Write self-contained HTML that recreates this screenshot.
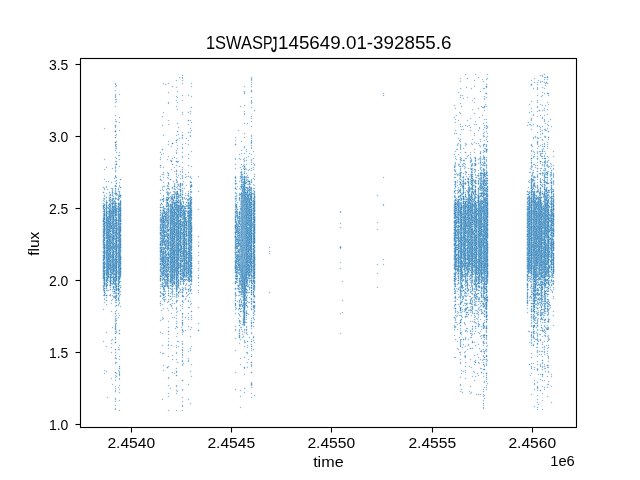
<!DOCTYPE html>
<html><head><meta charset="utf-8"><title>1SWASPJ145649.01-392855.6</title>
<style>html,body{margin:0;padding:0;background:#fff;overflow:hidden}svg{display:block;will-change:transform}text{font-family:"Liberation Sans",sans-serif;fill:#000}</style>
</head><body>
<svg width="640" height="480" viewBox="0 0 640 480">
<rect width="640" height="480" fill="#fff"/>
<g transform="translate(.5 0)" fill="none" stroke="#1f77b4" stroke-width="1"><path d="M102 187v1m0 10v1m0 1v1m0 2v1m0 5v1m0 3v5m0 4v1m0 2v1m0 7v1m0 4v1m0 4v1m0 2v1m0 1v2m0 3v1m0 26v1m0 1v1m0 2v1m0 1v4m0 4v1m0 13v1m0 31v1M103 128v1m0 30v1m0 9v1m0 9v1m0 6v1m0 2v1m0 5v3m0 4v1m0 93v1m0 1v2m0 2v1m0 5v1m0 1v1m0 29v1m0 1v1m0 27v1m0 2v1M104 127v1m0 1v1m0 28v1m0 1v1m0 7v1m0 1v1m0 7v1m0 1v1m0 9v1m0 3v1m0 7v1m0 94v1m0 2v2m0 1v1m0 5v1m0 31v1m0 27v1m0 1v2m0 1v1M105 128v1m0 30v1m0 7v1m0 1v1m0 9v1m0 1v1m0 4v4m0 3v1m0 1v2m0 1v3m0 86v1m0 3v1m0 5v3m0 2v1m0 1v1m0 27v1m0 13v1m0 23v2m0 1v1M106 166v1m0 1v1m0 11v1m0 1v1m0 2v1m0 2v2m0 2v1m0 1v1m0 4v1m0 91v1m0 1v1m0 4v1m0 4v1m0 1v1m0 25v1m0 1v1m0 11v1m0 1v1m0 22v1m0 1v1m0 24v1M107 167v1m0 18v3m0 1v1m0 2v1m0 6v1m0 86v1m0 1v1m0 1v1m0 5v1m0 6v1m0 27v1m0 13v1m0 24v1m0 24v1m0 1v1M108 180v1m0 1v1m0 6v1m0 5v1m0 1v3m0 2v2m0 80v1m0 4v1m0 1v1m0 3v1m0 101v1M109 181v1m0 104v2m0 2v1m0 5v1M110 182v1m0 5v1m0 104v1m0 2v1m0 3v1m0 2v1m0 7v1m0 28v1m0 2v1m0 3v1m0 4v1m0 25v1M111 168v1m0 12v1m0 1v1m0 3v1m0 2v2m0 1v1m0 93v1m0 3v1m0 2v1m0 6v2m0 1v1m0 5v1m0 1v1m0 14v1m0 13v2m0 1v1m0 1v1m0 1v1m0 2v1m0 1v1m0 23v1m0 1v1m0 4v1M112 167v1m0 1v1m0 12v1m0 4v1m0 97v1m0 6v3m0 2v2m0 4v1m0 7v1m0 14v1m0 1v1m0 9v1m0 4v1m0 3v1m0 4v1m0 25v1m0 4v1m0 1v1M113 168v1m0 9v1m0 9v4m0 2v1m0 95v1m0 3v1m0 3v2m0 27v1m0 11v1m0 44v1M114 83v2m0 1v1m0 3v1m0 3v4m0 1v1m0 2v1m0 3v1m0 8v1m0 3v1m0 1v1m0 4v2m0 2v1m0 4v1m0 8v3m0 1v1m0 1v1m0 6v1m0 3v1m0 2v1m0 1v3m0 1v2m0 3v1m0 3v1m0 1v1m0 4v1m0 2v3m0 4v2m0 96v1m0 5v1m0 1v1m0 3v1m0 4v1m0 4v1m0 1v4m0 1v3m0 1v1m0 3v1m0 7v1m0 12v1m0 2v1m0 1v2m0 3v2m0 11v1m0 1v1m0 2v1m0 5v1m0 1v1m0 1v2m0 6v2m0 1v1m0 3v1m0 2v2M115 82v1m0 4v1m0 1v1m0 1v1m0 1v1m0 6v1m0 2v1m0 1v1m0 1v1m0 6v1m0 1v1m0 1v1m0 3v1m0 5v2m0 21v2m0 3v1m0 3v1m0 1v1m0 9v1m0 1v1m0 7v1m0 13v1m0 106v1m0 3v1m0 32v1m0 10v1m0 1v2m0 4v1m0 1v1m0 2v1m0 9v1m0 3v2m0 1v1m0 3v1m0 6v1m0 4v1m0 4v1m0 1v1m0 1v2m0 2v1M116 83v1m0 6v1m0 3v5m0 7v1m0 8v1m0 3v2m0 1v1m0 3v2m0 2v1m0 2v1m0 6v1m0 2v1m0 5v3m0 1v1m0 5v2m0 5v3m0 1v2m0 3v1m0 2v2m0 7v1m0 1v3m0 4v1m0 4v1m0 101v1m0 5v1m0 4v1m0 2v1m0 4v1m0 2v1m0 1v1m0 2v1m0 8v1m0 12v1m0 2v1m0 3v1m0 1v1m0 12v1m0 5v1m0 5v1m0 1v1m0 1v2m0 6v2m0 1v1m0 3v1m0 2v2M117 85v1m0 13v1m0 1v1m0 19v1m0 12v1m0 6v1m0 2v1m0 1v1m0 1v1m0 3v1m0 2v1m0 2v1m0 2v1m0 1v1m0 13v1m0 2v1m0 5v1m0 1v2m0 1v1m0 4v2m0 7v1m0 76v1m0 4v1m0 4v1m0 1v1m0 1v1m0 5v1m0 1v1m0 5v1m0 2v1m0 1v1m0 1v2m0 1v1m0 2v1m0 7v2m0 14v1m0 1v1m0 8v1m0 3v1m0 7v1m0 2v1m0 2v1m0 10v1M118 94v1m0 22v1m0 4v1m0 7v1m0 21v1m0 1v1m0 1v1m0 2v1m0 6v1m0 15v1m0 2v3m0 5v1m0 7v1m0 99v2m0 3v1m0 5v1m0 1v3m0 1v1m0 26v2m0 3v1m0 5v1m0 2v1m0 9v1m0 2v2m0 1v1m0 2v2m0 5v2m0 1v2m0 2v1m0 7v1m0 9v1M119 93v1m0 1v1m0 20v1m0 1v1m0 2v1m0 1v1m0 5v1m0 1v1m0 19v1m0 1v2m0 1v1m0 1v1m0 1v1m0 4v1m0 1v1m0 13v1m0 1v2m0 3v3m0 114v2m0 6v2m0 1v2m0 26v1m0 1v3m0 1v1m0 4v1m0 1v2m0 1v1m0 15v2m0 2v1m0 3v1m0 1v3m0 1v2m0 1v1m0 5v1m0 1v1m0 7v1m0 1v1M120 94v1m0 22v1m0 4v1m0 7v1m0 21v1m0 2v1m0 3v1m0 6v1m0 15v1m0 2v1m0 5v3m0 5v1m0 80v1m0 3v1m0 4v2m0 2v1m0 2v1m0 3v1m0 1v2m0 1v1m0 1v1m0 7v1m0 29v1m0 3v1m0 6v1m0 2v1m0 11v3m0 1v1m0 2v2m0 5v1m0 3v1m0 2v1m0 7v1m0 9v1M121 196v2m0 2v1m0 5v1m0 18v1m0 6v1m0 4v1m0 10v1m0 3v4m0 4v1m0 5v1m0 9v2m0 3v1m0 3v1m0 5v1m0 2v1m0 11v1M159 152v1m0 4v1m0 1v1m0 7v1m0 8v1m0 13v1m0 2v1m0 5v2m0 3v2m0 8v1m0 2v2m0 2v2m0 12v1m0 2v2m0 2v1m0 10v1m0 12v1m0 6v1m0 7v1m0 2v1m0 1v1m0 1v1m0 2v1m0 3v1m0 5v1m0 3v1m0 14v1m0 11v1m0 19v1M160 151v1m0 1v2m0 1v1m0 3v1m0 7v1m0 6v1m0 1v1m0 11v1m0 1v2m0 1v1m0 3v1m0 2v1m0 80v2m0 5v2m0 3v1m0 5v1m0 5v1m0 3v1m0 8v1m0 1v1m0 9v1m0 1v1m0 17v1m0 1v1M161 116v1m0 8v1m0 26v2m0 1v1m0 1v1m0 1v1m0 7v1m0 6v1m0 1v1m0 4v1m0 5v1m0 1v2m0 2v1m0 6v1m0 4v2m0 1v1m0 72v2m0 4v2m0 2v1m0 3v1m0 2v1m0 2v1m0 2v2m0 3v1m0 1v1m0 5v1m0 1v2m0 11v2m0 11v1m0 6v2m0 45v1M162 83v1m0 28v1m0 2v1m0 1v1m0 6v1m0 1v1m0 8v1m0 17v2m0 12v1m0 4v2m0 1v1m0 1v1m0 2v1m0 1v1m0 12v2m0 8v1m0 82v1m0 2v2m0 10v1m0 1v1m0 2v1m0 1v1m0 5v1m0 3v1m0 11v1m0 1v1m0 9v1m0 1v1m0 5v1m0 1v1m0 10v1m0 4v1m0 27v1m0 1v1M163 82v1m0 1v1m0 26v1m0 1v1m0 2v1m0 8v1m0 8v1m0 1v1m0 15v1m0 1v1m0 11v1m0 1v1m0 2v1m0 3v2m0 1v1m0 2v1m0 1v1m0 1v1m0 5v1m0 2v1m0 9v1m0 76v1m0 19v1m0 2v1m0 2v1m0 1v1m0 23v1m0 11v1m0 6v1m0 1v1m0 9v1m0 1v1m0 2v1m0 1v1m0 27v1M164 83v2m0 27v1m0 22v1m0 17v1m0 13v1m0 4v1m0 1v1m0 2v1m0 4v1m0 2v1m0 1v1m0 2v1m0 4v2m0 2v2m0 91v1m0 9v1m0 5v1m0 9v1m0 34v1m0 11v1m0 4v1M165 83v1m0 1v1m0 100v1m0 2v1m0 2v1m0 4v2m0 3v4m0 1v1m0 70v1m0 8v3m0 5v1m0 2v1m0 2v1M166 84v1m0 74v1m0 12v1m0 4v1m0 7v2m0 3v1m0 5v1m0 94v1m0 1v1m0 2v1m0 2v1m0 2v1m0 5v1M167 83v1m0 8v1m0 9v2m0 16v1m0 3v1m0 16v1m0 2v1m0 11v1m0 1v1m0 1v1m0 10v1m0 4v1m0 5v1m0 7v1m0 99v2m0 7v1m0 3v1m0 3v1m0 1v2m0 10v1m0 5v1m0 6v1m0 3v1m0 2v1m0 2v2m0 2v1m0 7v1m0 20v2m0 6v1m0 7v1m0 2v1m0 13v1M168 82v1m0 1v1m0 6v1m0 1v1m0 7v1m0 2v1m0 14v1m0 1v1m0 1v1m0 1v1m0 14v1m0 1v2m0 1v1m0 9v1m0 1v1m0 1v1m0 19v1m0 1v1m0 19v1m0 96v1m0 9v2m0 1v1m0 8v1m0 1v1m0 3v1m0 1v1m0 4v1m0 1v1m0 1v1m0 1v2m0 1v2m0 2v2m0 1v1m0 5v1m0 1v1m0 7v1m0 10v1m0 2v1m0 4v1m0 1v1m0 5v1m0 1v2m0 1v1m0 11v1m0 1v1M169 83v1m0 8v1m0 9v2m0 16v1m0 3v1m0 16v1m0 2v1m0 11v1m0 3v1m0 17v1m0 3v1m0 1v1m0 1v1m0 3v1m0 4v1m0 3v1m0 2v2m0 82v1m0 3v2m0 18v1m0 10v1m0 5v1m0 6v1m0 3v1m0 2v1m0 2v2m0 2v1m0 7v1m0 9v1m0 10v2m0 6v1m0 2v1m0 4v1m0 2v1m0 13v1M170 146v1m0 12v1m0 9v1m0 19v1m0 1v1m0 10v1m0 91v1m0 5v1m0 5v1m0 6v1m0 31v1m0 41v1m0 1v1M171 86v1m0 58v1m0 1v1m0 10v2m0 8v1m0 1v1m0 17v1m0 3v1m0 94v1m0 6v1m0 2v1m0 2v1m0 2v1m0 3v2m0 3v1m0 1v1m0 2v1m0 26v1m0 1v1m0 8v1m0 3v1m0 12v1m0 15v1M172 85v1m0 1v1m0 58v1m0 10v1m0 1v2m0 8v1m0 11v1m0 7v1m0 1v1m0 1v1m0 103v3m0 1v2m0 1v4m0 1v1m0 3v1m0 2v1m0 1v1m0 26v1m0 8v1m0 1v1m0 1v1m0 1v1m0 10v1m0 1v1M173 86v1m0 70v2m0 8v1m0 3v1m0 8v1m0 1v4m0 3v2m0 2v1m0 95v2m0 1v2m0 6v1m0 7v1m0 46v1m0 3v1m0 12v2M174 156v1m0 1v1m0 7v1m0 1v1m0 1v1m0 1v1m0 8v2m0 104v1m0 1v1m0 3v1m0 3v1m0 4v1m0 1v1m0 11v1m0 1v1m0 9v1m0 43v1m0 1v1M175 80v1m0 6v1m0 8v1m0 3v1m0 5v1m0 28v1m0 6v1m0 7v1m0 1v2m0 3v2m0 6v1m0 1v1m0 5v2m0 1v1m0 2v1m0 2v4m0 1v1m0 2v1m0 102v1m0 1v1m0 1v1m0 2v1m0 1v2m0 3v3m0 2v1m0 2v1m0 1v2m0 2v1m0 1v1m0 3v1m0 1v1m0 6v1m0 8v1m0 1v1m0 4v2m0 5v1m0 8v1m0 3v2m0 11v2m0 3v1m0 2v1m0 16v1M176 79v1m0 1v1m0 4v1m0 1v1m0 2v1m0 3v1m0 3v1m0 1v2m0 2v1m0 1v1m0 1v1m0 13v1m0 10v1m0 1v1m0 6v1m0 1v1m0 2v2m0 4v1m0 2v1m0 1v1m0 4v1m0 1v1m0 11v1m0 4v2m0 4v2m0 107v2m0 3v1m0 2v1m0 3v1m0 2v2m0 1v2m0 1v2m0 3v1m0 3v1m0 4v1m0 1v1m0 1v1m0 3v1m0 2v1m0 3v1m0 2v1m0 2v1m0 3v1m0 1v1m0 1v1m0 4v1m0 1v1m0 3v1m0 10v1m0 2v1m0 1v1m0 2v1m0 1v1m0 14v1m0 1v1M177 80v1m0 6v1m0 2v1m0 1v1m0 5v1m0 1v2m0 1v1m0 2v1m0 1v1m0 1v1m0 11v1m0 1v1m0 2v1m0 6v2m0 2v1m0 3v1m0 1v1m0 1v2m0 1v2m0 1v2m0 4v1m0 1v1m0 2v1m0 1v1m0 5v1m0 1v3m0 2v2m0 117v1m0 1v1m0 2v1m0 4v4m0 4v1m0 2v1m0 2v1m0 1v1m0 4v1m0 3v1m0 1v1m0 1v1m0 3v1m0 1v1m0 2v3m0 4v2m0 5v1m0 1v1m0 1v1m0 4v1m0 3v1m0 12v2m0 5v2m0 16v1M178 77v1m0 13v1m0 5v1m0 4v1m0 6v1m0 13v1m0 2v1m0 1v1m0 4v1m0 1v1m0 2v2m0 5v1m0 2v1m0 11v1m0 5v1m0 7v1m0 1v2m0 3v3m0 6v1m0 98v1m0 7v1m0 2v1m0 10v1m0 15v1m0 5v1m0 6v1m0 1v1m0 2v1m0 1v1m0 14v1m0 28v1M179 76v1m0 1v1m0 48v1m0 6v1m0 2v1m0 1v1m0 21v1m0 3v1m0 1v1m0 3v1m0 2v2m0 2v1m0 9v1m0 9v1m0 76v1m0 10v1m0 6v1m0 1v2m0 8v1m0 4v1m0 30v1m0 4v1M180 77v1m0 60v1m0 27v1m0 3v1m0 1v2m0 1v1m0 1v1m0 1v1m0 105v1m0 7v1m0 10v1m0 1v1m0 2v1m0 1v1m0 15v1M181 75v1m0 1v2m0 1v1m0 2v1m0 11v1m0 4v1m0 11v1m0 1v1m0 17v1m0 4v2m0 5v1m0 2v2m0 3v1m0 3v2m0 4v1m0 4v1m0 1v1m0 2v1m0 1v4m0 8v3m0 3v1m0 89v3m0 2v1m0 2v2m0 8v1m0 3v3m0 1v1m0 1v1m0 3v1m0 1v2m0 6v3m0 1v2m0 2v1m0 1v1m0 6v1m0 1v2m0 2v1m0 1v1m0 2v1m0 1v2m0 1v1m0 2v1m0 3v2m0 23v2m0 6v1m0 3v1m0 3v2m0 3v1M182 74v1m0 6v2m0 1v1m0 9v1m0 1v1m0 2v1m0 1v1m0 9v1m0 3v1m0 15v1m0 1v1m0 5v1m0 3v1m0 1v2m0 2v1m0 1v1m0 1v1m0 1v1m0 2v1m0 2v1m0 1v1m0 2v1m0 6v2m0 4v1m0 1v2m0 3v2m0 32v1m0 63v1m0 1v1m0 12v1m0 3v1m0 5v1m0 8v1m0 7v3m0 6v1m0 4v1m0 4v2m0 11v2m0 6v1m0 21v1m0 2v1m0 4v1m0 1v1m0 1v1m0 1v1m0 1v1m0 2v1m0 1v1m0 1v1M183 75v1m0 1v2m0 1v1m0 2v1m0 11v1m0 4v1m0 11v1m0 1v1m0 17v1m0 4v2m0 5v1m0 2v2m0 3v1m0 3v2m0 4v1m0 4v1m0 1v1m0 1v2m0 2v4m0 1v1m0 1v2m0 1v1m0 4v3m0 7v1m0 84v1m0 14v1m0 2v2m0 1v1m0 1v1m0 5v1m0 1v2m0 6v2m0 3v1m0 4v1m0 6v1m0 1v2m0 2v1m0 1v1m0 2v1m0 1v2m0 1v1m0 2v1m0 1v1m0 2v1m0 23v2m0 6v1m0 3v1m0 3v2m0 3v1M184 143v1m0 30v1m0 2v1m0 3v1m0 5v1m0 1v1m0 3v1m0 1v2m0 4v4m0 79v2m0 1v1m0 1v2m0 7v2m0 2v1m0 14v1m0 12v2m0 31v1M185 138v1m0 3v1m0 1v1m0 28v1m0 1v1m0 2v1m0 6v1m0 2v1m0 3v1m0 3v2m0 2v1m0 2v1m0 79v1m0 6v1m0 1v2m0 2v2m0 2v1m0 15v1m0 1v1m0 10v1m0 1v1M186 137v1m0 1v1m0 3v1m0 30v2m0 8v1m0 1v1m0 6v1m0 3v1m0 2v1m0 6v1m0 1v1m0 4v1m0 67v1m0 4v1m0 2v2m0 2v1m0 2v3m0 17v1m0 12v1M187 95v1m0 16v1m0 11v1m0 7v1m0 5v1m0 1v1m0 3v1m0 9v1m0 3v1m0 6v1m0 6v1m0 12v1m0 5v1m0 2v1m0 6v1m0 7v1m0 73v3m0 4v4m0 6v2m0 5v1m0 5v1m0 3v1m0 1v1m0 6v1m0 24v1m0 6v1m0 1v2m0 22v1m0 14v1M188 94v1m0 1v1m0 14v1m0 1v1m0 9v1m0 1v1m0 5v1m0 1v1m0 5v1m0 1v1m0 1v1m0 1v1m0 7v1m0 1v1m0 1v1m0 1v1m0 4v1m0 1v1m0 4v1m0 1v1m0 1v1m0 1v1m0 12v1m0 6v1m0 84v1m0 1v1m0 1v1m0 5v1m0 4v1m0 1v1m0 2v1m0 3v1m0 1v1m0 3v1m0 1v1m0 1v1m0 3v1m0 4v1m0 1v1m0 22v1m0 1v1m0 4v1m0 4v1m0 20v1m0 1v1m0 12v1m0 1v1M189 95v1m0 15v3m0 10v1m0 3v1m0 6v2m0 3v1m0 3v1m0 9v1m0 3v1m0 6v1m0 6v1m0 4v1m0 3v1m0 3v1m0 1v1m0 1v1m0 2v1m0 1v1m0 97v1m0 3v1m0 1v1m0 1v1m0 3v1m0 1v1m0 1v1m0 4v1m0 3v1m0 1v1m0 6v1m0 2v1m0 6v1m0 11v1m0 1v2m0 6v1m0 1v2m0 9v1m0 12v1m0 14v1m0 3v1M190 83v1m0 2v1m0 9v1m0 10v1m0 2v1m0 3v1m0 4v1m0 1v2m0 4v1m0 1v3m0 1v2m0 2v1m0 13v1m0 14v1m0 8v1m0 4v1m0 111v1m0 4v1m0 2v1m0 1v1m0 2v1m0 1v1m0 7v1m0 1v1m0 1v1m0 7v2m0 1v1m0 4v1m0 1v1m0 8v2m0 3v1m0 12v1m0 5v1m0 1v1m0 3v1m0 25v1m0 1v1M191 82v1m0 1v2m0 1v1m0 7v1m0 1v1m0 8v1m0 1v1m0 2v1m0 1v1m0 6v2m0 1v1m0 4v2m0 1v2m0 2v2m0 13v1m0 1v1m0 12v1m0 1v1m0 8v1m0 2v1m0 9v2m0 2v2m0 90v4m0 2v2m0 1v1m0 6v2m0 11v1m0 5v1m0 5v1m0 1v2m0 6v1m0 8v1m0 1v2m0 1v1m0 12v1m0 1v1m0 5v1m0 3v1m0 1v1m0 25v1M192 83v1m0 2v1m0 9v1m0 10v1m0 14v1m0 7v1m0 20v1m0 14v1m0 11v1m0 3v1m0 1v1m0 6v2m0 7v1m0 2v2m0 1v4m0 3v1m0 5v2m0 2v3m0 6v1m0 5v1m0 2v1m0 1v1m0 1v1m0 2v1m0 3v1m0 6v1m0 7v1m0 2v1m0 4v1m0 2v1m0 4v2m0 4v1m0 3v1m0 9v1m0 11v1m0 1v1m0 1v1m0 7v1m0 18v1m0 17v1m0 11v1M197 176v1m0 14v1m0 17v1m0 26v1m0 5v1m0 2v2m0 5v1m0 2v1m0 5v1m0 1v1m0 4v1m0 1v1m0 4v1m0 1v2m0 3v1m0 2v1m0 4v1m0 1v1m0 14v1m0 15v1M198 175v1m0 1v1m0 12v1m0 1v1m0 15v1m0 1v1m0 24v1m0 1v1m0 3v1m0 1v2m0 2v1m0 3v1m0 1v2m0 1v1m0 3v1m0 3v1m0 2v1m0 3v1m0 2v1m0 4v1m0 1v1m0 1v2m0 1v1m0 2v1m0 3v1m0 12v1m0 1v1m0 13v1m0 1v1M199 176v1m0 14v1m0 17v1m0 26v1m0 5v1m0 2v2m0 5v1m0 2v1m0 5v1m0 1v1m0 4v1m0 1v1m0 4v1m0 1v2m0 3v1m0 2v1m0 4v1m0 1v1m0 14v1m0 15v1M234 137v1m0 2v1m0 17v2m0 4v1m0 3v1m0 7v1m0 1v1m0 2v1m0 2v1m0 2v1m0 4v2m0 2v1m0 2v1m0 1v1m0 1v2m0 1v2m0 6v2m0 2v1m0 5v1m0 4v3m0 2v2m0 2v1m0 2v1m0 7v2m0 2v1m0 1v2m0 1v1m0 4v1m0 7v1m0 3v1m0 13v1m0 2v1m0 1v3m0 1v1m0 8v1m0 1v1m0 3v1m0 12v1m0 2v2m0 7v1m0 11v1m0 21v1m0 16v1M235 136v1m0 1v2m0 1v1m0 15v1m0 2v1m0 2v1m0 1v1m0 1v1m0 1v1m0 5v1m0 9v2m0 4v1m0 2v1m0 95v2m0 18v1m0 1v1m0 1v1m0 10v1m0 1v2m0 2v1m0 5v1m0 1v1m0 9v1m0 1v1m0 19v1m0 1v1m0 14v1m0 1v1M236 137v1m0 2v1m0 17v2m0 4v1m0 3v1m0 7v1m0 1v1m0 2v2m0 3v2m0 2v1m0 11v1m0 82v1m0 3v1m0 2v1m0 5v1m0 2v1m0 11v1m0 12v1m0 2v2m0 7v1m0 11v1m0 21v1m0 16v1M237 130v1m0 52v1m0 1v1m0 1v1m0 1v1m0 3v1m0 1v2m0 1v1m0 1v2m0 1v1m0 79v2m0 2v1m0 3v1m0 8v1m0 1v1m0 5v2m0 3v1m0 4v1M238 129v1m0 1v1m0 22v1m0 3v1m0 22v1m0 4v1m0 1v1m0 4v3m0 1v1m0 1v2m0 1v1m0 3v1m0 68v1m0 3v1m0 3v1m0 10v1m0 1v1m0 5v1m0 3v1m0 3v1m0 1v1m0 2v1m0 1v1m0 1v1m0 1v2m0 6v3m0 11v1M239 106v1m0 23v1m0 22v1m0 1v1m0 1v1m0 9v1m0 4v1m0 5v1m0 1v1m0 1v1m0 3v2m0 4v1m0 8v1m0 2v2m0 1v1m0 2v1m0 85v1m0 1v1m0 19v1m0 8v2m0 10v1m0 2v1m0 1v1m0 13v1m0 5v1m0 25v1m0 5v1m0 10v1M240 105v1m0 1v1m0 33v1m0 8v1m0 2v2m0 5v1m0 3v1m0 1v1m0 1v2m0 12v1m0 7v1m0 1v1m0 93v1m0 3v1m0 5v2m0 5v1m0 3v1m0 6v1m0 2v1m0 6v1m0 1v1m0 1v1m0 1v2m0 6v1m0 1v1m0 2v1m0 13v1m0 1v1m0 3v1m0 1v1m0 23v1m0 1v1m0 3v1m0 1v1m0 8v1m0 1v1M241 106v1m0 33v1m0 1v1m0 6v1m0 1v2m0 1v1m0 4v1m0 3v1m0 1v4m0 128v2m0 8v1m0 2v1m0 1v1m0 3v1m0 4v1m0 1v2m0 1v1m0 3v2m0 2v1m0 2v1m0 1v1m0 18v1m0 5v1m0 25v1m0 5v1m0 10v1M242 141v1m0 8v1m0 2v1m0 5v1m0 4v1m0 2v3m0 1v1m0 129v1m0 7v1m0 2v2m0 1v3m0 9v1m0 1v2m0 1v2m0 1v1m0 2v1M243 86v1m0 4v3m0 11v1m0 5v1m0 1v2m0 8v1m0 9v1m0 3v1m0 8v2m0 5v1m0 7v1m0 9v2m0 1v1m0 151v1m0 2v4m0 1v2m0 4v3m0 3v1m0 10v1m0 10v1m0 5v1m0 13v1m0 3v1M244 85v1m0 1v1m0 2v1m0 3v1m0 9v1m0 1v1m0 3v1m0 4v1m0 6v1m0 1v1m0 7v1m0 1v1m0 1v1m0 1v1m0 6v1m0 2v1m0 3v1m0 1v1m0 2v1m0 4v2m0 162v1m0 1v1m0 4v1m0 2v1m0 2v1m0 3v1m0 1v1m0 1v1m0 8v1m0 1v1m0 10v1m0 3v1m0 1v1m0 11v1m0 1v1m0 1v1m0 1v1M245 86v1m0 4v3m0 11v1m0 5v1m0 1v2m0 8v1m0 9v1m0 3v1m0 8v2m0 1v1m0 1v1m0 1v1m0 3v2m0 2v1m0 9v2m0 147v1m0 4v3m0 5v1m0 6v1m0 2v1m0 2v1m0 5v1m0 4v1m0 10v1m0 5v1m0 13v1m0 3v1M246 123v1m0 24v1m0 3v1m0 3v1m0 1v2m0 1v1m0 1v1m0 1v1m0 4v1m0 1v1m0 1v1m0 9v1m0 122v1m0 1v1m0 10v2m0 1v1m0 1v1m0 16v1m0 2v1m0 1v1m0 3v1m0 10v1m0 4v1M247 122v1m0 1v1m0 24v1m0 1v1m0 4v2m0 2v1m0 3v1m0 4v2m0 2v2m0 8v1m0 1v2m0 107v1m0 3v2m0 3v1m0 4v1m0 1v2m0 5v1m0 1v1m0 2v1m0 3v2m0 2v1m0 1v1m0 2v1m0 8v1m0 3v1m0 2v1m0 2v1m0 4v1m0 1v1m0 1v1m0 2v1m0 1v1M248 123v1m0 29v1m0 1v1m0 1v1m0 13v1m0 3v2m0 1v1m0 6v1m0 97v1m0 4v4m0 1v1m0 1v1m0 1v1m0 5v1m0 2v2m0 7v1m0 18v1m0 2v1m0 7v1m0 1v1m0 4v2m0 4v1m0 1v1m0 1v1m0 4v1M249 152v1m0 1v1m0 1v1m0 11v1m0 8v1m0 112v2m0 1v1m0 2v1m0 1v1m0 2v1m0 1v1m0 10v1m0 21v1m0 1v1m0 20v1M250 77v4m0 1v1m0 1v1m0 1v1m0 3v1m0 6v1m0 2v4m0 3v1m0 8v1m0 1v1m0 2v1m0 4v1m0 8v2m0 1v1m0 1v2m0 1v1m0 1v1m0 1v2m0 4v2m0 4v2m0 1v1m0 1v1m0 3v3m0 8v2m0 4v1m0 97v2m0 4v1m0 1v1m0 1v1m0 3v1m0 4v1m0 1v1m0 1v1m0 1v1m0 9v1m0 1v1m0 2v1m0 2v1m0 1v1m0 3v2m0 3v1m0 1v1m0 4v1m0 3v1m0 1v1m0 3v1m0 9v3m0 15v1m0 2v1m0 1v1m0 5v1m0 3v1M251 76v1m0 10v1m0 1v1m0 6v1m0 1v2m0 4v1m0 1v1m0 1v1m0 6v1m0 3v2m0 1v1m0 2v1m0 1v1m0 6v1m0 14v1m0 3v1m0 1v1m0 2v1m0 6v1m0 1v1m0 3v1m0 6v1m0 5v1m0 1v1m0 130v1m0 11v1m0 1v1m0 2v1m0 3v1m0 4v1m0 7v1m0 1v1m0 13v1m0 13v1m0 6v1m0 3v1m0 1v1m0 1v1m0 1v1M252 77v4m0 1v1m0 1v1m0 1v1m0 3v1m0 6v1m0 2v4m0 3v1m0 8v1m0 1v1m0 2v1m0 4v1m0 8v2m0 1v1m0 1v2m0 1v1m0 1v1m0 1v2m0 2v1m0 2v1m0 3v3m0 1v3m0 2v4m0 7v4m0 2v1m0 2v1m0 1v1m0 1v1m0 103v2m0 5v1m0 1v2m0 2v1m0 3v2m0 1v1m0 1v1m0 2v1m0 2v1m0 4v1m0 3v2m0 2v1m0 2v2m0 3v1m0 3v3m0 3v1m0 9v3m0 15v1m0 2v1m0 1v1m0 5v1m0 3v1M253 110v1m0 39v1m0 1v1m0 4v1m0 1v1m0 2v1m0 2v2m0 3v1m0 3v1m0 1v2m0 5v1m0 3v1m0 110v1m0 4v2m0 20v1m0 1v1m0 7v1m0 3v1m0 1v2m0 5v1m0 1v1m0 44v1M254 109v1m0 1v1m0 39v1m0 6v1m0 7v2m0 1v1m0 3v1m0 3v1m0 2v1m0 5v2m0 1v1m0 103v1m0 4v3m0 16v1m0 2v1m0 5v1m0 9v1m0 3v2m0 1v1m0 5v1m0 44v1m0 1v1M255 110v1m0 53v2m0 8v1m0 1v1m0 2v1m0 5v1m0 2v1m0 3v2m0 1v1m0 2v1m0 1v1m0 22v1m0 19v1m0 4v2m0 20v1m0 5v1m0 3v1m0 7v3m0 4v1m0 1v1m0 3v1m0 5v2m0 1v1m0 3v1m0 4v1m0 22v1m0 52v1M268 247v1m0 3v1m0 1v1m0 38v1M269 246v1m0 1v1m0 1v1m0 3v1m0 36v1m0 1v1M270 247v1m0 3v1m0 1v1m0 38v1M339 211v2m0 10v1m0 3v1m0 18v1m0 1v1m0 13v1m0 5v1m0 44v1m0 19v1M340 210v1m0 2v1m0 8v1m0 1v1m0 1v1m0 1v1m0 16v1m0 3v1m0 11v1m0 1v1m0 3v1m0 1v1m0 42v1m0 1v1m0 17v1m0 1v1M341 211v2m0 10v1m0 3v1m0 18v1m0 1v1m0 13v1m0 5v1m0 12v1m0 18v1m0 11v2m0 19v1M342 280v1m0 1v1m0 16v1m0 1v1m0 9v1m0 1v1M343 281v1m0 18v1m0 11v1M376 195v1m0 26v1m0 6v1m0 34v1m0 8v1m0 13v1M377 194v1m0 1v1m0 24v1m0 1v1m0 4v1m0 1v1m0 32v1m0 1v1m0 6v1m0 1v1m0 11v1m0 1v1M378 195v1m0 26v1m0 6v1m0 34v1m0 8v1m0 13v1M382 93v1m0 1v1m0 81v1m0 26v2m0 53v1m0 4v1M383 92v1m0 3v1m0 79v1m0 1v1m0 24v1m0 2v1m0 51v1m0 1v1m0 2v1m0 1v1M384 93v1m0 1v1m0 81v1m0 26v2m0 53v1m0 4v1M453 105v1m0 11v1m0 15v1m0 20v1m0 10v2m0 2v2m0 3v1m0 6v1m0 2v1m0 3v1m0 3v1m0 2v3m0 2v2m0 1v1m0 12v1m0 3v1m0 3v1m0 6v1m0 9v1m0 4v1m0 2v1m0 2v3m0 6v3m0 2v1m0 2v1m0 9v1m0 4v1m0 1v1m0 1v1m0 2v1m0 5v1m0 3v1m0 3v2m0 1v1m0 16v3m0 1v1m0 5v1m0 21v1M454 104v1m0 1v1m0 1v1m0 7v1m0 1v2m0 2v1m0 7v1m0 1v1m0 1v1m0 16v1m0 1v1m0 1v2m0 1v1m0 3v2m0 9v1m0 1v1m0 4v1m0 8v1m0 4v1m0 3v1m0 72v1m0 30v1m0 6v4m0 2v1m0 3v2m0 1v1m0 1v1m0 5v1m0 3v1m0 1v1m0 2v1m0 16v1m0 1v1M455 105v1m0 1v1m0 1v1m0 5v1m0 1v2m0 1v2m0 1v1m0 5v1m0 1v1m0 17v2m0 1v1m0 1v2m0 5v1m0 13v2m0 1v1m0 15v1m0 99v2m0 6v1m0 3v1m0 6v2m0 8v1m0 4v2m0 5v1m0 2v1m0 1v1m0 15v1m0 1v1M456 108v1m0 5v1m0 1v1m0 2v1m0 2v1m0 7v1m0 1v1m0 1v1m0 9v2m0 2v1m0 1v2m0 4v1m0 3v1m0 1v3m0 1v1m0 3v1m0 1v1m0 2v1m0 1v1m0 2v1m0 2v2m0 2v1m0 8v1m0 79v1m0 3v2m0 1v1m0 1v1m0 1v1m0 1v2m0 1v2m0 2v1m0 1v4m0 8v1m0 1v2m0 3v5m0 1v2m0 1v2m0 1v1m0 9v1m0 1v1m0 6v1m0 8v1M457 92v1m0 22v1m0 4v1m0 12v1m0 4v1m0 7v1m0 1v1m0 1v1m0 3v1m0 4v1m0 4v2m0 10v1m0 2v1m0 3v2m0 1v2m0 6v1m0 2v1m0 26v1m0 52v1m0 1v1m0 1v2m0 2v1m0 4v1m0 1v1m0 1v1m0 2v2m0 1v1m0 3v1m0 5v1m0 11v2m0 1v1m0 2v1m0 1v1m0 9v1m0 1v1m0 4v1M458 91v1m0 1v1m0 18v1m0 6v1m0 1v1m0 15v1m0 1v2m0 1v1m0 2v1m0 3v1m0 3v1m0 1v1m0 7v1m0 14v1m0 1v3m0 1v3m0 104v1m0 1v1m0 1v1m0 2v2m0 3v1m0 1v2m0 16v2m0 4v1m0 7v1m0 3v1m0 8v1m0 1v1M459 78v1m0 2v1m0 6v1m0 3v1m0 2v1m0 1v1m0 5v1m0 7v1m0 8v1m0 3v1m0 1v1m0 7v1m0 3v1m0 4v7m0 2v1m0 1v1m0 2v1m0 2v1m0 1v2m0 3v4m0 9v1m0 4v4m0 95v1m0 6v1m0 1v1m0 4v1m0 1v1m0 4v1m0 8v1m0 1v1m0 4v1m0 2v1m0 3v1m0 1v1m0 1v1m0 3v1m0 1v8m0 3v1m0 1v1m0 1v2m0 4v1m0 2v2m0 13v1m0 6v2m0 5v1M460 77v1m0 1v2m0 1v1m0 4v1m0 1v1m0 4v1m0 3v1m0 3v1m0 1v1m0 1v1m0 7v1m0 8v1m0 3v1m0 1v1m0 3v1m0 1v1m0 2v1m0 3v2m0 6v2m0 1v1m0 2v1m0 6v2m0 148v2m0 12v1m0 9v2m0 12v1m0 3v1m0 2v1m0 1v2m0 2v1m0 5v1m0 2v1m0 2v1m0 1v1m0 4v1m0 2v1m0 2v2m0 1v1M461 78v1m0 2v1m0 6v1m0 8v1m0 5v1m0 1v1m0 1v1m0 5v1m0 10v1m0 3v1m0 1v1m0 3v1m0 4v1m0 1v1m0 2v6m0 2v1m0 8v2m0 1v1m0 3v4m0 15v3m0 1v1m0 106v1m0 7v1m0 6v2m0 6v1m0 6v1m0 1v2m0 3v1m0 2v1m0 2v5m0 1v1m0 4v1m0 1v1m0 4v1m0 2v2m0 5v1m0 1v2m0 1v1m0 2v1m0 6v2m0 2v1m0 1v3M462 94v1m0 1v1m0 1v1m0 7v1m0 18v1m0 1v1m0 20v1m0 9v1m0 8v1m0 4v2m0 4v2m0 9v1m0 1v1m0 8v1m0 3v1m0 84v1m0 2v3m0 10v1m0 1v2m0 6v1m0 2v1m0 13v1m0 1v1m0 9v1m0 1v1m0 1v1m0 21v2m0 1v1m0 15v1m0 1v1m0 1v1M463 95v1m0 1v1m0 1v1m0 26v1m0 1v1m0 1v1m0 16v1m0 1v1m0 12v1m0 5v1m0 3v1m0 1v2m0 97v1m0 10v1m0 8v1m0 7v1m0 1v2m0 1v1m0 10v1m0 4v2m0 19v1m0 1v1m0 1v1m0 4v1m0 3v1m0 13v1m0 1v1m0 19v1M464 74v1m0 23v1m0 26v1m0 3v1m0 13v1m0 1v1m0 2v1m0 9v2m0 1v2m0 6v1m0 1v4m0 1v1m0 3v1m0 8v1m0 1v1m0 3v1m0 86v1m0 3v3m0 8v4m0 1v1m0 1v1m0 7v1m0 4v1m0 3v1m0 8v2m0 5v2m0 5v1m0 1v1m0 6v1m0 8v1m0 3v1m0 3v3m0 5v1M465 73v1m0 1v1m0 11v1m0 36v1m0 1v1m0 15v1m0 3v1m0 10v1m0 1v2m0 4v1m0 4v1m0 4v2m0 4v1m0 3v1m0 1v1m0 1v3m0 105v2m0 2v2m0 3v1m0 11v1m0 3v1m0 2v1m0 2v2m0 2v1m0 3v1m0 3v1m0 4v1m0 1v1m0 2v1m0 3v1m0 3v1m0 2v1m0 1v1m0 1v1m0 1v1m0 1v1m0 3v1m0 3v1m0 1v1M466 74v1m0 3v1m0 7v1m0 1v1m0 8v1m0 22v1m0 4v2m0 29v2m0 1v1m0 4v1m0 2v1m0 6v2m0 1v2m0 3v1m0 1v1m0 3v2m0 2v1m0 2v1m0 91v1m0 2v2m0 2v1m0 2v1m0 3v2m0 21v1m0 2v1m0 9v3m0 6v1m0 2v1m0 1v1m0 3v3m0 4v1m0 3v1m0 3v1m0 1v1m0 5v1M467 77v1m0 1v1m0 7v1m0 8v1m0 1v1m0 20v1m0 1v1m0 3v1m0 1v1m0 16v1m0 12v2m0 9v1m0 5v1m0 1v2m0 6v1m0 2v1m0 8v1m0 95v1m0 1v1m0 5v1m0 1v1m0 6v2m0 4v1m0 1v1m0 9v1m0 1v1m0 2v1m0 6v1m0 4v2m0 2v1m0 1v1M468 78v1m0 18v1m0 22v1m0 4v2m0 27v1m0 12v1m0 1v1m0 3v1m0 1v2m0 101v1m0 7v2m0 4v1m0 1v3m0 12v1m0 1v1m0 4v1m0 11v1m0 2v1m0 6v1m0 1v1m0 2v1m0 2v1m0 2v1m0 16v1m0 24v1M469 118v1m0 5v1m0 1v2m0 2v1m0 21v1m0 1v2m0 1v2m0 1v3m0 12v1m0 1v1m0 6v1m0 88v1m0 8v1m0 1v1m0 1v2m0 3v3m0 1v1m0 1v1m0 1v1m0 1v1m0 2v1m0 2v1m0 3v2m0 8v1m0 8v2m0 1v1m0 3v1m0 1v1m0 4v2m0 13v1m0 5v1m0 1v1m0 18v1m0 3v1m0 1v2M470 88v1m0 28v1m0 1v1m0 5v2m0 1v2m0 1v1m0 11v1m0 7v1m0 3v2m0 6v2m0 1v2m0 3v1m0 1v1m0 12v1m0 5v1m0 91v1m0 10v1m0 1v1m0 15v1m0 1v1m0 4v1m0 1v1m0 6v1m0 4v3m0 1v1m0 19v1m0 1v1m0 5v2m0 17v1m0 1v1m0 3v1m0 2v1M471 87v1m0 1v1m0 10v1m0 8v1m0 8v1m0 8v1m0 2v1m0 8v1m0 2v1m0 9v1m0 1v1m0 2v1m0 138v1m0 16v2m0 1v1m0 11v3m0 1v1m0 5v1m0 20v1m0 6v1m0 1v1m0 7v1m0 9v1m0 4v1M472 88v1m0 10v1m0 1v1m0 6v1m0 1v1m0 27v1m0 1v1m0 4v1m0 13v4m0 4v1m0 124v1m0 2v2m0 17v2m0 4v1m0 1v1m0 9v1m0 4v1m0 9v1m0 1v1m0 17v1m0 3v1m0 3v1m0 1v1m0 14v1M473 80v1m0 5v1m0 11v1m0 1v1m0 1v1m0 6v1m0 3v1m0 10v1m0 8v1m0 1v1m0 3v1m0 2v1m0 1v1m0 4v1m0 2v1m0 4v1m0 6v1m0 3v1m0 1v1m0 25v1m0 78v1m0 9v3m0 3v1m0 1v1m0 2v1m0 2v1m0 1v1m0 3v2m0 2v1m0 1v2m0 2v1m0 1v1m0 1v1m0 2v1m0 5v2m0 1v1m0 1v2m0 13v1m0 6v1m0 5v1m0 2v1m0 5v1m0 5v1m0 3v1M474 74v1m0 4v1m0 1v1m0 3v1m0 1v1m0 9v1m0 1v1m0 1v1m0 1v1m0 8v1m0 1v1m0 6v1m0 1v1m0 1v1m0 6v1m0 3v1m0 4v1m0 1v1m0 4v1m0 1v2m0 1v1m0 2v1m0 2v1m0 1v2m0 3v1m0 6v3m0 1v1m0 1v1m0 4v1m0 101v1m0 19v1m0 3v1m0 12v1m0 4v1m0 2v2m0 1v1m0 6v1m0 1v1m0 1v1m0 8v1m0 1v1m0 6v1m0 1v1m0 7v1m0 2v1m0 2v1m0 1v1M475 73v1m0 1v1m0 4v1m0 5v1m0 11v1m0 3v1m0 10v1m0 6v1m0 1v1m0 10v1m0 1v1m0 6v2m0 5v1m0 2v1m0 3v1m0 11v1m0 4v1m0 4v1m0 127v1m0 2v1m0 1v1m0 6v2m0 9v2m0 1v2m0 8v1m0 1v1m0 1v1m0 8v1m0 3v1m0 4v1m0 7v1m0 2v1m0 1v1m0 2v1m0 13v1M476 74v1m0 46v1m0 1v1m0 1v1m0 16v1m0 1v1m0 12v1m0 1v1m0 1v1m0 7v3m0 2v1m0 1v1m0 1v1m0 5v1m0 15v1m0 91v1m0 9v2m0 2v1m0 2v1m0 2v1m0 1v1m0 1v2m0 6v1m0 3v1m0 2v1m0 13v1m0 8v1m0 5v1m0 12v1m0 2v1m0 16v1m0 1v1M477 77v1m0 30v1m0 15v1m0 5v1m0 28v1m0 3v1m0 6v1m0 2v2m0 2v2m0 1v1m0 1v1m0 1v1m0 4v5m0 98v1m0 2v1m0 8v2m0 2v2m0 5v1m0 1v1m0 2v2m0 2v2m0 6v1m0 11v1m0 8v1m0 1v1m0 1v1m0 4v1m0 9v1m0 1v2M478 76v1m0 1v1m0 28v1m0 1v1m0 7v1m0 9v3m0 1v1m0 10v1m0 1v2m0 14v1m0 1v1m0 1v1m0 4v1m0 1v2m0 12v2m0 101v1m0 7v1m0 5v2m0 1v1m0 12v3m0 10v1m0 11v1m0 1v1m0 2v1m0 5v1m0 1v1m0 1v1m0 2v1m0 11v2m0 1v1m0 16v1m0 1v1M479 77v1m0 13v1m0 16v1m0 7v1m0 1v1m0 7v1m0 2v2m0 8v1m0 1v1m0 1v2m0 6v2m0 3v1m0 3v2m0 3v1m0 1v4m0 1v1m0 1v1m0 1v1m0 14v1m0 97v1m0 1v2m0 3v1m0 5v3m0 6v2m0 1v2m0 1v1m0 1v1m0 1v1m0 9v1m0 2v1m0 1v1m0 7v1m0 2v1m0 1v1m0 1v1m0 5v1m0 1v1m0 4v1m0 3v1m0 6v1M480 90v1m0 1v1m0 13v1m0 10v1m0 9v2m0 9v1m0 3v1m0 4v1m0 2v1m0 4v1m0 15v1m0 19v1m0 92v1m0 4v1m0 4v1m0 3v2m0 2v1m0 1v1m0 3v1m0 2v1m0 6v1m0 1v1m0 3v1m0 1v1m0 2v2m0 1v2m0 3v2m0 9v1m0 3v1m0 5v1m0 1v1m0 2v1m0 3v1m0 1v1m0 23v1m0 1v1M481 79v1m0 11v1m0 13v1m0 9v1m0 23v1m0 1v1m0 4v1m0 4v2m0 3v3m0 1v2m0 4v1m0 131v1m0 9v1m0 10v1m0 5v1m0 1v2m0 1v2m0 2v1m0 2v1m0 1v1m0 9v1m0 2v1m0 6v2m0 6v1m0 1v1m0 24v1M482 78v1m0 1v2m0 6v1m0 19v1m0 5v1m0 1v1m0 6v1m0 5v1m0 3v1m0 1v2m0 7v3m0 3v1m0 1v1m0 2v3m0 2v2m0 4v3m0 2v1m0 113v1m0 6v1m0 5v3m0 6v1m0 1v2m0 13v1m0 2v1m0 1v1m0 6v3m0 4v1m0 1v1m0 3v2m0 4v2m0 4v2m0 5v1m0 4v1m0 2v1m0 12v1m0 1v1m0 2v1m0 1v1m0 3v1m0 2v1m0 1v1m0 1v2M483 79v2m0 1v1m0 4v1m0 1v1m0 6v1m0 1v2m0 8v1m0 1v1m0 4v1m0 3v1m0 2v1m0 1v2m0 1v2m0 1v1m0 6v1m0 2v1m0 2v1m0 3v3m0 3v2m0 6v1m0 4v2m0 140v1m0 1v1m0 9v1m0 17v2m0 6v1m0 1v1m0 4v2m0 3v1m0 2v1m0 4v1m0 5v1m0 1v2m0 1v1m0 3v2m0 4v2m0 3v2m0 3v3m0 1v2m0 6v1M484 81v1m0 5v1m0 1v1m0 3v1m0 1v1m0 4v1m0 3v1m0 3v2m0 1v1m0 6v1m0 1v1m0 2v2m0 3v2m0 1v1m0 5v1m0 1v1m0 1v1m0 4v2m0 1v1m0 5v1m0 153v1m0 9v1m0 4v1m0 8v1m0 6v1m0 3v2m0 3v1m0 4v2m0 4v1m0 1v1m0 4v1m0 5v1m0 2v1m0 3v1m0 2v1m0 2v1m0 1v2m0 1v1m0 5v1m0 1v2m0 2v1m0 1v1m0 1v2M485 79v1m0 4v1m0 2v2m0 3v1m0 1v1m0 1v4m0 3v1m0 1v1m0 1v1m0 2v1m0 11v1m0 3v2m0 3v2m0 3v2m0 1v2m0 4v1m0 1v1m0 4v1m0 5v1m0 1v1m0 5v4m0 1v1m0 138v1m0 9v1m0 4v1m0 4v3m0 1v1m0 1v1m0 1v1m0 3v1m0 3v1m0 5v2m0 7v1m0 1v2m0 1v1m0 8v1m0 3v1m0 2v1m0 2v1m0 3v1m0 5v1m0 2v1M486 74v1m0 5v1m0 2v1m0 4v1m0 7v1m0 1v1m0 5v2m0 1v1m0 10v1m0 1v2m0 1v2m0 5v1m0 1v2m0 6v1m0 2v1m0 9v1m0 2v1m0 5v1m0 160v2m0 8v1m0 6v2m0 2v1m0 2v1m0 4v1m0 13v1m0 15v3m0 5v1M487 73v1m0 1v1m0 1v1m0 6v1m0 2v1m0 9v1m0 8v1m0 12v1m0 2v1m0 8v2m0 1v2m0 3v1m0 4v2m0 2v1m0 3v1m0 4v1m0 1v3m0 2v1m0 1v3m0 1v1m0 117v1m0 18v1m0 10v1m0 1v1m0 1v1m0 2v1m0 4v3m0 3v4m0 2v3m0 6v1m0 11v3m0 9v1m0 3v1m0 1v2m0 1v2m0 1v1m0 1v1M488 74v1m0 3v1m0 47v2m0 5v1m0 2v1m0 12v1m0 22v1m0 17v1m0 2v2m0 4v2m0 6v1m0 13v1m0 1v1m0 2v2m0 3v2m0 5v1m0 3v1m0 11v2m0 1v1m0 3v1m0 7v1m0 11v3m0 7v1m0 4v1m0 2v1m0 1v1m0 13v1m0 3v1m0 25v1m0 14v1m0 22v1M526 125v1m0 71v1m0 1v1m0 1v1m0 1v2m0 2v1m0 2v2m0 5v1m0 6v1m0 15v2m0 1v1m0 6v2m0 10v1m0 6v1m0 2v1m0 3v1m0 1v1m0 7v1m0 3v1m0 3v1m0 2v1m0 7v1m0 2v1m0 3v1M527 122v1m0 1v1m0 1v1m0 54v1m0 5v1m0 118v2m0 1v1m0 1v1m0 1v1m0 17v1M528 104v1m0 7v1m0 8v1m0 1v3m0 46v1m0 13v1m0 1v1m0 93v1m0 3v1m0 1v1m0 5v1m0 10v1m0 2v1m0 3v1m0 17v1m0 1v1m0 9v1M529 103v1m0 1v1m0 5v1m0 1v1m0 8v2m0 1v1m0 42v1m0 2v1m0 1v1m0 5v1m0 3v1m0 3v1m0 2v1m0 84v1m0 11v1m0 1v1m0 8v2m0 1v1m0 28v1m0 1v1m0 8v1m0 1v1m0 31v1M530 80v1m0 4v1m0 15v1m0 2v1m0 3v1m0 2v2m0 5v3m0 2v1m0 5v1m0 14v1m0 5v2m0 3v1m0 4v1m0 2v1m0 1v2m0 4v1m0 1v1m0 1v2m0 97v1m0 9v2m0 4v3m0 5v1m0 9v1m0 1v1m0 6v2m0 1v1m0 1v2m0 1v2m0 4v1m0 2v1m0 1v2m0 1v2m0 2v1m0 1v1m0 7v1m0 3v1m0 5v1m0 2v3m0 4v2m0 1v1m0 17v1M531 79v1m0 1v1m0 4v1m0 13v1m0 1v1m0 4v1m0 1v2m0 1v1m0 4v1m0 3v1m0 4v1m0 1v1m0 1v1m0 12v1m0 5v1m0 2v1m0 1v1m0 1v1m0 13v1m0 2v1m0 127v1m0 25v1m0 18v1m0 5v1m0 1v1m0 1v1m0 1v1m0 3v1m0 1v2m0 3v1m0 2v1m0 1v2m0 17v1m0 1v1M532 80v1m0 4v1m0 2v1m0 12v1m0 6v1m0 2v1m0 2v2m0 2v3m0 3v2m0 3v1m0 7v2m0 5v1m0 2v1m0 2v1m0 4v3m0 2v1m0 2v2m0 4v3m0 5v1m0 105v1m0 18v1m0 2v1m0 1v1m0 7v1m0 3v5m0 5v1m0 4v1m0 4v2m0 1v3m0 8v1m0 3v1m0 8v3m0 4v1m0 20v1M533 78v1m0 3v1m0 4v1m0 1v1m0 23v1m0 2v1m0 6v1m0 1v1m0 10v1m0 2v1m0 6v1m0 3v1m0 3v2m0 2v1m0 4v1m0 1v2m0 2v1m0 4v1m0 15v1m0 150v1m0 1v1m0 18v1m0 1v1m0 2v1m0 1v1m0 10v1m0 2v2m0 4v1m0 16v1M534 77v1m0 1v1m0 1v1m0 1v1m0 4v1m0 25v2m0 8v1m0 11v1m0 1v1m0 24v1m0 3v1m0 2v1m0 1v1m0 2v1m0 153v2m0 3v3m0 3v1m0 1v1m0 1v1m0 18v1m0 2v1m0 3v1m0 8v1m0 1v2m0 2v1m0 2v1m0 1v1m0 14v1m0 1v1M535 78v1m0 3v1m0 52v1m0 2v1m0 13v1m0 1v1m0 1v1m0 11v1m0 9v1m0 1v1m0 1v1m0 1v1m0 3v2m0 122v1m0 2v1m0 5v1m0 2v1m0 2v1m0 3v3m0 6v2m0 5v1m0 19v1m0 1v1m0 10v1m0 2v2m0 4v1m0 16v1M536 82v1m0 1v1m0 2v3m0 5v1m0 4v1m0 1v1m0 3v2m0 3v1m0 4v1m0 8v2m0 5v1m0 3v1m0 1v1m0 2v1m0 1v2m0 3v1m0 2v3m0 2v1m0 2v1m0 2v1m0 4v1m0 6v2m0 3v1m0 2v1m0 5v1m0 4v1m0 108v1m0 3v1m0 3v1m0 4v2m0 2v1m0 1v1m0 2v1m0 3v4m0 2v3m0 7v1m0 1v1m0 1v1m0 1v3m0 3v1m0 4v1m0 2v1m0 3v1m0 1v1m0 11v1m0 3v1m0 1v1m0 1v1m0 4v1m0 3v1m0 2v1m0 4v1m0 1v1M537 80v2m0 3v2m0 3v1m0 3v1m0 1v1m0 2v1m0 3v1m0 1v1m0 2v1m0 1v1m0 1v1m0 2v1m0 1v1m0 6v1m0 2v1m0 3v1m0 1v1m0 2v1m0 2v2m0 4v3m0 1v2m0 3v2m0 4v2m0 1v2m0 1v1m0 6v1m0 6v2m0 1v1m0 9v1m0 102v2m0 8v1m0 3v1m0 5v2m0 10v1m0 2v1m0 13v2m0 1v2m0 3v1m0 1v1m0 1v1m0 2v1m0 1v2m0 1v1m0 1v1m0 3v1m0 2v1m0 6v1m0 1v1m0 1v1m0 5v1m0 2v1m0 1v1m0 1v1m0 1v2m0 1v2m0 1v1m0 3v1M538 79v1m0 1v2m0 1v1m0 2v3m0 5v1m0 4v1m0 1v1m0 3v2m0 3v1m0 4v1m0 8v1m0 6v1m0 6v1m0 1v1m0 1v3m0 1v2m0 3v2m0 2v1m0 2v1m0 2v1m0 2v1m0 7v3m0 1v1m0 1v1m0 2v1m0 3v1m0 7v1m0 101v1m0 4v1m0 5v1m0 1v1m0 7v1m0 2v4m0 2v1m0 2v2m0 2v1m0 1v2m0 1v2m0 2v1m0 1v1m0 2v1m0 2v1m0 1v1m0 1v1m0 1v1m0 4v1m0 2v1m0 3v1m0 1v1m0 2v1m0 1v1m0 6v1m0 3v1m0 1v1m0 1v1m0 4v1m0 3v1m0 2v2m0 1v1m0 1v1m0 1v1M539 75v1m0 4v3m0 21v1m0 10v1m0 9v1m0 3v1m0 1v1m0 2v1m0 2v2m0 6v2m0 3v1m0 1v4m0 7v1m0 4v1m0 1v1m0 1v1m0 5v3m0 6v1m0 93v1m0 7v1m0 6v1m0 8v2m0 1v1m0 2v1m0 1v1m0 4v2m0 1v1m0 8v1m0 2v1m0 1v1m0 3v1m0 1v1m0 8v1m0 1v2m0 1v1m0 8v3m0 12v1m0 24v1M540 74v1m0 1v1m0 3v1m0 2v1m0 12v1m0 6v1m0 1v1m0 8v1m0 1v1m0 15v2m0 1v2m0 1v1m0 5v1m0 1v1m0 3v1m0 13v1m0 2v1m0 3v1m0 3v1m0 1v1m0 8v1m0 130v1m0 4v1m0 2v1m0 3v1m0 1v1m0 1v1m0 1v1m0 2v1m0 24v1m0 3v1m0 5v1m0 1v1m0 2v1m0 1v1M541 76v1m0 5v1m0 4v1m0 4v1m0 4v1m0 6v2m0 4v1m0 4v1m0 1v2m0 7v2m0 1v3m0 2v1m0 2v1m0 1v2m0 3v3m0 2v2m0 1v1m0 5v1m0 3v4m0 1v1m0 1v2m0 1v1m0 1v2m0 2v1m0 1v1m0 2v1m0 3v1m0 1v2m0 4v1m0 124v3m0 1v1m0 6v1m0 2v1m0 1v1m0 2v1m0 2v1m0 1v1m0 2v1m0 2v1m0 1v2m0 1v2m0 5v4m0 1v1m0 1v1m0 5v2m0 2v2m0 5v1m0 6v1m0 6v1m0 8v1M542 74v1m0 2v1m0 2v1m0 1v1m0 3v1m0 1v1m0 2v1m0 1v2m0 9v1m0 1v1m0 2v1m0 1v1m0 4v1m0 2v1m0 5v1m0 1v1m0 1v1m0 1v1m0 6v1m0 2v1m0 1v1m0 3v1m0 6v2m0 3v1m0 1v1m0 4v1m0 1v1m0 1v2m0 4v1m0 1v1m0 3v2m0 6v1m0 4v1m0 112v1m0 1v2m0 9v1m0 1v1m0 1v1m0 6v1m0 2v1m0 1v1m0 3v1m0 3v2m0 1v1m0 1v1m0 1v1m0 1v2m0 1v1m0 6v2m0 4v1m0 6v1m0 1v1m0 1v1m0 3v1m0 1v1m0 4v1m0 1v1m0 4v1m0 1v1m0 6v1m0 1v1M543 74v4m0 1v1m0 1v2m0 4v2m0 3v2m0 1v1m0 9v1m0 2v1m0 6v1m0 1v5m0 4v1m0 2v2m0 5v1m0 2v2m0 2v1m0 3v1m0 2v1m0 2v1m0 1v1m0 5v1m0 4v1m0 1v2m0 1v1m0 5v2m0 6v1m0 107v1m0 4v1m0 8v1m0 10v1m0 6v2m0 1v2m0 5v2m0 4v2m0 1v1m0 1v1m0 2v1m0 2v1m0 1v1m0 1v1m0 5v3m0 2v3m0 5v2m0 9v2m0 1v1m0 3v1m0 6v1m0 8v1M544 73v1m0 1v2m0 3v2m0 3v1m0 1v1m0 1v1m0 2v1m0 1v1m0 10v1m0 1v1m0 3v1m0 2v1m0 1v1m0 1v1m0 3v2m0 4v1m0 6v1m0 6v1m0 5v1m0 1v1m0 1v3m0 161v3m0 4v2m0 3v1m0 5v1m0 5v1m0 1v1m0 2v1m0 9v1m0 7v1m0 5v1m0 1v1m0 7v1m0 1v1m0 4v1m0 3v1M545 74v1m0 1v1m0 1v2m0 6v1m0 1v1m0 4v1m0 10v1m0 1v1m0 1v1m0 1v1m0 4v1m0 3v4m0 1v1m0 3v1m0 2v1m0 3v1m0 2v1m0 4v2m0 6v2m0 1v3m0 9v2m0 3v1m0 7v1m0 134v2m0 5v1m0 1v1m0 1v1m0 11v1m0 3v1m0 3v3m0 1v1m0 1v2m0 1v1m0 9v1m0 1v2m0 1v2m0 1v1m0 7v1m0 6v1m0 1v1M546 76v1m0 2v1m0 5v1m0 16v1m0 2v1m0 3v1m0 4v1m0 8v2m0 3v1m0 2v1m0 4v2m0 4v1m0 1v1m0 1v1m0 1v1m0 4v1m0 2v1m0 3v1m0 2v1m0 4v3m0 5v1m0 1v3m0 3v3m0 90v1m0 10v1m0 3v1m0 2v1m0 1v1m0 2v1m0 3v2m0 3v2m0 2v3m0 5v2m0 2v1m0 4v2m0 1v1m0 1v1m0 5v1m0 2v1m0 1v1m0 1v1m0 2v1m0 1v1m0 1v1m0 11v2m0 2v1m0 4v1m0 7v1m0 2v1m0 8v1M547 75v1m0 4v1m0 3v1m0 10v1m0 5v1m0 1v2m0 3v1m0 1v1m0 2v1m0 1v1m0 5v1m0 1v1m0 3v1m0 1v2m0 8v1m0 1v1m0 7v1m0 5v1m0 14v1m0 15v1m0 90v1m0 19v1m0 18v1m0 1v2m0 4v1m0 13v2m0 2v1m0 6v2m0 6v2m0 2v1m0 6v1m0 2v2m0 2v1m0 1v1m0 3v1m0 1v1m0 1v2m0 1v1m0 6v1m0 1v1M548 76v1m0 2v1m0 3v1m0 8v1m0 3v1m0 5v2m0 1v1m0 3v1m0 4v1m0 5v1m0 1v1m0 3v1m0 1v1m0 11v1m0 1v1m0 1v1m0 1v1m0 1v1m0 9v2m0 2v1m0 1v1m0 3v1m0 1v1m0 3v2m0 3v2m0 6v1m0 104v2m0 1v2m0 1v1m0 8v1m0 9v1m0 5v1m0 1v2m0 3v1m0 3v1m0 9v1m0 6v1m0 1v1m0 5v2m0 1v1m0 1v1m0 3v1m0 1v1m0 2v1m0 2v1m0 3v1m0 1v2m0 1v1m0 1v1m0 8v1M549 93v1m0 1v1m0 8v1m0 14v1m0 1v1m0 3v1m0 13v1m0 17v1m0 2v1m0 2v1m0 1v1m0 2v1m0 2v2m0 1v3m0 3v1m0 1v1m0 10v2m0 38v1m0 29v1m0 15v1m0 7v1m0 1v3m0 2v1m0 4v2m0 9v1m0 1v3m0 7v1m0 4v3m0 5v1m0 1v1m0 7v1m0 1v1m0 8v3m0 2v1m0 3v1m0 1v1m0 3v2m0 8v1m0 2v1M550 118v1m0 1v1m0 5v1m0 35v1m0 4v1m0 1v1m0 1v1m0 5v1m0 8v1m0 6v2m0 4v1m0 79v1m0 3v1m0 2v1m0 15v1m0 16v1m0 19v1m0 34v1m0 1v1m0 9v1m0 15v1M551 119v1m0 5v1m0 1v1m0 39v2m0 118v1m0 4v1m0 12v1m0 1v1m0 65v1m0 3v1m0 7v1m0 1v1m0 13v1m0 1v1M552 126v1m0 24v1m0 4v1m0 7v3m0 1v2m0 2v1m0 3v2m0 1v2m0 3v1m0 1v1m0 91v2m0 7v1m0 1v1m0 3v1m0 2v1m0 1v1m0 12v1m0 3v1m0 9v1m0 48v1m0 1v1m0 9v1m0 15v1M553 150v1m0 1v1m0 2v1m0 1v1m0 6v1m0 1v2m0 2v1m0 1v1m0 5v2m0 5v1m0 2v1m0 89v2m0 5v2m0 3v3m0 2v1m0 3v1m0 10v1m0 1v1m0 1v1m0 1v1m0 7v1m0 1v1M554 151v1m0 4v1m0 8v1m0 2v2m0 3v5m0 2v5m0 4v2m0 2v1m0 1v1m0 1v2m0 4v1m0 7v1m0 10v1m0 4v1m0 4v1m0 6v2m0 5v1m0 28v1m0 1v1m0 2v1m0 3v1m0 2v1m0 1v1m0 6v1m0 1v1m0 12v1m0 3v1m0 9v1" stroke-opacity="0.067"/>
<path d="M102 192v1m0 14v2m0 2v1m0 7v1m0 3v1m0 4v1m0 1v1m0 6v1m0 1v1m0 1v1m0 3v1m0 12v1m0 10v1m0 2v1m0 1v1m0 11v1M103 188v1m0 2v1m0 1v1m0 7v1m0 89v1M104 187v1m0 4v1m0 4v1m0 98v1M105 197v1m0 3v3m0 35v1m0 36v1m0 23v1M106 196v1m0 1v1m0 100v1m0 1v1M107 181v1m0 15v1m0 3v1m0 2v1m0 4v1m0 78v1m0 11v1M108 192v1m0 88v2m0 2v1M109 191v1m0 1v1m0 2v1m0 5v1m0 81v1m0 4v1m0 4v1M110 192v2m0 96v1M111 189v1m0 2v1m0 4v2m0 96v1m0 3v1m0 39v1M112 197v1m0 77v1m0 12v1m0 1v1m0 5v1m0 3v1m0 39v1M113 192v2m0 98v1m0 2v1M114 125v1m0 11v1m0 38v2m0 7v1m0 2v1m0 3v1m0 1v1m0 100v1m0 17v1m0 12v1m0 1v2m0 3v1m0 3v1m0 11v1m0 22v1M115 98v1m0 2v1m0 18v1m0 3v1m0 9v1m0 3v1m0 8v1m0 1v1m0 8v1m0 4v1m0 1v1m0 3v1m0 8v1m0 1v1m0 2v2m0 10v1m0 98v1m0 6v1m0 8v1m0 3v2m0 1v1m0 4v1m0 11v1m0 1v1m0 11v1m0 1v1m0 5v1m0 14v1m0 15v1m0 1v1m0 10v1M116 84v1m0 1v1m0 13v1m0 1v1m0 22v1m0 9v1m0 1v1m0 9v1m0 9v1m0 4v1m0 2v1m0 15v2m0 1v1m0 3v1m0 8v1m0 103v1m0 2v1m0 6v1m0 1v1m0 2v1m0 4v1m0 2v1m0 1v1m0 1v2m0 7v1m0 11v1m0 7v1m0 5v1m0 11v1m0 1v1M117 164v1m0 18v1m0 16v1m0 80v1m0 3v1m0 11v1m0 1v2M118 190v1m0 1v1m0 102v2m0 6v1m0 26v1m0 2v1m0 14v1m0 17v1m0 1v1m0 2v1m0 2v1M119 179v1m0 20v1m0 86v1m0 9v1m0 1v1m0 1v1m0 2v1m0 24v1m0 1v2m0 1v1m0 30v1m0 3v2M120 178v1m0 1v1m0 7v1m0 9v1m0 80v1m0 8v1m0 3v1m0 2v1m0 34v1m0 2v1m0 32v1m0 1v1m0 5v1M121 179v1m0 7v1m0 15v1m0 1v1m0 6v1m0 1v1m0 2v2m0 8v1m0 3v1m0 2v1m0 1v1m0 2v1m0 2v2m0 2v1m0 2v3m0 10v1m0 1v2m0 4v1m0 3v2m0 11v1M159 165v1m0 13v1m0 32v1m0 2v1m0 3v1m0 4v4m0 6v1m0 2v1m0 3v1m0 10v1m0 1v3m0 4v1m0 5v1m0 2v2m0 3v1m0 3v2m0 11v1m0 3v1m0 6v1M160 158v1m0 5v1m0 13v1m0 106v1m0 1v1m0 9v1M161 149v1m0 15v1m0 36v1m0 91v1m0 1v1m0 6v1M162 148v1m0 1v1m0 35v1m0 1v1m0 1v1m0 10v1m0 6v2m0 71v1m0 7v1m0 7v1m0 1v1M163 149v1m0 23v1m0 13v1m0 1v1m0 12v1m0 2v1m0 40v1m0 45v1m0 7v1m0 16v1m0 1v1M164 198v1m0 2v1m0 4v2m0 76v1m0 11v1m0 1v1M165 290v1m0 1v1m0 1v1m0 2v1m0 2v1M166 188v1m0 2v1m0 1v2m0 172v1M167 175v1m0 2v1m0 4v2m0 2v1m0 1v1m0 6v1m0 91v1m0 4v1m0 1v1m0 35v1m0 36v1M168 176v2m0 13v1m0 4v1m0 35v1m0 63v1m0 33v1m0 1v1M169 173v1m0 1v1m0 3v1m0 3v1m0 10v1m0 1v1m0 3v1m0 76v1m0 4v2m0 3v1m0 7v2m0 2v1m0 1v1m0 2v1m0 26v1M170 178v1m0 1v1m0 12v1m0 1v1m0 91v1m0 4v1m0 2v1m0 1v2m0 4v1M171 162v1m0 1v1m0 14v1m0 7v1m0 6v1m0 95v1m0 8v1M172 161v1m0 1v1m0 1v1m0 20v1m0 108v1M173 164v1m0 22v2m0 3v1m0 2v1m0 92v1m0 2v1m0 2v1m0 1v1m0 6v1m0 13v1M174 190v1m0 8v1m0 95v1M175 140v1m0 20v1m0 8v2m0 8v1m0 7v1m0 6v1m0 3v1m0 87v1m0 1v3m0 2v1m0 1v1m0 4v1m0 24v1m0 44v1m0 3v1M176 97v1m0 33v1m0 19v1m0 8v1m0 8v1m0 2v1m0 2v1m0 1v1m0 8v1m0 1v1m0 122v1m0 10v1m0 2v1m0 20v1m0 23v1m0 3v1m0 1v1m0 14v1M177 96v1m0 33v1m0 1v1m0 37v1m0 5v1m0 6v1m0 5v2m0 100v1m0 4v1m0 15v1m0 58v1m0 3v1m0 14v1M178 131v1m0 30v1m0 25v1m0 2v2m0 95v1M179 183v1m0 3v1m0 3v1m0 1v1m0 5v1m0 18v1m0 57v1m0 1v1m0 3v1m0 1v2m0 1v1m0 1v2M180 182v1m0 15v1m0 89v1M181 135v1m0 35v1m0 6v1m0 14v1m0 4v1m0 1v2m0 93v2m0 4v1m0 11v1m0 6v1m0 1v2m0 6v1m0 19v1m0 10v1m0 18v1M182 76v1m0 2v1m0 33v1m0 20v1m0 33v1m0 1v1m0 18v1m0 12v2m0 78v2m0 10v1m0 2v1m0 7v1m0 1v1m0 4v1m0 2v1m0 3v1m0 13v1m0 8v1m0 5v1m0 4v1m0 2v1m0 5v2m0 15v1m0 1v1M183 135v1m0 48v1m0 3v1m0 10v1m0 4v1m0 82v1m0 3v1m0 5v1m0 15v1m0 6v1m0 1v2m0 8v1m0 17v1m0 10v1m0 2v1m0 15v1M184 199v1m0 5v1m0 76v2m0 4v1m0 7v1M185 176v1m0 17v1m0 7v1m0 75v1m0 2v1m0 2v1m0 1v1M186 177v1m0 17v1m0 5v1m0 1v2m0 7v1m0 3v1m0 61v1m0 6v1m0 2v1m0 6v1M187 120v1m0 55v1m0 16v1m0 2v1m0 1v1m0 5v1m0 5v1m0 31v1m0 3v1m0 3v1m0 8v1m0 21v1m0 12v1m0 1v1M188 119v1m0 1v1m0 171v1m0 1v1m0 22v1m0 40v1M189 132v1m0 43v1m0 5v1m0 3v1m0 4v1m0 1v1m0 1v2m0 85v1m0 1v1m0 1v2m0 3v1m0 2v1m0 6v1M190 112v1m0 65v1m0 4v2m0 3v1m0 1v1m0 2v1m0 1v1m0 87v1m0 9v1m0 9v1m0 7v1m0 37v1M191 177v1m0 3v1m0 1v1m0 120v1m0 5v1m0 1v1m0 3v1m0 1v1M192 197v1m0 13v2m0 1v2m0 1v1m0 4v1m0 6v1m0 6v1m0 7v1m0 1v1m0 2v2m0 5v1m0 5v1m0 1v1m0 6v1m0 1v1m0 3v1m0 1v3m0 29v1M197 330v1M198 262v1m0 6v1m0 6v1m0 14v1m0 37v1m0 1v1M199 330v1M234 144v1m0 35v1m0 2v1m0 14v1m0 6v1m0 3v1m0 1v1m0 4v1m0 3v3m0 16v2m0 1v5m0 10v1m0 6v1m0 4v2m0 5v1m0 1v1m0 2v3m0 9v1m0 6v1m0 2v3M235 143v1m0 1v1m0 49v1m0 6v1m0 77v1m0 3v1m0 12v1m0 3v2M236 144v1m0 35v1m0 3v1m0 7v1m0 1v1m0 2v1m0 3v1m0 16v1m0 74v2m0 1v1m0 3v1m0 2v3m0 1v1m0 1v1M237 204v2m0 83v1m0 5v1M238 209v1m0 1v1m0 35v1m0 28v1m0 4v2m0 7v1m0 9v2m0 2v2m0 8v1m0 5v1m0 4v1m0 7v1m0 1v3M239 159v1m0 16v1m0 12v1m0 6v1m0 11v2m0 66v1m0 16v2m0 16v1m0 1v1m0 2v1m0 2v1m0 3v2m0 1v1m0 11v1M240 158v1m0 12v1m0 1v2m0 4v1m0 1v1m0 2v2m0 109v1m0 5v1m0 10v1m0 2v1m0 9v1m0 3v1m0 3v1m0 1v3M241 170v1m0 128v1m0 9v1m0 18v1M242 165v1m0 6v2m0 124v2m0 8v1m0 1v1m0 7v4m0 1v1m0 1v1m0 10v1M243 158v1m0 1v1m0 3v1m0 2v1m0 5v1m0 163v1m0 29v1M244 112v1m0 61v1m0 156v1m0 34v1M245 160v1m0 3v1m0 2v1m0 133v1m0 8v1m0 5v1m0 1v1m0 4v2m0 5v1m0 1v1m0 8v1m0 25v1M246 150v1m0 17v1m0 6v1m0 2v1m0 108v1m0 6v1m0 23v1m0 12v1m0 2v1m0 6v1m0 11v1M247 178v1m0 108v1m0 5v1m0 2v2m0 2v1m0 11v1m0 1v2m0 13v1m0 3v1m0 6v1m0 1v1m0 3v1M248 169v1m0 9v1m0 6v1m0 94v2m0 18v1m0 11v1m0 27v1M249 170v1m0 112v1m0 1v1M250 91v1m0 50v1m0 145v1m0 9v2m0 1v1m0 1v1m0 5v1m0 12v1m0 2v1m0 15v1m0 4v1m0 9v1m0 5v1m0 9v1m0 10v2M251 81v1m0 1v1m0 1v1m0 6v1m0 24v1m0 19v1m0 1v1m0 4v1m0 1v1m0 14v1m0 1v1m0 5v1m0 13v1m0 113v1m0 7v1m0 1v1m0 2v1m0 8v1m0 7v1m0 14v1m0 6v1m0 7v1m0 3v1m0 9v1m0 1v1m0 12v1M252 91v1m0 50v1m0 39v1m0 7v1m0 1v1m0 6v1m0 47v1m0 31v1m0 6v1m0 2v1m0 3v1m0 4v1m0 4v1m0 3v1m0 10v1m0 6v2m0 10v1m0 3v1m0 4v1m0 9v1m0 5v1m0 9v1m0 10v2M253 164v1m0 3v1m0 10v1m0 5v1m0 3v1m0 2v1m0 2v1m0 101v1m0 12v1m0 5v1m0 2v1m0 1v1m0 1v1m0 14v1M254 163v1m0 11v1m0 2v1m0 5v1m0 119v1m0 8v1m0 1v1m0 2v1m0 3v1m0 14v1M255 191v1m0 2v1m0 4v1m0 4v1m0 1v1m0 1v1m0 22v1m0 2v2m0 1v1m0 7v2m0 5v1m0 2v1m0 4v4m0 3v1m0 3v1m0 1v1m0 1v1m0 2v1m0 3v1m0 2v3m0 17v2m0 4v1M269 252v1M383 94v1M453 167v1m0 9v1m0 13v1m0 13v2m0 1v2m0 1v2m0 1v2m0 2v1m0 4v1m0 1v2m0 3v1m0 3v1m0 1v1m0 13v1m0 5v2m0 9v1m0 6v1m0 6v1m0 1v1m0 5v1m0 3v1m0 23v1M454 164v1m0 11v1m0 1v1m0 4v1m0 1v3m0 5v1m0 76v1m0 16v1m0 6v1m0 1v1m0 1v1m0 1v1m0 6v1m0 8v1m0 11v1M455 133v1m0 23v1m0 1v1m0 9v1m0 2v2m0 6v1m0 7v2m0 2v1m0 2v1m0 86v1m0 4v2m0 10v1m0 16v1m0 4v1m0 3v1M456 158v1m0 12v1m0 9v1m0 3v2m0 6v1m0 3v1m0 77v1m0 1v1m0 8v1m0 4v1m0 19v1M457 143v1m0 29v1m0 7v1m0 7v1m0 1v1m0 6v1m0 44v1m0 31v1m0 12v2m0 24v1m0 1v1m0 32v1M458 144v1m0 21v1m0 6v1m0 14v1m0 98v1m0 2v1m0 5v1m0 14v1m0 1v1m0 1v1m0 32v1M459 113v1m0 25v1m0 1v1m0 17v1m0 17v1m0 5v1m0 90v1m0 6v2m0 3v1m0 5v1m0 1v2m0 6v2m0 3v1m0 4v1m0 7v1m0 4v1m0 7v1m0 12v1M460 96v1m0 15v1m0 12v1m0 35v1m0 3v1m0 21v1m0 13v1m0 97v1m0 5v2m0 9v1m0 7v1m0 1v1m0 2v1m0 1v1m0 15v1m0 5v1M461 95v1m0 30v1m0 30v1m0 16v4m0 3v1m0 8v1m0 10v1m0 97v2m0 3v1m0 6v1m0 5v2m0 6v1m0 14v1m0 5v1M462 129v1m0 33v1m0 12v1m0 13v1m0 4v1m0 86v2m0 11v1m0 14v1m0 1v1m0 3v1m0 2v1M463 159v1m0 1v1m0 109v1m0 5v2m0 2v1m0 3v2m0 1v1m0 6v1m0 13v1m0 1v1m0 26v1m0 1v1M464 152v1m0 11v2m0 11v1m0 3v1m0 3v3m0 2v1m0 2v2m0 5v1m0 77v1m0 2v1m0 1v1m0 1v1m0 3v1m0 4v1m0 10v1m0 10v1m0 7v1m0 26v1m0 3v1m0 1v1M465 151v1m0 1v1m0 9v1m0 2v1m0 1v1m0 4v1m0 4v1m0 1v1m0 17v1m0 88v1m0 2v1m0 3v1m0 12v1m0 4v1m0 1v2m0 7v1m0 28v1m0 18v1M466 143v1m0 1v1m0 6v1m0 20v1m0 5v1m0 1v1m0 12v1m0 82v1m0 11v1m0 9v1m0 11v1m0 5v1m0 11v1M467 155v1m0 16v1m0 7v1m0 2v1m0 1v1m0 2v2m0 3v2m0 98v1m0 2v1m0 14v1m0 1v1m0 16v1M468 156v1m0 20v1m0 97v1m0 3v2m0 1v2m0 19v1m0 8v2m0 1v1M469 168v1m0 5v1m0 3v1m0 2v1m0 92v1m0 2v1m0 2v1m0 9v1m0 9v1m0 1v1m0 6v1m0 4v1m0 33v1M470 153v1m0 11v1m0 6v1m0 4v1m0 15v1m0 79v1m0 9v1m0 1v2m0 1v1m0 1v1m0 2v1m0 12v1m0 1v1m0 2v1m0 20v1m0 14v1m0 1v1m0 42v1M471 144v1m0 13v1m0 3v2m0 3v1m0 22v1m0 97v1m0 5v1m0 6v1m0 3v1m0 2v1m0 3v1m0 8v1m0 4v1m0 4v1m0 4v1m0 4v2m0 50v1M472 143v1m0 22v1m0 117v1m0 14v1m0 5v1m0 19v1m0 4v1m0 2v1m0 1v1m0 4v1m0 2v1M473 163v1m0 1v1m0 3v1m0 2v1m0 1v1m0 1v1m0 5v3m0 2v1m0 2v1m0 6v1m0 78v2m0 1v1m0 2v1m0 7v1m0 4v1m0 1v1m0 2v1m0 1v1m0 1v1m0 2v2m0 12v1m0 4v1m0 14v1m0 30v1M474 134v1m0 25v1m0 7v1m0 2v1m0 15v1m0 87v2m0 10v1m0 2v1m0 1v1m0 19v1m0 5v1m0 1v1m0 5v1m0 33v1m0 10v1M475 124v1m0 41v1m0 5v1m0 3v1m0 7v1m0 115v1m0 14v1m0 1v1m0 3v1m0 1v1m0 1v1m0 37v1M476 158v1m0 1v1m0 2v1m0 1v1m0 9v1m0 5v2m0 4v1m0 1v2m0 1v1m0 2v1m0 2v1m0 92v1m0 8v1m0 3v1m0 6v1m0 7v1m0 2v1m0 3v1m0 35v1M477 143v1m0 32v1m0 4v1m0 93v1m0 11v2m0 12v1m0 8v1m0 3v1m0 3v1m0 4v1m0 2v1m0 67v1M478 158v1m0 18v1m0 113v2m0 1v1m0 12v1m0 2v2m0 4v1m0 5v1m0 4v1m0 5v1m0 29v1M479 146v1m0 6v1m0 3v1m0 4v2m0 13v1m0 4v1m0 1v1m0 7v1m0 1v1m0 89v1m0 3v1m0 4v1m0 6v1m0 5v1m0 1v1m0 14v1m0 1v2m0 5v1m0 29v1m0 31v1M480 140v1m0 4v1m0 8v1m0 11v1m0 3v1m0 27v1m0 91v2m0 4v2m0 9v1m0 5v1m0 21v1m0 14v1m0 21v1M481 107v1m0 45v1m0 5v1m0 3v1m0 4v2m0 1v1m0 19v1m0 5v1m0 87v1m0 17v2m0 9v1m0 21v1m0 34v1m0 1v1M482 106v1m0 51v1m0 4v1m0 12v1m0 2v1m0 18v1m0 95v1m0 7v1m0 2v1m0 17v1m0 2v1m0 1v1m0 12v2m0 8v1m0 7v1m0 4v1m0 4v1m0 2v1M483 132v1m0 1v1m0 165v2m0 9v1m0 4v1m0 12v1m0 10v1m0 3v1m0 5v1m0 1v1m0 7v1m0 7v1m0 1v1m0 19v1m0 13v1m0 1v1M484 97v1m0 7v1m0 20v1m0 6v1m0 1v1m0 7v1m0 22v1m0 1v1m0 126v1m0 6v1m0 5v1m0 3v1m0 4v1m0 3v1m0 16v1m0 2v1m0 8v1m0 17v1m0 1v1m0 23v1m0 1v1M485 119v1m0 5v1m0 2v1m0 17v1m0 14v1m0 2v1m0 5v1m0 15v1m0 107v1m0 18v1m0 3v1m0 3v2m0 14v1m0 1v1m0 3v1m0 11v1m0 1v1m0 7v1m0 3v1m0 7v1m0 3v1m0 5v1M486 78v1m0 13v1m0 1v1m0 34v1m0 6v1m0 1v1m0 2v1m0 5v1m0 10v1m0 4v1m0 5v1m0 175v1m0 2v1m0 5v1m0 3v1m0 3v1m0 17v1m0 5v1m0 1v1M487 79v1m0 13v1m0 31v1m0 11v1m0 2v1m0 1v1m0 3v1m0 4v1m0 13v1m0 5v1m0 4v1m0 110v1m0 6v1m0 8v1m0 5v1m0 1v1m0 1v2m0 2v1m0 3v1m0 4v2m0 18v1m0 2v1m0 5v1m0 5v1m0 15v1M488 141v1m0 33v1m0 2v1m0 4v1m0 2v1m0 4v1m0 6v1m0 2v2m0 2v2m0 8v1m0 12v1m0 7v1m0 4v1m0 1v1m0 2v1m0 1v1m0 3v2m0 2v1m0 1v1m0 3v1m0 7v1m0 6v1m0 1v2m0 16v1m0 2v1M526 191v1m0 2v1m0 3v1m0 3v1m0 3v1m0 1v1m0 4v1m0 2v1m0 4v2m0 6v2m0 7v1m0 21v1m0 2v1m0 3v1m0 6v1m0 2v1m0 1v2m0 2v1m0 3v1m0 1v1m0 2v2m0 1v2m0 1v1m0 1v4M527 190v1m0 2v1m0 1v2m0 85v1M528 180v1m0 1v1m0 100v1m0 3v1m0 2v1m0 1v2m0 1v4m0 2v3m0 60v1M529 277v1m0 85v1m0 1v1M530 84v1m0 40v1m0 19v1m0 16v1m0 4v1m0 1v1m0 8v1m0 1v2m0 1v2m0 1v1m0 3v1m0 4v1m0 86v1m0 5v1m0 5v2m0 4v1m0 8v1m0 4v1m0 1v1m0 15v1m0 2v1m0 6v1m0 21v1M531 83v1m0 40v1m0 39v1m0 7v1m0 1v1m0 105v1m0 2v1m0 5v1m0 5v1m0 3v1m0 13v1m0 5v1m0 1v1m0 2v1m0 6v1m0 6v1m0 2v1m0 2v1M532 84v1m0 66v1m0 10v1m0 2v1m0 1v1m0 112v1m0 1v1m0 2v1m0 1v1m0 1v1m0 5v3m0 1v1m0 1v1m0 2v1m0 3v1m0 9v1m0 8v1m0 5v1m0 2v1m0 26v1M533 152v1m0 18v1m0 1v1m0 1v1m0 2v1m0 3v1m0 130v1m0 8v1m0 1v1m0 21v1M534 137v1m0 13v1m0 1v1m0 1v1m0 1v1m0 7v1m0 12v2m0 1v1m0 5v1m0 135v2m0 14v1m0 5v1m0 22v1M535 164v1m0 1v1m0 9v1m0 6v1m0 9v1m0 108v1m0 3v1m0 2v1m0 3v1m0 2v1m0 5v1m0 2v2m0 11v1M536 137v1m0 4v1m0 15v1m0 6v1m0 2v1m0 2v1m0 4v2m0 7v2m0 3v1m0 3v1m0 106v1m0 3v1m0 8v1m0 3v1m0 1v1m0 1v1m0 3v1m0 6v1m0 4v1m0 4v1m0 25v1m0 17v1M537 83v1m0 17v1m0 65v1m0 1v2m0 1v1m0 5v1m0 5v1m0 10v1m0 90v2m0 23v1m0 6v1m0 8v1m0 4v1m0 4v1m0 4v1m0 46v1m0 18v1M538 110v1m0 15v1m0 10v1m0 4v1m0 8v1m0 6v1m0 9v1m0 2v1m0 4v1m0 8v1m0 1v2m0 6v1m0 91v1m0 17v1m0 5v1m0 3v1m0 3v1m0 14v1m0 8v1m0 7v1m0 17v1m0 17v1M539 109v1m0 1v1m0 15v1m0 46v1m0 6v2m0 1v1m0 4v2m0 91v1m0 9v1m0 11v1m0 5v1m0 1v1m0 1v1m0 25v1m0 33v1m0 15v1M540 110v1m0 15v1m0 1v1m0 1v1m0 21v1m0 16v1m0 2v1m0 128v1m0 18v1m0 6v1m0 13v1m0 9v1m0 2v1m0 34v1m0 1v1M541 75v1m0 5v1m0 13v1m0 37v1m0 20v1m0 2v1m0 21v1m0 19v1m0 111v1m0 4v1m0 23v1m0 19v1m0 5v1m0 23v1M542 96v1m0 35v1m0 1v1m0 10v1m0 2v1m0 8v1m0 5v1m0 16v1m0 6v1m0 8v1m0 4v2m0 2v1m0 96v1m0 4v1m0 9v1m0 2v1m0 22v1m0 15v1m0 8v1m0 4v1M543 110v1m0 22v1m0 10v1m0 4v1m0 6v1m0 7v2m0 8v1m0 1v1m0 5v1m0 4v2m0 2v2m0 5v1m0 4v1m0 82v1m0 2v3m0 8v1m0 1v1m0 3v1m0 1v1m0 5v1m0 1v1m0 3v1m0 1v1m0 9v1m0 14v1m0 3v1m0 8v1m0 5v1m0 7v1m0 5v1M544 78v1m0 4v1m0 25v1m0 20v1m0 6v1m0 9v1m0 11v2m0 6v1m0 3v1m0 142v1m0 12v1m0 5v1m0 2v1m0 11v1m0 1v1m0 2v1m0 11v1m0 1v1m0 20v1M545 84v1m0 61v1m0 10v1m0 6v2m0 17v1m0 2v1m0 101v1m0 23v1m0 5v1m0 7v1m0 1v3m0 3v1M546 81v1m0 11v1m0 35v1m0 28v1m0 2v2m0 1v1m0 1v1m0 8v1m0 102v1m0 6v2m0 2v1m0 6v1m0 1v1m0 20v1m0 16v1m0 28v1M547 92v1m0 1v1m0 30v1m0 5v1m0 5v1m0 5v1m0 1v1m0 1v1m0 9v1m0 2v1m0 2v1m0 3v1m0 13v1m0 6v1m0 103v1m0 5v1m0 14v1m0 6v1m0 1v1m0 3v1m0 3v1m0 4v1m0 1v1m0 2v1m0 4v1m0 1v1m0 4v1m0 1v1m0 1v1m0 7v1M548 77v1m0 16v1m0 29v1m0 5v1m0 1v1m0 3v1m0 19v1m0 4v1m0 3v1m0 6v1m0 4v1m0 6v1m0 8v1m0 121v1m0 25v1m0 4v1m0 1v1m0 6v1m0 10v1M549 131v1m0 5v1m0 29v1m0 15v1m0 5v1m0 12v1m0 1v1m0 3v1m0 2v1m0 46v1m0 14v1m0 12v1m0 14v1m0 4v2m0 10v1m0 1v1m0 17v1m0 1v1M550 164v1m0 1v1m0 3v1m0 7v2m0 5v1m0 1v1m0 3v1m0 13v1m0 2v1m0 27v1m0 21v1m0 11v1m0 3v2m0 5v1m0 2v1m0 3v1m0 1v1m0 13v1m0 1v1m0 1v1M551 163v1m0 1v1m0 3v1m0 6v2m0 100v1m0 3v2m0 2v1m0 2v1m0 1v1m0 83v1M552 170v1m0 2v3m0 2v1m0 2v1m0 3v1m0 1v1m0 5v1m0 1v1m0 86v1m0 2v1m0 4v1M553 238v1m0 49v1m0 8v1M554 191v1m0 2v1m0 1v1m0 3v1m0 1v1m0 4v1m0 2v1m0 7v1m0 2v1m0 3v2m0 1v1m0 16v1m0 3v1m0 6v1m0 4v1m0 3v1m0 2v1m0 3v1m0 8v1m0 1v1" stroke-opacity="0.125"/>
<path d="M102 205v2m0 17v1m0 1v1m0 2v1m0 1v1m0 2v3m0 10v1m0 8v2m0 1v1m0 4v3m0 1v1m0 6v2M103 199v1m0 94v1M104 200v1m0 2v1M105 206v1m0 36v1m0 17v1m0 3v1m0 3v1m0 5v1m0 10v1m0 7v1M106 289v1M107 203v1m0 6v1m0 75v1M108 200v1m0 78v1M109 194v1m0 88v1M110 196v1m0 91v1M111 194v2m0 9v1m0 26v1m0 51v1m0 4v1M112 196v1m0 89v1M113 195v1m0 1v1m0 87v1M114 131v1m0 10v1m0 56v1m0 85v1m0 2v1m0 9v1m0 43v1M115 85v1m0 46v1m0 3v1m0 50v1m0 12v1m0 104v1m0 6v1m0 17v1m0 7v1m0 2v1m0 1v1m0 29v1m0 2v1M116 131v1m0 13v1m0 30v1m0 8v1m0 6v1m0 6v1m0 2v1m0 1v1m0 77v1m0 8v1m0 14v1m0 12v1m0 13v1m0 8v1m0 29v1M117 193v1m0 1v1m0 2v1m0 5v1m0 2v1m0 87v1m0 2v1m0 6v1M118 194v1M119 187v1m0 13v1m0 92v1m0 3v1M120 186v1m0 95v1m0 3v1M121 201v1m0 2v1m0 2v1m0 1v1m0 6v1m0 2v2m0 3v1m0 1v1m0 1v3m0 7v1m0 1v2m0 3v1m0 13v1m0 1v1m0 5v1m0 1v1m0 2v2M159 207v1m0 2v1m0 9v1m0 7v1m0 3v1m0 10v1m0 1v1m0 12v2m0 3v1m0 5v1m0 6v1M160 166v1m0 13v1m0 22v1m0 4v2m0 6v1m0 76v1m0 8v1m0 1v1M161 179v1m0 97v1m0 2v1m0 2v1m0 1v1m0 6v1M162 203v1m0 2v1m0 111v1M163 197v1m0 78v1m0 3v1m0 1v1m0 1v1m0 13v1M164 246v1m0 46v1M165 199v2m0 5v1m0 2v1m0 23v1m0 3v1M166 207v2m0 14v1m0 14v1M167 173v1m0 21v1m0 11v1m0 43v1m0 49v1m0 64v1M168 172v1m0 12v1m0 1v1m0 1v1m0 82v1m0 11v1m0 4v1m0 2v1m0 7v1m0 1v1m0 64v1M169 188v1m0 3v1m0 14v1m0 65v1m0 4v1m0 6v1m0 7v1M170 161v1m0 37v1m0 1v1m0 1v1m0 80v1m0 1v1m0 2v1m0 15v1M171 143v1m0 56v1m0 90v1m0 1v1m0 2v1m0 7v1M172 142v1m0 1v1M173 143v1m0 42v1M174 285v1M175 186v1m0 4v1m0 6v1m0 81v1m0 3v1M176 139v1m0 1v1m0 20v1m0 129v1m0 34v1M177 140v1m0 39v1m0 4v1m0 1v1m0 102v1m0 1v2m0 1v1m0 5v1m0 24v1M178 186v1m0 107v1M179 190v1m0 3v1m0 74v1m0 7v1m0 1v1m0 1v1M180 280v1m0 10v1M181 183v1m0 1v1m0 3v3m0 7v1m0 18v1m0 61v2M182 136v1m0 58v1m0 4v1m0 3v1m0 88v1m0 8v1m0 48v1M183 194v1m0 3v1m0 93v1m0 8v1m0 28v1M184 278v1M185 198v1m0 6v1M186 199v1m0 13v1m0 1v1m0 21v1M187 219v1m0 10v1m0 14v1m0 43v1M188 192v1m0 95v1M189 120v1m0 169v1M190 285v1m0 2v1M191 196v1m0 85v1m0 7v1M192 185v2m0 12v1m0 2v1m0 7v1m0 7v1m0 8v1m0 3v1m0 2v1m0 2v1m0 9v1m0 7v1m0 1v1m0 2v1m0 2v1m0 2v1m0 9v1M234 177v1m0 10v1m0 23v1m0 4v1m0 1v1m0 8v1m0 4v1m0 13v2m0 5v1m0 5v2m0 3v1m0 22v1M235 179v1m0 2v1m0 14v1m0 2v1m0 73v1m0 12v1m0 11v1m0 6v1m0 1v1M236 177v1m0 21v1m0 3v1m0 31v1m0 14v1m0 32v1M237 206v3m0 44v1m0 27v1m0 4v1M238 198v1m0 16v1m0 58v1m0 5v1m0 3v1m0 7v1M239 247v1m0 23v1m0 18v1m0 8v1m0 3v1m0 28v1M240 175v1m0 4v1m0 6v2m0 8v1m0 1v1m0 5v1m0 87v1m0 8v1m0 7v1m0 9v1m0 1v1M241 183v1m0 6v2m0 103v1m0 10v1M242 175v1m0 119v1m0 6v2m0 18v1M244 159v1m0 15v1M245 166v1m0 6v1m0 4v1m0 1v1m0 128v1m0 1v1m0 9v1m0 7v1M246 186v1m0 2v1m0 105v1m0 5v1m0 14v1m0 11v1M247 176v1m0 5v1m0 93v1m0 14v1m0 10v1M248 182v2m0 95v1m0 4v1m0 2v1M249 185v1m0 100v1M250 182v2m0 2v1m0 89v2m0 1v1m0 2v1m0 2v1m0 4v1m0 1v1m0 1v1M251 295v1m0 25v1m0 2v1m0 15v1m0 4v1m0 1v1m0 7v1m0 7v1M252 188v1m0 6v2m0 53v1m0 23v1m0 9v1m0 3v1m0 1v2m0 7v1m0 6v1m0 2v1M253 191v1m0 119v1m0 2v1M254 190v1m0 100v2m0 1v1m0 8v1m0 5v1m0 2v1M255 202v1m0 2v1m0 3v1m0 4v1m0 6v1m0 3v1m0 1v1m0 2v1m0 2v1m0 2v1m0 2v2m0 6v1m0 2v2m0 4v1m0 8v2m0 1v1m0 3v1m0 1v1m0 6v1m0 1v1m0 12v1m0 5v1M339 247v1M341 247v1M453 204v1m0 5v1m0 11v1m0 9v1m0 2v1m0 1v1m0 1v1m0 3v1m0 1v1m0 2v1m0 6v1m0 2v2m0 4v1m0 3v1m0 4v1m0 2v1m0 1v1m0 1v1M454 168v1m0 2v1m0 10v1m0 16v1m0 19v1m0 65v1m0 32v1M455 165v1m0 1v1m0 121v1m0 13v1m0 3v1m0 9v1M456 174v1m0 7v1m0 7v1m0 10v1m0 26v1m0 42v1m0 2v1m0 9v1m0 12v1m0 6v1m0 3v1m0 6v1M457 192v1m0 3v1m0 45v1m0 21v1m0 7v1m0 5v1m0 4v1m0 28v1M458 175v1m0 17v1m0 1v1m0 2v1m0 82v1m0 2v1M459 165v1m0 6v1m0 3v1m0 2v1m0 17v2m0 69v1m0 3v1m0 2v1m0 1v4m0 2v1m0 4v1m0 1v1m0 13v1m0 3v3M460 140v1m0 26v1m0 3v1m0 8v1m0 4v1m0 7v1m0 140v1M461 166v1m0 6v1m0 5v1m0 3v1m0 2v1m0 5v1m0 3v2m0 91v1m0 6v2m0 12v1M462 160v1m0 4v1m0 14v1m0 1v1m0 76v1m0 24v1m0 15v1m0 1v1m0 36v1M463 164v1m0 1v1m0 11v1m0 15v1m0 75v1m0 18v1m0 9v1M464 167v1m0 11v1m0 2v1m0 1v1m0 94v2m0 15v1m0 11v1m0 30v1M465 144v1m0 48v1m0 90v1m0 6v1m0 19v1M466 171v1m0 11v1m0 7v1m0 4v1m0 64v1m0 9v2m0 5v2m0 6v1m0 1v1m0 3v1m0 2v1m0 9v1m0 4v1m0 4v1m0 15v1M467 195v1m0 1v1m0 79v1m0 26v1m0 1v1M468 284v2m0 5v1m0 15v1M469 182v2m0 1v1m0 103v1M470 159v1m0 16v1m0 1v1m0 12v1m0 89v1m0 16v1m0 5v1M471 186v1m0 92v1m0 7v1m0 1v2m0 1v1m0 4v1m0 4v1m0 8v1m0 22v1m0 13v1M472 171v1m0 1v1m0 104v1m0 4v1m0 7v1m0 6v1m0 4v1m0 23v1M473 178v1m0 7v1m0 1v1m0 6v1m0 31v1m0 52v1m0 7v2m0 4v1m0 18v1m0 28v1M474 158v1m0 11v1m0 12v1m0 109v1m0 4v1m0 2v1m0 1v1m0 10v1m0 1v1m0 45v1M475 162v1m0 16v1m0 19v1m0 90v1m0 8v1m0 2v1m0 10v1m0 13v1M476 180v1m0 10v1m0 1v1m0 2v1m0 85v1M477 183v1m0 10v1m0 62v1m0 23v1m0 3v1m0 12v2m0 12v1M478 174v1m0 4v1m0 104v1m0 4v1m0 7v1m0 2v1m0 12v1M479 159v1m0 20v2m0 8v1m0 118v1M480 164v1m0 32v1m0 80v1m0 4v1m0 4v1m0 4v1m0 1v1m0 9v1m0 4v1M481 162v1m0 2v1m0 33v1m0 106v1M482 164v1m0 5v1m0 1v1m0 2v1m0 2v1m0 20v1m0 82v1m0 1v1m0 1v1m0 2v3m0 1v1m0 12v1m0 4v1M483 106v1m0 168v1m0 26v1m0 9v1m0 1v1m0 7v1m0 34v1m0 5v1m0 1v1m0 29v1M484 145v1m0 4v1m0 1v1m0 3v1m0 3v1m0 35v1m0 110v1m0 5v1m0 9v1m0 4v1m0 13v1m0 13v1m0 1v1m0 5v1M485 86v1m0 19v1m0 37v1m0 4v2m0 6v1m0 1v1m0 2v1m0 29v1m0 98v1m0 3v1m0 5v1m0 10v1m0 1v2m0 3v1m0 6v2m0 21v1m0 1v1m0 4v1m0 2v1m0 13v1M486 148v1m0 27v1m0 157v1m0 22v1m0 14v1m0 3v1m0 1v1M487 86v1m0 41v1m0 45v1m0 2v1m0 6v1m0 99v1m0 4v1m0 5v1m0 12v1m0 3v1m0 22v1m0 20v1m0 2v1m0 13v1M488 180v1m0 6v1m0 1v1m0 5v2m0 7v1m0 4v3m0 5v1m0 1v1m0 5v1m0 4v1m0 2v2m0 2v1m0 6v2m0 4v2m0 7v2m0 2v2m0 3v1m0 5v3M526 212v1m0 1v1m0 3v3m0 2v1m0 1v2m0 6v1m0 1v1m0 3v1m0 5v1m0 9v1m0 8v1m0 3v1m0 2v1m0 12v2M527 192v1m0 12v1m0 75v1m0 9v1m0 12v1M528 279v1m0 4v2m0 14v1M529 181v1m0 97v1m0 1v1m0 14v1M530 158v1m0 26v1m0 1v2m0 2v1m0 1v1m0 81v1m0 4v1m0 5v1m0 16v1m0 2v1m0 4v1M531 146v1m0 10v1m0 3v1m0 6v1m0 8v1m0 115v1m0 8v1m0 1v2m0 6v1m0 20v1M532 145v1m0 12v1m0 17v1m0 6v2m0 96v1m0 2v1m0 5v1m0 7v1m0 1v1m0 8v1m0 4v1m0 1v2m0 7v2m0 4v2m0 2v1m0 9v1M533 181v1m0 138v1m0 7v1m0 5v1M534 188v1m0 1v1m0 123v1m0 6v1m0 10v1M535 185v1m0 5v2m0 112v1m0 13v1M536 187v1m0 98v1m0 4v1m0 4v1m0 2v1m0 3v1m0 8v1m0 12v1m0 14v1M537 157v1m0 31v1m0 93v1m0 16v1m0 8v1m0 31v1M538 193v1m0 87v1m0 6v1m0 8v1m0 2v1m0 7v1m0 4v1m0 11v1m0 14v1M539 161v1m0 26v1m0 97v1m0 1v1m0 12v1m0 1v1m0 11v1M540 156v1m0 3v1m0 24v1m0 94v1m0 15v1m0 9v2m0 8v1M541 151v1m0 3v1m0 5v1m0 19v1m0 4v1m0 1v1m0 2v1m0 2v1m0 131v1m0 1v1m0 45v1M542 152v1m0 21v1m0 105v1m0 10v1m0 2v1m0 11v1m0 8v1m0 11v1m0 33v1M543 146v1m0 4v1m0 6v1m0 3v1m0 9v1m0 2v1m0 3v1m0 1v1m0 2v1m0 1v1m0 2v1m0 9v2m0 3v1m0 82v2m0 3v1m0 2v1m0 1v1m0 1v1m0 4v2m0 4v2m0 1v1m0 5v1M544 145v1m0 11v1m0 11v1m0 119v1m0 12v1m0 18v1M545 159v1m0 15v1m0 2v1m0 1v1m0 3v1m0 2v1m0 122v1m0 21v1M546 77v1m0 93v1m0 127v1m0 6v1m0 4v1m0 15v1M547 78v1m0 3v1m0 93v1m0 1v1m0 5v1m0 4v1m0 94v1m0 1v1m0 25v1m0 53v1M548 138v1m0 34v1m0 8v1m0 6v1m0 146v1M549 191v1m0 3v1m0 3v3m0 7v1m0 13v1m0 10v2m0 26v1m0 1v1m0 4v1m0 11v2m0 5v1m0 14v1m0 5v1m0 11v1M550 173v1m0 7v1m0 1v1m0 4v1m0 1v1m0 77v1m0 3v1m0 4v1m0 7v1M551 171v1m0 8v1M552 183v1m0 4v1m0 5v1m0 89v1M553 192v1m0 83v1M554 199v1m0 1v1m0 2v1m0 1v1m0 6v2m0 2v1m0 2v1m0 2v2m0 4v1m0 4v3m0 4v2m0 1v1m0 8v3m0 1v4m0 1v3m0 1v1m0 6v1" stroke-opacity="0.174"/>
<path d="M102 218v1m0 1v2m0 10v1m0 7v1m0 1v1m0 1v1m0 6v2m0 7v1m0 1v2m0 3v1m0 2v2m0 1v1m0 3v2M103 210v1m0 1v1m0 68v1m0 10v1M104 287v1M105 204v2m0 1v1m0 2v2m0 1v1m0 3v1m0 2v1m0 19v3m0 6v1m0 18v1m0 9v1m0 2v2m0 5v1m0 1v1m0 1v1M106 294v1m0 1v1M107 205v2m0 8v1m0 67v1m0 11v1M108 204v1m0 1v1m0 2v1m0 68v1M109 201v1m0 71v1m0 1v1m0 2v3m0 1v1M110 198v1m0 4v1m0 82v1M111 199v1m0 1v2m0 50v1m0 25v1m0 1v2m0 2v1M112 278v1m0 1v1m0 1v1m0 4v1M113 200v1m0 4v1m0 78v1m0 4v1M114 198v1m0 19v1m0 21v2m0 44v1m0 5v1M115 141v1m0 1v1m0 147v1m0 7v1m0 32v1M116 142v1m0 73v1m0 64v1m0 12v1m0 3v1M117 203v1m0 2v1m0 3v1m0 1v2m0 2v3m0 2v1m0 17v1m0 2v1m0 25v2m0 4v2m0 1v1m0 1v2m0 3v1m0 8v1M118 202v1m0 89v1M119 199v1m0 2v1m0 81v1m0 1v1m0 1v1m0 4v1m0 73v1M120 194v1m0 83v1M121 195v1m0 6v1m0 5v1m0 1v2m0 1v1m0 21v1m0 8v1m0 2v1m0 8v3m0 4v1m0 7v1M159 230v1m0 2v1m0 10v1m0 2v2m0 1v2m0 12v1m0 13v1M160 206v1m0 4v1m0 1v1m0 9v1m0 12v1m0 3v1m0 21v1m0 9v1m0 1v1M161 199v1m0 4v1m0 5v1m0 1v1m0 1v2m0 30v1m0 19v1m0 3v1m0 7v2M162 198v1m0 1v1m0 10v1m0 34v1m0 40v1m0 7v1M163 214v1m0 30v1m0 44v1m0 5v1M164 250v1m0 32v1m0 11v1M165 211v1m0 26v1m0 10v1m0 27v1M166 201v1m0 8v1m0 26v1m0 11v2m0 1v2m0 24v1m0 7v1M167 232v1m0 19v1m0 2v1m0 31v1M168 174v1m0 25v1m0 1v1m0 24v2m0 21v1m0 31v1m0 11v1M169 198v1m0 9v1m0 5v1m0 2v1m0 6v3m0 4v2m0 7v1m0 5v2m0 11v1m0 10v1m0 4v2m0 2v2m0 7v1M170 197v1M171 203v1m0 80v1m0 3v1M172 195v1m0 91v1M173 196v1m0 8v1m0 80v1M174 187v1m0 5v1m0 6v1M175 196v2m0 3v1m0 36v1m0 39v1m0 2v2m0 3v1m0 1v1M176 181v1M177 195v1m0 3v1m0 3v1M178 193v1m0 4v1m0 5v1m0 73v1m0 12v1M179 184v2m0 10v1m0 6v2m0 12v1m0 29v1m0 5v1m0 7v2m0 5v1m0 1v1m0 1v1m0 1v1m0 5v1m0 2v1m0 8v1M180 188v1m0 3v1m0 3v1M181 184v1m0 9v2m0 1v1m0 22v1m0 46v2m0 3v1m0 3v1m0 12v1m0 2v1M182 193v1m0 2v1m0 12v1m0 21v1m0 7v1m0 5v1m0 16v3m0 15v1m0 7v1m0 1v1m0 30v1m0 9v1M183 197v1m0 91v1m0 5v1M184 277v1M185 209v1M186 208v1m0 9v1m0 58v1m0 2v1M187 202v2m0 3v1m0 6v1m0 2v1m0 19v1m0 9v1m0 1v1m0 26v1m0 1v2M188 194v1m0 3v1m0 2v1M189 197v1m0 2v1m0 88v1M190 278v1M191 187v1m0 33v1m0 29v1M192 226v1m0 1v1m0 1v1m0 4v1m0 3v2m0 1v1m0 10v1m0 11v1m0 6v1M234 225v3m0 9v1m0 14v1m0 9v1m0 3v3m0 3v1M235 189v1m0 18v1m0 1v1m0 12v1m0 49v1m0 3v1m0 1v1M236 188v1m0 30v2m0 28v1m0 3v1m0 26v1m0 7v1M237 210v1m0 10v3m0 25v1m0 24v1m0 2v1m0 1v1M238 212v3m0 4v1m0 28v1m0 4v1m0 17v1m0 6v1m0 8v1m0 20v1M239 225v1m0 49v1m0 1v1m0 8v1m0 1v1m0 18v1m0 1v1m0 24v1M240 196v1m0 82v1m0 7v1m0 1v1m0 10v1m0 7v1M241 189v1m0 113v1m0 1v1M242 180v2m0 1v1m0 113v1m0 2v1m0 3v1m0 2v1m0 3v1M243 166v1m0 2v1m0 6v1m0 1v1m0 1v1M244 165v1m0 4v1M245 169v1m0 6v1m0 8v2m0 121v1m0 5v2m0 1v1m0 1v1M246 181v1m0 1v1m0 7v1m0 112v1m0 1v1m0 7v1M247 180v1m0 108v1m0 15v1M248 187v1m0 4v1m0 33v1m0 53v1M249 180v1m0 96v1m0 1v1M250 181v1m0 9v1M251 284v1m0 4v1m0 10v1m0 1v1M252 197v2m0 4v1m0 3v1m0 8v1m0 3v1m0 7v2m0 14v1m0 33v1m0 3v1m0 2v1m0 1v1m0 4v1m0 1v1m0 6v1m0 20v1M253 196v1m0 93v1m0 9v1m0 7v1M254 244v1m0 34v1M255 196v2m0 5v1m0 3v1m0 3v1m0 1v1m0 2v4m0 2v1m0 3v1m0 1v2m0 8v1m0 2v2m0 11v1m0 2v2m0 10v1m0 7v1M453 207v1m0 5v1m0 3v1m0 9v1m0 1v1m0 8v1m0 1v1m0 10v1m0 13v1M454 190v1m0 81v1m0 9v1m0 7v1m0 1v1m0 11v1M455 191v1m0 6v1m0 106v1m0 3v1M456 199v1m0 13v1m0 25v1m0 3v1m0 8v2m0 16v1m0 2v1m0 5v1M457 241v1m0 4v1m0 3v4m0 22v1M458 224v1m0 54v1M459 174v1m0 7v1m0 6v1m0 2v1m0 7v2m0 22v1m0 3v1m0 6v1m0 40v1m0 12v1m0 7v1m0 24v1M460 158v1m0 19v1m0 2v1m0 119v1m0 9v1m0 7v1m0 3v1M461 159v1m0 22v1m0 98v1m0 6v1m0 3v1m0 10v1m0 4v2m0 10v1m0 1v1m0 10v1M462 184v1m0 3v1m0 3v1m0 4v1m0 3v2m0 7v1m0 23v1m0 34v1m0 9v1m0 10v1m0 7v1M463 195v1m0 71v2m0 3v1m0 18v1M464 188v1m0 3v1m0 4v1m0 79v1m0 12v1m0 1v1m0 17v1M465 200v1m0 71v1m0 31v1M466 198v1m0 1v1m0 28v1m0 13v2m0 1v2m0 12v1m0 22v2m0 22v1m0 5v1M467 179v1m0 2v1m0 7v1m0 70v1m0 27v1m0 18v1m0 5v1M468 180v1m0 5v1m0 89v1m0 11v1M469 179v1m0 13v1m0 73v1m0 3v1m0 3v1m0 2v1M470 169v1m0 5v1m0 4v1m0 1v1m0 1v1m0 2v1m0 2v1m0 3v1m0 72v1m0 3v2m0 3v2m0 1v1M471 170v1m0 2v1m0 126v1m0 6v1m0 1v1M472 169v1m0 24v1m0 115v1M473 181v1m0 16v1m0 3v1m0 4v2m0 16v1m0 2v2m0 38v1m0 3v2m0 7v1m0 2v1M474 186v1m0 2v1m0 3v1m0 74v1m0 5v1m0 3v1m0 3v1m0 2v1M475 185v1m0 2v1m0 6v1m0 4v1m0 87v1m0 72v1M476 164v1m0 21v1m0 14v1m0 73v1M477 188v1m0 7v4m0 3v5m0 9v1m0 40v1m0 5v1m0 13v1m0 5v1m0 1v1m0 3v1m0 3v1M478 187v1M479 173v1m0 1v1m0 7v1m0 1v1m0 9v1m0 3v1m0 85v1M480 176v1m0 15v1m0 1v1m0 85v1m0 5v2m0 13v1M481 182v1m0 100v1m0 8v1m0 7v1m0 1v1m0 9v1M482 169v1m0 4v1m0 2v1m0 7v1m0 5v1m0 5v1m0 7v1m0 15v1m0 6v1m0 46v1m0 19v2m0 7v1m0 8v1m0 11v1m0 9v1M483 151v1m0 7v1m0 2v1m0 9v1m0 109v1m0 51v1M484 164v1m0 6v1m0 5v2m0 111v1m0 3v1m0 1v1m0 6v1m0 11v1m0 9v1m0 10v1M485 151v1m0 13v1m0 6v1m0 4v1m0 1v1m0 16v1m0 88v1m0 7v1m0 15v1m0 1v1m0 16v1m0 6v1M486 85v1m0 41v1m0 51v1m0 6v1m0 106v1m0 16v1m0 7v1m0 1v1m0 8v1m0 20v1m0 9v1m0 13v1M487 150v1m0 22v1m0 5v1m0 1v2m0 2v1m0 6v1m0 99v1m0 5v1m0 3v1m0 1v3m0 9v1m0 11v1M488 203v1m0 4v1m0 3v3m0 1v1m0 3v1m0 1v1m0 1v1m0 4v1m0 5v1m0 13v1m0 15v2m0 4v2M526 209v1m0 5v1m0 11v1m0 3v1m0 2v1m0 1v1m0 5v1m0 1v1m0 2v3m0 2v3m0 2v3m0 1v1m0 3v2m0 8v1M527 200v1m0 72v1m0 14v1m0 10v1M528 191v1m0 1v1m0 1v1m0 78v1m0 2v1m0 2v1M529 194v1m0 78v1M530 179v1m0 2v1m0 11v1m0 1v1m0 80v1m0 19v1M531 159v1m0 116v1m0 1v1m0 8v1m0 8v1m0 10v1m0 7v1M532 178v1m0 3v1m0 3v1m0 6v1m0 81v4m0 7v1m0 4v1m0 1v1m0 12v1m0 3v1m0 26v1M533 187v1m0 1v1m0 122v1m0 17v1m0 7v1M534 317v1m0 9v1m0 9v1M535 194v1m0 1v1m0 95v1m0 6v1m0 3v1m0 3v1m0 3v1M536 200v1m0 86v2m0 3v1m0 2v1m0 12v1M537 196v1m0 3v1m0 65v1m0 2v2m0 6v2m0 1v1m0 10v1m0 6v1m0 5v1m0 2v1m0 16v1M538 192v1m0 90v1m0 7v2m0 9v1M539 191v1m0 4v1m0 78v2m0 3v1m0 2v1m0 6v1m0 4v1M540 162v1m0 20v1m0 102v1m0 2v1m0 1v1m0 1v1m0 3v1m0 2v1m0 2v1m0 5v1m0 8v1M541 173v1m0 10v1m0 7v2m0 2v1m0 81v1m0 1v1m0 23v2m0 2v1m0 1v1m0 19v1M542 185v1m0 6v1m0 4v1m0 80v1m0 11v1m0 2v1m0 2v1m0 3v1m0 2v1m0 14v1m0 10v1M543 202v1m0 78v1m0 3v1m0 8v1M544 163v1m0 9v1m0 9v1m0 128v1m0 18v1M545 82v1m0 89v1m0 3v1m0 11v1m0 3v1m0 109v1m0 2v1m0 1v1m0 1v1m0 10v1M546 83v1m0 97v1m0 57v1m0 2v1m0 22v1m0 18v1m0 9v1m0 6v1m0 1v1m0 4v1M547 265v1m0 15v1m0 8v1m0 2v1m0 1v1m0 4v1m0 3v1m0 2v1M548 196v1m0 1v1m0 86v1m0 3v1m0 12v1m0 2v1m0 2v1m0 2v1M549 197v1m0 7v1m0 4v1m0 5v1m0 29v1m0 10v1m0 3v1m0 8v1m0 7v1m0 4v1M550 192v1m0 3v1m0 3v1m0 1v1m0 3v1m0 6v1m0 9v1m0 16v1m0 10v1m0 7v1m0 3v1m0 16v1M551 184v1m0 10v1m0 75v1m0 1v1m0 2v1M552 182v1m0 7v1m0 1v1m0 4v1m0 1v1m0 65v2m0 1v1m0 11v1M553 237v1m0 13v2m0 21v1m0 7v1M554 205v1m0 2v1m0 6v1m0 14v2m0 1v1m0 14v1m0 1v1m0 16v1m0 1v3" stroke-opacity="0.233"/>
<path d="M102 255v1M103 204v1m0 45v1m0 32v2M104 206v1m0 1v1m0 27v1m0 4v1m0 18v1m0 8v1m0 19v1m0 3v1M105 209v1m0 2v1m0 3v1m0 2v1m0 4v1m0 1v2m0 3v2m0 1v4m0 12v1m0 3v3m0 1v3m0 1v1m0 8v1m0 2v1m0 2v1m0 1v2m0 2v1m0 1v1m0 9v1M106 239v1m0 42v1M107 208v1m0 3v1m0 1v1m0 66v1M108 210v1m0 4v1M109 270v3M110 200v1m0 31v1m0 40v1M111 204v1m0 1v2m0 1v1m0 10v1m0 8v1m0 3v1m0 10v1m0 5v1m0 1v1m0 5v1m0 19v1M112 279v1M113 204v1M114 202v1m0 13v1m0 4v2m0 6v1m0 4v1m0 7v1m0 7v1m0 1v1m0 2v3m0 14v1m0 2v2m0 5v1m0 4v1m0 2v1M115 288v1M117 209v1m0 4v2m0 3v1m0 6v1m0 4v1m0 3v1m0 7v1m0 5v3m0 6v1m0 4v5m0 2v1m0 5v1m0 1v1m0 4v1m0 2v1m0 1v1m0 1v1M118 242v1m0 32v1m0 11v1m0 3v1M119 197v1m0 14v1m0 67v1m0 2v1m0 6v1M120 233v1M121 215v1m0 5v1m0 1v1m0 44v1M160 231v1m0 14v1m0 10v1m0 2v1m0 4v1m0 2v1m0 8v1M161 216v1m0 9v1m0 4v1m0 5v1m0 1v1m0 13v1m0 1v1m0 6v1m0 12v1M162 233v2m0 15v1m0 15v1m0 9v1m0 1v1M163 215v1m0 27v1m0 33v1M164 210v1m0 3v1m0 2v2m0 9v2m0 9v1m0 11v1m0 2v1m0 20v1m0 11v1M165 229v1m0 12v1m0 29v1M166 224v1m0 3v1m0 1v1m0 16v1m0 8v1m0 3v1m0 1v1m0 10v1m0 6v1M167 198v1m0 2v1m0 2v1m0 6v1m0 1v1m0 2v1m0 22v1m0 4v1m0 11v1m0 15v1M168 256v1m0 5v1m0 12v1M169 204v2m0 3v1m0 2v2m0 6v4m0 4v1m0 15v1m0 4v1m0 1v3m0 6v1m0 2v1m0 2v1m0 1v1m0 5v1M171 196v1m0 29v1m0 56v1M172 200v1m0 80v1M173 198v1m0 2v1m0 2v1m0 1v1m0 66v1m0 5v1m0 4v1M174 201v1m0 78v1M175 194v1m0 26v1m0 20v1m0 30v1m0 2v1m0 2v1m0 3v1M177 200v1m0 87v1M178 261v1m0 12v1M179 200v1m0 18v1m0 9v1m0 16v1m0 7v2m0 2v2m0 13v1M180 218v1m0 38v1m0 14v1m0 2v1M181 202v1m0 16v1m0 3v1m0 3v1m0 3v1m0 3v1m0 4v2m0 1v2m0 9v1m0 4v1M182 216v1m0 11v1m0 17v2m0 1v1m0 7v1m0 9v1m0 9v1M183 207v2m0 69v1M184 209v1m0 70v1M185 207v1m0 4v1m0 3v1m0 12v1m0 7v1m0 7v1m0 1v1m0 1v1m0 11v1m0 12v1M186 226v1M187 218v1m0 1v1m0 2v2m0 2v1m0 4v3m0 1v1m0 1v4m0 9v1m0 3v2m0 8v1m0 8v1M188 209v1m0 65v1M189 201v2M190 199v1m0 79v1m0 1v1M191 198v1m0 6v1m0 55v1m0 12v1M192 258v1m0 9v1M234 232v1m0 3v1M235 213v1m0 37v1m0 7v1M236 209v1m0 4v1m0 2v1m0 15v1m0 8v1m0 21v1m0 5v1m0 6v1M237 237v1m0 4v1m0 1v1m0 17v1m0 2v1M238 227v1m0 6v1m0 33v1M239 215v1m0 15v1m0 14v1m0 1v1m0 12v1M240 177v1m0 15v1m0 1v1m0 2v1m0 1v2m0 1v1m0 3v1m0 2v1m0 11v1m0 5v1m0 56v1M241 178v1m0 111v1M242 293v1M243 301v1m0 12v1M244 168v1M245 179v1m0 4v1m0 3v1m0 113v1m0 2v3m0 4v2M246 188v1m0 97v1m0 1v1m0 1v1M247 285v1M248 189v1m0 1v1m0 1v1M249 188v1m0 8v1M250 193v1m0 73v1m0 2v1m0 10v1m0 5v1M251 286v1M252 194v1m0 5v1m0 1v1m0 3v1m0 2v1m0 1v2m0 18v2m0 4v1m0 5v1m0 1v1m0 5v2m0 2v1m0 1v2m0 5v1m0 3v1m0 2v3m0 3v1M253 197v1m0 1v1m0 83v1M254 284v1M255 201v1m0 8v1m0 9v1m0 3v1m0 7v1m0 26v1m0 4v1M453 221v1m0 11v1m0 10v1M454 202v1m0 39v1m0 17v1m0 14v1m0 1v1M455 219v1m0 60v1M456 205v1m0 5v1m0 6v1m0 14v1m0 2v1m0 7v1m0 6v1m0 4v2m0 9v1M457 200v1m0 7v1m0 1v1m0 9v1m0 2v1m0 4v1m0 7v1m0 2v1m0 16v1m0 2v1m0 1v1m0 1v1m0 3v1m0 5v1M458 190v1m0 37v1m0 45v1M459 195v1m0 20v2m0 12v1m0 3v1m0 1v1m0 12v1m0 3v2m0 5v1m0 3v1M460 194v1m0 4v1m0 85v1M461 195v1M462 198v2m0 3v1m0 1v1m0 2v2m0 1v1m0 9v1m0 3v1m0 5v1m0 15v2m0 11v1m0 7v1m0 9v1M463 200v1m0 61v1M464 196v1m0 1v1m0 3v1m0 70v1m0 1v1M465 269v1M466 202v2m0 4v2m0 6v1m0 17v2m0 1v1m0 13v1m0 2v1m0 1v2m0 6v1m0 11v1M467 192v1m0 7v1m0 59v1m0 20v1M468 273v1M469 192v1m0 77v1M470 195v1m0 5v1m0 60v1m0 2v1m0 2v2M471 179v1m0 5v1M472 175v1m0 1v1m0 12v1m0 2v1m0 2v1m0 3v1m0 24v1m0 1v1m0 47v1M473 191v1m0 11v1m0 6v2m0 23v1m0 10v1m0 12v1m0 9v2M474 164v1m0 15v1m0 11v1m0 8v1m0 30v1m0 38v1M475 233v1m0 60v1m0 1v1M476 203v1m0 79v1m0 9v1m0 1v1m0 1v1M477 201v1m0 10v1m0 3v1m0 1v1m0 9v3m0 1v1m0 5v2m0 9v1m0 2v2m0 1v2m0 14v1m0 4v1m0 2v2m0 1v1M478 274v1M479 188v1m0 9v1m0 1v1M480 277v1m0 3v1M481 189v1m0 47v1M482 180v1m0 1v1m0 1v1m0 9v2m0 8v1m0 9v2m0 6v1m0 9v1m0 15v3m0 8v1m0 11v1m0 9v1m0 5v1M483 276v1m0 21v1m0 6v1M484 186v1m0 4v1m0 112v1M485 173v1m0 1v1m0 6v1m0 4v1m0 7v1m0 78v1m0 4v2m0 1v1m0 3v2m0 2v1m0 14v2m0 9v1M486 285v1m0 10v1m0 4v1M487 197v1m0 41v1m0 46v1m0 3v1M488 247v1m0 25v1M528 199v1m0 2v1m0 72v1M530 192v1m0 7v1m0 7v1M531 189v1M532 185v1m0 2v1m0 1v1m0 4v1m0 1v1m0 8v1m0 29v1m0 33v1m0 1v1m0 21v1m0 16v1M533 292v1m0 4v1m0 4v1M534 282v1m0 21v1m0 3v1m0 1v1M535 298v1m0 2v1M536 201v1m0 76v1m0 2v1m0 3v1M537 199v1m0 48v1m0 35v1M538 267v1m0 9v1m0 7v1M539 298v1M540 268v1m0 2v1m0 15v1m0 6v1M541 198v1m0 2v1m0 81v1M542 204v1m0 15v1m0 8v1m0 11v1m0 2v1m0 29v1m0 10v1m0 12v1M543 193v1m0 1v1m0 15v1m0 17v1m0 5v1m0 9v1m0 27v1m0 5v1m0 50v1M544 190v1M545 194v1m0 82v1m0 4v1m0 7v1m0 1v1m0 1v1M546 173v1m0 18v1m0 8v1m0 38v2m0 9v1m0 29v1m0 9v1M547 190v2m0 1v1m0 5v1m0 66v1m0 7v1m0 3v1m0 9v1M548 203v2m0 72v1m0 1v1m0 7v1M549 212v2m0 8v1m0 1v2m0 2v1m0 3v1m0 3v1m0 3v1m0 1v1m0 1v2m0 4v1m0 4v1m0 4v1m0 11v1m0 2v1M550 198v1m0 8v1m0 4v1m0 18v3m0 3v1m0 3v1m0 10v1m0 9v1m0 3v1m0 2v1M551 265v1M552 200v1m0 1v1m0 2v1m0 1v2m0 8v1m0 8v2m0 6v1m0 23v1m0 2v1m0 8v1m0 1v1M553 212v1M554 209v1m0 6v1m0 2v1m0 23v1m0 3v1" stroke-opacity="0.313"/>
<path d="M103 227v1m0 26v1m0 6v1m0 17v1M104 220v1M105 214v2m0 2v1m0 2v1m0 1v1m0 4v1m0 1v1m0 2v1m0 4v1m0 5v3m0 1v1m0 2v1m0 1v1m0 3v1m0 6v1m0 1v1m0 5v2m0 10v1M107 216v1M108 251v1M109 220v1m0 55v1M110 251v1m0 7v1M111 218v1m0 3v1m0 1v1m0 6v1m0 6v1m0 6v1m0 8v1m0 9v1m0 6v1m0 4v1M112 226v1m0 47v1M113 249v1m0 25v1M114 214v1m0 2v1m0 13v1m0 12v1m0 8v1m0 4v1m0 2v1M115 218v1m0 8v1m0 1v1m0 7v1m0 16v1M116 207v1M117 222v3m0 2v1m0 2v1m0 1v1m0 3v1m0 4v1m0 2v1m0 3v1m0 3v1m0 1v2m0 1v1m0 2v1m0 11v2m0 15v1M118 205v1m0 19v1M119 206v1m0 15v1M120 222v1M160 229v1m0 19v1M161 244v1m0 3v1m0 15v1M162 229v1m0 35v1m0 4v1M163 223v1m0 45v1m0 16v1M164 220v1m0 12v1m0 6v1m0 6v1m0 14v1m0 1v1m0 6v1m0 6v1M165 215v1m0 5v1M166 268v1M167 266v1m0 2v1M168 236v1m0 28v1m0 11v1M169 211v1m0 3v1m0 2v1m0 11v1m0 2v3m0 1v2m0 4v1m0 14v1m0 2v1m0 2v1m0 4v1M171 225v1m0 30v1m0 7v1M172 285v1M173 211v1m0 23v1m0 11v1m0 20v1M174 208v1M175 206v1m0 3v2m0 3v2m0 2v1m0 8v1m0 2v1m0 4v1m0 2v2m0 7v1m0 3v2m0 4v1m0 2v1m0 2v1m0 1v1m0 5v1m0 2v1m0 1v1M177 213v1m0 27v1m0 34v1m0 2v2m0 2v1M178 201v1m0 68v1M179 202v1m0 8v1m0 10v1m0 7v1m0 8v1m0 2v1m0 5v1m0 3v1m0 11v1m0 6v1M181 205v1m0 5v1m0 1v2m0 7v1m0 14v1m0 12v1m0 1v1m0 10v1m0 6v1m0 3v1M182 212v1m0 8v1m0 7v1m0 12v1M183 220v1m0 40v2M185 223v1m0 2v1m0 1v1m0 1v1m0 2v1m0 1v1m0 5v1m0 11v1m0 12v1m0 3v1m0 1v1M186 259v1M187 222v1m0 2v1m0 3v1m0 1v1m0 11v2m0 3v1m0 4v1m0 4v1m0 1v2m0 5v1m0 1v1M188 210v1M189 206v1m0 2v1m0 53v1m0 9v1m0 3v1M190 243v1m0 23v1M191 201v1m0 14v1m0 16v1m0 20v1m0 14v1M236 227v1m0 8v1m0 3v1m0 16v1M237 251v1m0 8v1M238 236v1m0 29v1M239 224v1m0 17v1M240 202v1m0 3v1m0 4v1m0 2v3m0 2v1m0 3v1m0 3v1m0 2v1m0 3v1m0 3v1m0 13v2m0 19v1M242 187v1m0 4v1m0 96v1M243 185v1m0 120v1M245 181v1m0 8v2m0 90v1m0 1v1m0 8v1m0 2v2M246 196v1M247 226v1m0 48v1M248 254v1m0 8v1M249 244v1m0 6v1m0 12v1m0 8v1M250 200v2m0 6v1m0 43v1m0 22v1M251 201v1m0 3v1m0 54v1M252 205v1m0 8v2m0 1v3m0 1v2m0 3v1m0 3v1m0 3v3m0 1v3m0 1v1m0 3v1m0 1v2m0 4v1m0 7v1m0 2v1m0 3v1m0 5v1m0 4v2M253 247v1M254 212v1m0 2v1m0 37v1M454 228v1m0 18v1M455 201v1M456 202v1m0 12v1m0 8v1m0 2v1m0 1v1m0 2v1m0 13v1m0 1v1m0 1v1M457 206v1m0 11v1m0 7v1m0 3v1m0 17v1m0 6v1M458 249v1M459 209v1m0 3v1m0 4v1m0 1v2m0 3v1m0 1v1m0 9v1m0 1v1m0 2v1m0 1v1m0 2v1m0 4v1m0 2v1m0 2v1m0 8v1m0 1v1m0 3v1M460 206v1M461 210v1m0 48v1M462 212v1m0 2v1m0 3v1m0 6v1m0 3v1m0 2v1m0 1v2m0 2v1m0 2v1m0 3v1m0 3v1m0 2v1m0 1v2m0 7v1m0 5v1m0 2v1M463 204v1m0 10v1M465 234v1m0 12v1M466 211v2m0 2v1m0 5v1m0 5v1m0 22v1m0 15v1M467 220v1m0 8v1M468 227v1m0 21v1M469 204v1m0 11v1m0 21v1m0 2v1M470 198v1M471 183v1m0 15v1M472 214v1m0 8v1M473 216v1m0 5v1m0 7v1m0 7v1m0 8v1m0 2v1m0 1v1m0 9v1m0 1v1M475 253v1M476 228v1M477 209v1m0 5v1m0 8v1m0 1v1m0 8v1m0 4v1m0 1v1m0 1v1m0 1v1m0 3v2m0 8v1m0 2v1m0 2v1m0 2v1m0 3v1M478 275v1M479 202v1m0 68v1m0 10v1M480 237v1m0 30v1m0 6v1M481 236v1M482 188v1m0 27v1m0 1v1m0 1v1m0 6v1m0 19v1m0 6v1m0 2v1m0 7v1m0 8v1M483 187v1m0 15v1m0 84v1M484 184v1m0 3v1m0 55v1M485 193v1m0 74v1m0 3v1m0 3v1m0 20v1M486 201v1M487 188v1m0 29v1m0 21v1m0 37v1M527 228v1m0 3v1m0 4v1m0 8v1m0 9v1m0 13v1M528 205v1M530 197v1m0 1v1m0 1v1m0 2v1m0 4v1m0 15v1m0 11v1m0 3v1m0 14v1m0 6v1m0 7v1M531 274v1M532 192v1m0 5v2m0 3v2m0 2v3m0 5v1m0 1v1m0 2v2m0 2v2m0 3v1m0 3v1m0 1v1m0 3v1m0 1v1m0 1v1m0 4v1m0 2v1m0 4v1m0 2v2m0 1v1m0 1v1m0 2v1m0 1v1m0 1v1m0 1v1M533 264v1M534 199v1m0 78v1m0 17v1M535 249v1m0 20v1M536 197v1m0 11v1M537 207v1m0 2v1m0 11v1m0 17v1m0 2v1M538 264v1M540 220v1m0 28v1m0 34v1M541 200v1M542 206v1m0 10v1m0 17v1m0 11v1m0 1v1m0 1v1m0 6v1m0 11v1M543 207v1m0 29v1m0 3v1m0 16v1m0 24v1M545 238v1m0 31v1M546 213v1m0 9v1m0 35v1M547 220v1m0 17v1M549 219v1m0 18v1m0 9v1m0 4v1M550 222v1m0 23v2m0 1v1m0 4v1m0 12v1M552 211v1m0 12v1m0 6v1m0 9v1m0 6v2m0 4v1m0 1v2m0 5v1m0 3v1m0 1v1" stroke-opacity="0.394"/>
<path d="M103 187v1m0 10v1m0 1v1m0 2v1m0 9v1m0 34v1m0 31v1m0 1v1m0 5v1m0 1v1m0 4v1m0 13v1m0 31v1M104 128v1m0 30v1m0 9v1m0 9v1m0 9v1m0 6v1m0 2v1m0 1v1m0 89v1m0 6v1m0 3v1m0 67v1m0 2v1M105 208v1m0 84v1M106 167v1m0 13v1m0 4v1m0 6v1m0 7v1m0 74v1m0 1v1m0 11v1m0 6v1m0 6v1m0 27v1m0 13v1m0 24v1M107 189v1m0 207v1M108 181v1m0 23v1m0 34v1M109 195v1m0 85v1m0 3v1m0 9v1M110 287v1M111 182v1m0 5v1m0 11v1m0 50v1m0 4v1m0 3v1m0 39v1m0 2v1m0 7v1m0 28v1m0 2v1m0 3v1m0 4v1m0 25v1M112 168v1m0 21v1m0 3v1m0 56v1m0 29v1m0 7v1m0 1v1m0 3v1m0 3v1m0 27v1m0 11v1m0 44v1M113 196v1m0 96v1m0 3v1M114 178v1m0 14v1M115 83v1m0 2v1m0 3v1m0 4v1m0 1v1m0 1v1m0 2v1m0 3v1m0 8v1m0 3v1m0 1v1m0 13v1m0 8v1m0 1v1m0 1v1m0 1v1m0 6v1m0 3v1m0 2v1m0 1v1m0 1v1m0 2v1m0 3v1m0 1v1m0 3v1m0 10v1m0 97v1m0 1v1m0 2v1m0 4v1m0 1v1m0 3v1m0 4v1m0 4v1m0 4v1m0 1v1m0 7v1m0 7v1m0 12v1m0 2v1m0 1v1m0 4v1m0 12v1m0 1v1m0 2v1m0 5v1m0 1v1m0 2v1m0 6v1m0 2v1m0 3v1m0 3v1M116 85v1m0 15v1m0 32v1m0 6v1m0 10v1m0 5v1m0 4v1m0 16v1m0 118v1m0 10v1m0 4v1m0 57v1m0 2v1M117 199v1m0 40v1M118 155v1m0 32v1m0 2v1m0 105v1m0 2v1m0 4v1m0 7v1m0 3v1m0 29v1m0 1v1m0 20v1m0 16v1M119 94v1m0 22v1m0 4v1m0 7v1m0 21v1m0 6v1m0 6v1m0 15v1m0 3v1m0 6v1m0 73v1m0 24v1m0 3v1m0 6v1m0 11v1m0 29v1m0 10v1m0 2v1m0 11v1m0 1v1m0 5v1m0 5v1m0 3v1m0 2v1m0 7v1m0 9v1M120 197v1m0 96v1m0 11v1M160 152v1m0 4v1m0 1v1m0 7v1m0 8v1m0 13v1m0 2v1m0 5v1m0 5v1m0 11v1m0 4v1m0 12v1m0 3v1m0 26v1m0 6v1m0 10v1m0 1v1m0 1v1m0 2v1m0 9v1m0 3v1m0 14v1m0 11v1m0 19v1M161 154v1m0 25v1m0 32v1m0 60v1m0 18v1m0 16v1M162 116v1m0 8v1m0 48v1m0 12v1m0 1v1m0 14v1m0 5v1m0 37v1m0 28v1m0 16v1m0 3v1m0 5v1m0 12v1m0 1v1m0 13v1m0 11v1m0 7v1m0 45v1M163 83v1m0 28v1m0 22v1m0 17v1m0 13v1m0 4v1m0 4v1m0 4v1m0 3v1m0 3v1m0 5v1m0 94v1m0 5v1m0 1v1m0 8v1m0 9v1m0 46v1m0 4v1M164 245v1m0 23v1m0 12v1m0 17v1M165 84v1m0 154v1m0 53v1m0 2v1M166 189v1m0 2v1m0 9v1m0 6v1m0 19v1m0 3v1m0 43v1M167 159v1m0 12v1m0 4v1m0 7v1m0 2v1m0 2v1m0 70v1m0 39v1m0 5v1M168 83v1m0 8v1m0 10v1m0 16v1m0 3v1m0 16v1m0 2v1m0 11v1m0 21v1m0 5v1m0 106v1m0 7v1m0 10v1m0 10v1m0 5v1m0 6v1m0 3v1m0 2v1m0 2v1m0 3v1m0 7v1m0 9v1m0 11v1m0 6v1m0 7v1m0 2v1m0 13v1M169 189v1m0 11v1m0 25v1m0 8v1m0 13v1m0 11v1m0 2v1m0 6v1M170 160v1m0 31v1m0 3v1m0 1v1m0 1v1m0 39v1m0 6v1m0 35v1m0 9v1m0 5v1m0 88v1M171 146v1m0 22v1m0 25v1m0 5v1m0 84v1m0 2v1m0 2v1m0 5v1m0 7v1m0 6v1m0 31v1M172 86v1m0 71v1m0 29v1m0 5v1m0 60v1m0 40v1m0 3v1m0 2v1m0 4v1m0 8v1m0 37v1m0 3v1m0 12v1M173 181v1m0 9v1m0 28v1m0 1v1m0 9v1m0 4v1m0 47v1M174 157v1m0 9v1m0 3v1m0 12v1m0 4v1m0 2v1m0 40v1m0 50v1m0 3v1m0 5v1m0 1v1m0 6v1m0 13v1m0 55v1M175 200v1m0 25v1m0 6v1m0 10v1m0 29v1m0 10v1m0 42v1M176 80v1m0 6v1m0 8v1m0 3v1m0 5v1m0 28v1m0 6v1m0 7v1m0 1v1m0 5v1m0 6v1m0 7v1m0 2v1m0 5v1m0 4v1m0 3v1m0 102v1m0 1v1m0 5v1m0 4v1m0 1v1m0 2v1m0 2v1m0 2v1m0 2v1m0 1v1m0 12v1m0 8v1m0 1v1m0 4v1m0 6v1m0 8v1m0 17v1m0 3v1m0 2v1m0 16v1M177 91v1m0 5v1m0 4v1m0 6v1m0 13v1m0 15v1m0 5v1m0 2v1m0 13v1m0 14v1m0 6v1m0 1v1m0 1v1m0 122v1m0 15v1m0 5v1m0 7v1m0 20v1m0 28v1M178 127v1m0 6v1m0 40v1m0 13v1m0 13v1m0 89v1m0 1v1m0 50v1M179 77v1m0 60v1m0 27v1m0 19v1m0 14v1m0 34v1m0 51v1m0 2v1M180 171v1m0 2v1m0 3v1m0 8v1m0 29v1m0 41v1m0 30v1m0 1v1m0 12v1m0 4v1M181 196v1m0 60v1m0 17v1m0 51v1M182 75v1m0 2v1m0 1v1m0 2v1m0 11v1m0 4v1m0 11v1m0 1v1m0 17v1m0 4v1m0 6v1m0 2v1m0 4v1m0 3v1m0 5v1m0 4v1m0 1v1m0 1v1m0 5v1m0 7v1m0 2v1m0 2v1m0 9v1m0 35v1m0 3v1m0 8v1m0 3v1m0 13v1m0 5v1m0 1v1m0 4v1m0 5v1m0 16v1m0 1v1m0 1v1m0 7v1m0 8v1m0 6v1m0 1v1m0 6v1m0 1v1m0 3v1m0 4v1m0 2v1m0 1v1m0 6v1m0 25v1m0 6v1m0 3v1m0 3v1m0 4v1M183 181v1m0 21v1m0 78v1m0 5v1m0 1v1m0 11v1m0 28v1m0 31v1M184 188v1m0 8v1M185 143v1m0 30v1m0 2v1m0 15v1m0 1v1m0 3v1m0 4v1m0 72v1m0 7v1m0 2v1m0 10v1m0 17v1m0 12v1M186 138v1m0 37v1m0 8v1m0 12v1m0 85v1m0 7v1m0 3v1M187 195v1m0 4v1m0 7v1m0 17v1m0 45v1m0 4v1m0 2v1m0 14v1M188 95v1m0 16v1m0 11v1m0 7v1m0 7v1m0 3v1m0 9v1m0 3v1m0 6v1m0 6v1m0 3v1m0 14v1m0 12v1m0 45v1m0 25v1m0 8v1m0 4v1m0 3v1m0 5v1m0 6v1m0 5v1m0 3v1m0 1v1m0 6v1m0 24v1m0 6v1m0 2v1m0 22v1m0 14v1M189 244v1m0 24v1m0 18v1m0 4v1m0 3v1M190 111v1m0 1v1m0 6v1m0 7v1m0 3v1m0 2v1m0 40v1m0 4v1m0 7v1m0 1v1m0 2v1m0 12v1m0 76v1m0 1v1m0 2v1m0 11v1m0 2v1m0 24v1m0 6v1m0 11v1m0 1v1m0 20v1m0 31v1M191 83v1m0 2v1m0 9v1m0 10v1m0 14v1m0 7v1m0 20v1m0 14v1m0 11v1m0 64v1m0 23v1m0 15v1m0 9v1m0 9v1m0 11v1m0 1v1m0 1v1m0 7v1m0 18v1m0 17v1m0 11v1M198 176v1m0 14v1m0 17v1m0 26v1m0 5v1m0 2v1m0 6v1m0 2v1m0 5v1m0 1v1m0 4v1m0 1v1m0 4v1m0 2v1m0 3v1m0 2v1m0 4v1m0 1v1m0 14v1m0 15v1M235 137v1m0 2v1m0 17v1m0 5v1m0 3v1m0 15v1m0 8v1m0 2v1m0 4v1m0 5v1m0 6v1m0 9v1m0 5v1m0 10v1m0 8v1m0 7v1m0 37v1m0 1v1m0 8v1m0 1v1m0 3v1m0 12v1m0 3v1m0 7v1m0 11v1m0 21v1m0 16v1M236 189v1m0 10v1m0 50v1m0 56v1M237 186v1m0 15v1m0 16v1m0 30v1m0 13v1m0 5v1m0 9v1m0 4v1m0 2v1m0 12v1M238 130v1m0 160v1m0 3v1m0 13v1m0 3v1m0 4v1M239 154v1m0 3v1m0 22v1m0 6v1m0 4v1m0 1v1m0 10v1m0 20v1m0 55v1m0 3v1m0 14v1m0 12v1m0 6v1m0 6v1m0 1v1m0 11v1M240 106v1m0 52v1m0 7v1m0 4v1m0 5v1m0 7v1m0 2v1m0 14v1m0 31v1m0 51v1m0 5v1m0 3v1m0 10v1m0 6v1m0 6v1m0 3v1m0 11v1m0 18v1m0 5v1m0 25v1m0 5v1m0 10v1M241 141v1m0 8v1m0 2v1m0 10v1m0 4v1m0 9v1m0 8v1m0 3v1m0 88v1m0 14v1m0 3v1m0 7v1m0 20v1M242 166v1m0 11v1m0 145v1m0 6v1m0 2v1m0 2v1M243 159v1m0 5v1m0 2v1m0 14v1m0 129v1m0 2v1m0 19v1M244 86v1m0 5v1m0 12v1m0 5v1m0 1v1m0 9v1m0 9v1m0 3v1m0 9v1m0 5v1m0 4v1m0 1v1m0 3v1m0 6v1m0 157v1m0 2v1m0 8v1m0 4v1m0 10v1m0 16v1m0 13v1m0 3v1M245 168v1M246 149v1m0 1v1m0 5v1m0 2v1m0 3v1m0 4v1m0 3v1m0 2v1m0 2v1m0 10v1m0 93v1m0 8v1m0 2v1m0 5v1m0 7v1m0 6v1m0 1v1m0 6v1m0 5v1m0 19v1M247 123v1m0 51v1m0 5v1m0 2v1m0 31v1m0 18v1m0 11v1m0 42v1m0 4v1m0 5v1m0 4v1m0 27v1m0 10v1m0 1v1m0 14v1m0 4v1M248 156v1m0 13v1m0 9v1m0 50v1m0 39v1m0 13v1m0 16v1m0 11v1m0 44v1M249 153v1m0 15v1m0 25v1m0 18v1m0 65v1m0 3v1m0 12v1m0 39v1M250 210v1M251 77v1m0 2v1m0 1v1m0 1v1m0 1v1m0 10v1m0 2v1m0 2v1m0 3v1m0 8v1m0 1v1m0 2v1m0 4v1m0 8v1m0 2v1m0 1v1m0 4v1m0 2v1m0 5v1m0 4v1m0 2v1m0 1v1m0 3v1m0 1v1m0 9v1m0 98v1m0 13v1m0 10v1m0 1v1m0 1v1m0 9v1m0 1v1m0 7v1m0 3v1m0 6v1m0 4v1m0 3v1m0 1v1m0 3v1m0 9v1m0 1v1m0 20v1m0 5v1m0 3v1M252 201v1m0 39v1m0 14v1m0 3v1M253 151v1m0 6v1m0 4v1m0 3v1m0 1v1m0 8v1m0 5v1m0 3v1m0 1v1m0 3v1m0 25v1m0 61v1m0 1v1m0 2v1m0 5v1m0 2v1m0 2v1m0 9v1m0 3v1m0 1v1m0 2v1m0 7v1m0 9v1m0 3v1m0 8v1M254 110v1m0 54v1m0 8v1m0 1v1m0 2v1m0 5v1m0 104v1m0 6v1m0 10v1m0 5v1m0 4v1m0 22v1m0 52v1M269 247v1m0 3v1m0 1v1m0 38v1M340 212v1m0 10v1m0 3v1m0 34v1m0 5v1m0 44v1m0 19v1M342 281v1m0 18v1m0 11v1M377 195v1m0 26v1m0 6v1m0 34v1m0 8v1m0 13v1M383 93v1m0 1v1m0 81v1m0 27v1m0 53v1m0 4v1M454 105v1m0 11v1m0 15v1m0 20v1m0 10v1m0 4v1m0 3v1m0 6v1m0 2v1m0 3v1m0 3v1m0 2v1m0 5v1m0 44v1m0 7v1m0 7v1m0 6v1m0 14v1m0 1v1m0 4v1m0 5v1m0 3v1m0 4v1m0 1v1m0 16v1m0 3v1m0 5v1m0 21v1M455 108v1m0 10v1m0 2v1m0 7v1m0 20v1m0 4v1m0 1v1m0 3v1m0 1v1m0 20v1m0 1v1m0 5v1m0 77v1m0 18v1m0 20v1m0 3v1m0 3v1m0 2v1m0 16v1M456 115v1m0 17v1m0 15v1m0 9v1m0 13v1m0 24v1m0 89v1m0 27v1M457 144v1m0 30v1m0 4v1m0 1v1m0 2v1m0 4v1m0 2v1m0 5v1m0 11v1m0 32v1m0 29v1m0 5v1m0 3v1m0 6v1m0 7v1m0 11v1m0 1v1m0 1v1m0 8v1m0 4v1m0 11v1m0 6v1M458 92v1m0 27v1m0 17v1m0 4v1m0 10v1m0 10v1m0 21v1m0 1v1m0 104v1m0 2v1m0 6v1m0 7v1m0 36v1M459 112v1m0 27v1m0 25v1m0 6v1m0 1v1m0 2v1m0 2v1m0 2v1m0 102v1m0 8v1m0 9v1m0 8v1m0 7v1m0 13v1m0 14v1M460 78v1m0 2v1m0 6v1m0 6v1m0 1v1m0 5v1m0 9v1m0 10v1m0 1v1m0 7v1m0 4v1m0 1v1m0 2v1m0 2v1m0 1v1m0 2v1m0 4v1m0 2v1m0 1v1m0 6v1m0 16v1m0 1v1m0 9v1m0 1v1m0 22v1m0 60v1m0 1v1m0 7v1m0 5v1m0 11v1m0 15v1m0 1v1m0 8v1m0 2v1m0 2v1m0 8v1m0 4v1m0 2v1m0 14v1m0 6v1m0 6v1M461 106v1m0 22v1m0 28v1m0 21v1m0 4v1m0 7v1m0 40v1m0 32v1m0 66v1m0 35v1m0 2v1m0 15v1M462 95v1m0 30v1m0 37v1m0 1v1m0 10v1m0 3v1m0 1v1m0 3v1m0 8v1m0 100v1m0 11v1m0 1v1m0 5v1m0 29v1m0 44v1M463 98v1m0 30v1m0 18v1m0 14v1m0 1v1m0 7v1m0 2v1m0 2v1m0 2v1m0 122v1m0 38v1m0 26v1M464 166v1m0 1v1m0 41v1m0 61v1m0 11v1m0 6v1m0 1v1m0 1v1m0 7v1m0 5v1m0 1v1m0 10v1m0 29v1m0 3v1M465 74v1m0 50v1m0 17v1m0 1v1m0 12v1m0 5v1m0 2v1m0 4v1m0 1v1m0 13v1m0 3v1m0 2v1m0 86v1m0 2v1m0 10v1m0 2v1m0 5v1m0 18v1m0 6v1m0 5v1m0 1v1m0 6v1m0 4v1m0 5v1m0 4v1m0 3v1m0 3v1m0 1v1m0 5v1M466 87v1m0 56v1m0 31v1m0 13v1m0 16v1m0 61v1m0 58v1M467 78v1m0 18v1m0 22v1m0 5v1m0 29v1m0 21v1m0 19v1m0 7v1m0 39v1m0 32v1m0 10v1m0 4v1m0 35v1m0 17v1M468 155v1m0 12v1m0 5v1m0 118v1m0 16v1m0 28v1m0 4v1M469 125v1m0 50v1m0 9v1m0 92v1m0 5v1m0 10v1m0 6v1m0 62v1m0 24v1M470 118v1m0 8v1m0 2v1m0 21v1m0 1v1m0 2v1m0 4v1m0 5v1m0 5v1m0 4v1m0 1v1m0 1v1m0 96v1m0 1v1m0 4v1m0 1v1m0 1v1m0 15v1m0 4v1m0 8v1m0 8v1m0 2v1m0 3v1m0 21v1m0 26v1m0 6v1M471 88v1m0 54v1m0 15v1m0 4v1m0 1v1m0 24v1m0 93v1m0 7v1m0 10v1m0 1v1m0 8v1m0 19v1m0 31v1m0 24v1M472 100v1m0 8v1m0 29v1m0 4v1m0 18v1m0 6v1m0 8v1m0 117v1m0 3v1m0 11v1m0 7v1m0 7v1m0 1v1m0 2v1m0 13v1m0 27v1M473 214v1m0 68v1m0 87v1M474 80v1m0 5v1m0 11v1m0 3v1m0 10v1m0 10v1m0 8v1m0 1v1m0 6v1m0 6v1m0 2v1m0 4v1m0 5v1m0 1v1m0 6v1m0 17v1m0 5v1m0 54v1m0 17v1m0 3v1m0 3v1m0 11v1m0 1v1m0 5v1m0 1v1m0 2v1m0 2v1m0 9v1m0 1v1m0 1v1m0 2v1m0 10v1m0 8v1m0 12v1m0 5v1m0 2v1m0 7v1m0 7v1M475 74v1m0 46v1m0 37v1m0 1v1m0 8v1m0 4v1m0 1v1m0 109v1m0 5v1m0 7v1m0 8v1m0 5v1m0 11v1m0 2v1m0 13v1m0 14v1m0 15v1M476 124v1m0 18v1m0 101v1m0 67v1m0 4v1m0 4v1m0 70v1M477 175v1m0 19v1m0 4v1m0 10v1m0 33v1m0 47v1m0 3v1m0 13v1m0 7v1m0 34v1m0 18v1M478 77v1m0 30v1m0 21v1m0 12v1m0 15v1m0 3v1m0 6v1m0 2v1m0 4v1m0 11v1m0 2v1m0 87v1m0 5v1m0 10v1m0 2v1m0 2v1m0 4v1m0 2v1m0 2v1m0 1v1m0 3v1m0 1v1m0 8v1m0 11v1m0 12v1m0 4v1m0 12v1m0 18v1M479 117v1m0 9v1m0 17v1m0 12v1m0 20v1m0 6v1m0 110v1m0 9v1m0 2v1m0 22v1m0 14v1m0 14v1M480 91v1m0 47v1m0 1v1m0 4v1m0 4v1m0 4v1m0 2v1m0 5v1m0 1v1m0 1v1m0 2v1m0 1v1m0 6v1m0 2v1m0 71v1m0 25v1m0 9v1m0 10v1m0 2v1m0 2v1m0 9v1m0 11v1m0 4v1m0 14v1m0 7v1m0 8v1m0 25v1M481 106v1m0 57v1m0 5v1m0 21v1m0 5v1m0 85v1m0 5v1m0 6v1m0 12v1m0 15v1m0 2v1m0 5v1m0 2v1m0 11v1M482 79v1m0 27v1m0 7v1m0 43v1m0 2v1m0 2v1m0 47v1m0 27v1m0 24v1m0 16v1m0 19v1m0 56v1M483 81v1m0 6v1m0 34v1m0 5v1m0 3v1m0 1v1m0 8v1m0 1v1m0 3v1m0 1v1m0 3v1m0 1v1m0 4v1m0 14v1m0 95v1m0 14v1m0 2v1m0 6v1m0 13v1m0 23v1m0 7v1m0 3v1m0 1v1m0 3v1m0 3v1m0 2v1m0 10v1m0 2v1m0 12v1m0 1v1m0 2v1m0 1v1m0 3v1m0 2v1m0 1v1m0 2v1M484 96v1m0 2v1m0 10v1m0 8v1m0 5v1m0 1v1m0 4v1m0 7v1m0 7v1m0 67v1m0 20v1m0 23v1m0 38v1m0 19v1m0 1v1m0 16v1m0 12v1m0 13v1m0 14v1m0 5v1m0 7v1m0 2v1M485 93v1m0 10v1m0 83v1m0 31v1m0 1v1m0 1v1m0 21v1m0 3v1m0 45v1m0 5v1m0 1v1m0 45v1M486 79v1m0 4v1m0 12v1m0 8v1m0 12v1m0 2v1m0 3v1m0 4v1m0 5v1m0 1v1m0 4v1m0 12v1m0 2v1m0 3v1m0 1v1m0 1v1m0 1v1m0 6v1m0 96v1m0 39v1m0 16v1m0 4v1m0 2v1m0 2v1m0 3v1m0 4v1m0 9v1m0 1v1m0 11v1m0 3v1m0 1v1m0 3v1m0 1v1m0 1v1M487 74v1m0 3v1m0 54v1m0 2v1m0 130v1m0 28v1m0 48v1m0 14v1m0 22v1M527 125v1m0 71v1m0 1v1m0 17v1m0 33v1m0 17v1m0 2v1m0 13v1m0 18v1m0 2v1m0 3v1M528 122v1m0 58v1m0 5v1m0 4v1m0 3v1m0 51v1m0 32v1m0 49v1M529 104v1m0 7v1m0 11v1m0 47v1m0 7v1m0 1v1m0 8v1m0 3v1m0 58v1m0 25v1m0 16v1m0 2v1m0 41v1M530 168v1m0 45v1m0 3v1m0 12v1m0 27v1m0 13v1m0 5v1m0 1v1m0 5v1m0 87v1M531 80v1m0 20v1m0 6v1m0 2v1m0 7v1m0 5v1m0 3v1m0 20v1m0 4v1m0 4v1m0 5v1m0 2v1m0 6v1m0 19v1m0 88v1m0 2v1m0 1v1m0 9v1m0 7v1m0 9v1m0 1v1m0 2v1m0 2v1m0 13v1m0 2v1m0 1v1m0 7v1m0 3v1m0 5v1m0 3v1m0 5v1m0 20v1M532 146v1m0 26v1m0 31v1m0 4v1m0 3v1m0 7v1m0 5v1m0 9v1m0 35v1M533 88v1m0 25v1m0 9v1m0 13v1m0 12v1m0 5v1m0 6v1m0 5v1m0 5v1m0 6v1m0 96v1m0 1v1m0 2v1m0 3v1m0 14v1m0 3v1m0 10v1m0 1v1m0 7v1m0 5v1m0 8v1m0 18v1M534 78v1m0 3v1m0 69v1m0 1v1m0 34v1m0 123v1m0 6v1m0 1v1m0 15v1m0 2v1m0 25v1m0 1v1m0 10v1m0 2v1m0 5v1m0 16v1M535 137v1m0 27v1m0 1v1m0 48v1m0 87v1m0 12v1m0 5v1m0 15v1M536 192v1m0 3v1m0 30v1m0 79v1m0 3v1m0 1v1m0 13v1m0 4v1m0 14v1M537 82v1m0 1v1m0 3v1m0 6v1m0 4v1m0 1v1m0 4v1m0 3v1m0 4v1m0 8v1m0 6v1m0 4v1m0 10v1m0 2v1m0 4v1m0 2v1m0 2v1m0 2v1m0 13v1m0 2v1m0 36v1m0 21v1m0 39v1m0 17v1m0 5v1m0 6v1m0 1v1m0 4v1m0 2v1m0 7v1m0 2v1m0 2v1m0 1v1m0 12v1m0 4v1m0 4v1m0 2v1m0 3v1m0 1v1m0 11v1m0 7v1m0 4v1m0 3v1m0 2v1m0 4v1m0 1v1M538 80v1m0 65v1m0 49v1m0 83v1m0 23v1m0 5v1m0 7v1m0 22v1m0 32v1m0 29v1M539 126v1m0 24v1m0 21v1m0 20v1m0 90v1m0 11v1m0 2v1m0 6v1m0 26v1m0 16v1m0 2v1M540 75v1m0 6v1m0 21v1m0 10v1m0 11v1m0 1v1m0 1v1m0 2v1m0 2v1m0 7v1m0 7v1m0 1v1m0 7v1m0 4v1m0 1v1m0 7v1m0 10v1m0 85v1m0 12v1m0 1v1m0 1v1m0 2v1m0 9v1m0 5v1m0 2v1m0 4v1m0 1v1m0 8v1m0 33v1m0 1v1m0 7v1m0 4v1M541 96v1m0 88v1m0 24v1m0 106v1m0 7v1m0 25v1m0 2v1M542 75v1m0 5v1m0 5v1m0 4v1m0 2v1m0 9v1m0 4v1m0 7v1m0 7v1m0 3v1m0 9v1m0 3v1m0 1v1m0 2v1m0 8v1m0 3v1m0 2v1m0 9v1m0 3v1m0 4v1m0 6v1m0 16v1m0 43v1m0 4v1m0 47v1m0 16v1m0 5v1m0 7v1m0 5v1m0 1v1m0 2v1m0 8v1m0 6v1m0 3v1m0 1v1m0 5v1m0 4v1m0 5v1m0 6v1m0 6v1m0 8v1M543 148v1m0 21v1m0 9v1m0 16v1m0 16v1m0 65v1m0 15v1m0 6v1m0 11v1m0 1v1M544 74v1m0 2v1m0 1v1m0 2v1m0 5v1m0 4v1m0 14v1m0 1v1m0 4v1m0 5v1m0 7v1m0 6v1m0 7v1m0 6v1m0 4v1m0 7v1m0 1v1m0 1v1m0 3v1m0 5v1m0 24v1m0 83v1m0 9v1m0 2v1m0 3v1m0 2v1m0 5v1m0 5v1m0 2v1m0 2v1m0 3v1m0 2v1m0 2v1m0 5v1m0 5v1m0 1v1m0 1v1m0 2v1m0 9v1m0 1v1m0 1v1m0 11v1m0 6v1m0 1v1M545 83v1m0 1v1m0 19v1m0 17v1m0 6v1m0 6v1m0 15v1m0 6v1m0 166v1m0 3v1m0 1v1m0 37v1M546 165v1m0 17v1m0 3v1m0 6v1m0 43v1m0 15v1m0 35v1m0 11v1m0 26v1m0 15v1M547 79v1m0 3v1m0 18v1m0 6v1m0 4v1m0 9v1m0 3v1m0 13v1m0 1v1m0 1v1m0 1v1m0 7v1m0 4v1m0 9v1m0 8v1m0 108v1m0 6v1m0 4v1m0 12v1m0 6v1m0 3v1m0 10v1m0 4v1m0 6v1m0 2v1m0 1v1m0 1v1m0 11v1m0 8v1m0 7v1m0 2v1m0 8v1M548 95v1m0 8v1m0 16v1m0 3v1m0 13v1m0 17v1m0 2v1m0 125v1m0 3v1m0 9v1m0 18v1m0 15v1m0 1v1m0 1v1m0 5v1m0 1v1m0 10v1m0 2v1m0 10v1m0 8v1M549 196v1m0 1v1m0 4v1m0 73v1m0 24v1m0 5v1M550 119v1m0 43v1m0 4v1m0 3v1m0 3v1m0 3v1m0 1v1m0 6v1m0 7v1m0 3v1m0 8v1m0 8v1m0 4v1m0 17v1m0 7v1m0 2v1m0 1v1m0 1v1m0 6v1m0 17v1m0 4v1m0 1v1m0 17v1M551 126v1m0 37v1m0 1v1m0 27v1m0 41v1m0 37v1m0 2v1m0 12v1m0 83v1m0 1v1m0 9v1m0 15v1M552 243v1m0 27v1m0 11v1m0 7v1M553 151v1m0 4v1m0 8v1m0 2v1m0 5v1m0 2v1m0 2v1m0 1v1m0 14v1m0 13v1m0 68v1m0 6v1m0 1v1m0 6v1m0 1v1m0 12v1m0 3v1m0 9v1" stroke-opacity="0.501"/>
<path d="M103 209v1m0 4v1m0 1v2m0 31v1M104 188v1m0 6v1m0 103v1M106 187v1m0 12v1m0 86v1M107 290v1M108 212v3m0 65v1m0 9v1M109 197v3M110 202v1m0 91v2M111 208v1m0 12v1m0 8v1m0 8v1M112 189v1m0 3v1m0 7v2m0 2v1m0 70v1m0 6v2M113 201v1m0 32v1m0 56v1m0 4v1M114 200v1m0 3v1m0 79v1m0 8v1m0 3v1M115 84v1m0 9v1m0 32v1m0 2v1m0 39v1m0 18v2m0 6v1m0 1v1m0 69v1m0 16v1m0 31v3m0 3v1m0 33v1m0 4v1m0 26v1m0 8v1m0 8v1M116 99v1m0 21v1m0 22v1m0 1v1m0 1v1m0 12v1m0 15v1m0 8v1m0 8v1m0 97v1m0 8v1m0 15v1m0 1v1m0 2v1m0 7v2m0 25v1m0 3v1M117 194v1m0 61v1M118 189v1m0 5v4m0 44v1m0 60v1M119 155v1m0 29v1m0 6v1m0 1v1m0 3v1m0 86v1m0 5v1m0 3v1m0 4v1m0 1v1m0 46v1m0 28v1M120 225v1m0 59v1m0 5v1M160 200v1m0 3v1m0 37v1m0 38v1M161 218v1m0 4v1m0 12v1m0 5v1m0 41v1m0 1v1M162 207v1m0 4v2m0 25v1m0 45v1M163 174v1m0 20v1m0 13v1m0 27v1m0 12v1m0 34v1m0 7v1m0 59v1M164 186v1m0 22v1m0 13v1m0 31v1m0 25v1m0 6v1m0 1v1m0 6v1m0 3v1M165 208v1m0 15v1m0 44v1m0 10v1m0 10v1m0 7v1M166 197v2m0 4v1m0 18v1m0 40v1m0 18v1m0 2v1M167 186v1m0 18v1m0 2v3m0 8v1m0 1v1m0 1v1m0 44v1m0 15v1M168 102v1m0 83v1m0 6v1m0 1v1m0 11v1m0 10v1m0 32v1m0 29v1m0 8v1m0 54v1m0 31v1M169 193v1m0 3v1m0 8v1m0 3v1m0 8v1m0 19v1m0 1v1m0 39v1M171 160v1m0 41v1m0 102v1M172 288v2m0 2v3M173 194v1m0 2v1m0 62v1M174 183v1m0 4v1m0 28v1M175 189v1m0 2v2m0 49v1m0 2v1M176 153v1m0 20v1m0 24v1m0 3v1m0 80v1m0 8v1m0 3v1m0 55v1m0 31v1M177 181v2m0 14v1m0 14v1m0 81v1m0 5v1M178 161v1m0 22v2m0 91v1m0 18v1m0 44v1M179 189v1m0 5v1m0 1v1m0 17v1m0 40v1m0 3v1M180 197v1m0 78v1m0 5v3m0 4v1M182 77v1m0 60v1m0 9v1m0 8v1m0 14v1m0 2v2m0 1v1m0 11v1m0 1v1m0 33v2m0 2v1m0 9v1m0 76v1m0 6v1m0 19v1m0 4v1m0 4v1m0 10v1m0 23v1m0 16v1M183 201v1m0 22v1m0 32v1M184 198v1m0 82v1M185 206v1m0 25v1m0 40v1m0 6v1m0 6v1m0 1v1m0 8v1M186 205v2m0 3v1m0 9v1m0 28v1m0 14v1m0 18v1m0 5v1m0 3v1M187 199v1m0 6v1m0 4v3m0 7v1m0 42v1m0 6v1M188 196v1m0 84v1m0 9v1m0 9v1m0 58v1M189 285v1m0 21v1M190 136v1m0 40v1m0 7v1m0 6v1m0 51v1m0 32v1m0 9v1m0 3v1M191 192v1m0 14v1m0 81v1M198 246v1m0 30v1M235 159v1m0 16v1m0 1v1m0 8v1m0 4v1m0 6v1m0 3v2m0 51v1m0 37v1m0 34v1M236 193v1m0 1v2m0 13v1m0 18v1m0 4v1m0 20v1m0 39v1M237 214v1m0 5v1m0 12v1m0 1v1m0 2v1m0 43v1M238 216v1m0 6v1m0 1v1m0 46v1M239 200v1m0 18v1m0 33v1m0 9v1m0 8v1m0 16v1m0 5v1m0 5v1m0 4v1m0 7v1M240 217v1m0 13v1m0 9v1m0 8v1m0 4v1m0 5v1m0 20v1m0 16v1m0 21v1M241 171v1m0 1v1m0 1v1m0 6v1m0 99v1m0 9v1m0 34v1M242 176v1m0 119v1M243 177v1m0 1v1m0 122v1m0 5v1m0 3v1m0 2v1m0 8v2M244 91v1m0 1v1m0 20v1m0 31v1m0 14v1m0 5v1m0 4v1m0 157v1m0 9v1m0 1v1m0 25v1M245 342v1M246 180v1m0 110v1m0 7v1m0 22v1m0 4v1m0 5v1M247 177v1m0 1v1m0 9v1m0 3v1m0 90v1m0 22v1m0 44v2M248 177v1m0 6v1m0 91v1m0 15v1M249 184v1m0 11v1m0 66v1m0 17v2m0 5v2m0 2v1m0 9v1M250 184v1m0 3v1m0 55v1m0 28v1m0 6v1M251 78v1m0 23v1m0 33v1m0 6v1m0 3v1m0 12v1m0 18v1m0 11v1m0 91v1m0 7v1m0 41v1m0 51v1M252 208v1M253 295v1m0 9v1m0 6v1m0 4v1M254 164v1m0 23v1m0 3v1M340 211v1m0 34v1m0 1v1M383 204v1M454 169v1m0 26v2m0 2v1m0 52v1m0 7v1m0 26v1m0 16v1m0 20v2M455 166v1m0 7v1m0 21v1m0 95v1m0 7v2m0 8v1m0 1v1m0 5v1m0 1v1m0 6v1m0 29v1M456 225v1m0 14v1m0 31v1m0 5v1m0 43v1M457 145v1m0 3v1m0 24v1m0 32v1m0 1v1m0 3v2m0 10v1m0 14v1m0 19v1m0 1v1m0 2v1M458 164v1m0 9v1m0 16v1m0 24v1m0 58v1m0 12v1M459 164v1m0 26v1m0 78v1M460 146v1m0 21v1m0 1v1m0 34v1m0 66v1m0 9v1m0 12v1m0 2v1m0 16v1m0 25v1m0 2v1m0 7v1m0 10v1m0 21v1M461 160v1m0 33v1m0 7v1m0 79v1m0 11v1m0 6v1m0 5v1m0 4v1m0 2v2m0 15v1m0 6v1M462 185v1m0 7v1m0 24v1m0 62v1m0 6v1m0 2v1m0 4v1m0 4v1M463 184v1m0 28v1m0 27v1m0 55v2M464 163v1m0 106v1m0 52v1M465 171v1m0 25v1m0 1v1m0 70v1m0 12v1m0 2v1m0 1v1m0 11v1m0 2v1m0 13v1m0 12v1m0 24v1M466 158v1m0 38v1m0 38v1m0 16v1m0 31v1m0 7v1m0 2v1m0 3v1m0 29v1M467 203v1m0 26v1m0 47v1m0 7v1m0 4v1m0 11v1m0 12v1m0 11v1M468 267v1m0 6v1m0 70v1M469 253v1m0 18v1m0 37v1M470 158v1m0 1v2m0 27v1m0 67v1m0 16v1m0 17v1m0 3v1m0 2v1m0 1v1m0 7v2m0 20v1M471 168v1m0 18v1m0 14v1m0 18v1m0 47v1m0 3v1m0 2v1m0 3v1m0 1v1m0 1v1m0 1v1m0 4v1m0 7v1m0 33v1m0 3v1M472 168v1m0 110v1m0 2v1m0 2v1m0 7v2m0 5v1m0 1v1m0 1v1m0 4v1m0 1v2m0 15v1M473 179v1m0 14v1m0 50v1M474 182v1m0 2v1m0 8v1m0 13v1m0 63v1m0 6v2m0 7v1m0 7v1m0 3v1m0 3v1m0 16v1M475 171v1m0 2v1m0 71v1m0 42v1m0 2v1m0 10v2m0 17v1M476 177v1m0 24v1m0 30v1m0 64v2m0 1v1m0 3v1m0 4v1M477 233v1m0 2v1m0 4v1m0 71v1M478 184v1m0 4v1m0 2v1m0 115v1m0 5v1m0 9v1M479 128v1m0 58v1m0 1v1m0 3v1m0 107v1m0 22v1M480 157v1m0 3v1m0 1v1m0 13v2m0 10v2m0 8v2M481 167v1m0 4v1m0 1v1m0 1v1m0 13v1m0 88v1m0 6v1m0 2v1m0 1v1m0 19v1m0 56v1M482 183v1m0 5v2m0 46v1m0 59v1M483 107v1m0 28v1m0 18v1m0 8v1m0 11v1m0 15v1m0 40v1m0 49v3m0 8v1m0 29v1m0 1v1m0 16v1m0 12v1m0 50v1M484 88v1m0 9v1m0 37v1m0 24v1m0 139v1m0 24v1m0 10v1m0 5v1m0 9v1m0 5v1m0 5v1m0 16v1M485 148v1m0 14v1m0 128v1m0 7v1m0 6v1M486 125v1m0 26v1m0 6v1m0 1v1m0 12v2m0 11v1m0 9v1m0 124v1m0 2v1m0 4v1m0 1v1m0 4v1m0 5v1m0 20v2M487 126v2m0 163v1m0 9v1M527 201v1m0 1v2m0 2v1m0 3v1m0 66v1M528 278v1M529 278v1m0 52v1M530 124v1m0 47v1m0 103v1M531 85v1m0 32v1m0 1v1m0 30v1m0 13v1m0 1v1m0 7v1m0 103v1m0 1v2m0 1v1m0 6v2m0 17v1m0 11v1m0 2v1m0 8v1m0 1v2m0 1v1m0 2v1m0 23v1m0 1v1M532 166v1m0 5v1m0 2v1m0 4v1m0 15v1m0 82v1m0 8v1m0 3v1M533 115v1m0 21v1m0 18v1m0 15v1m0 4v1m0 136v3M534 156v1m0 7v1m0 17v1m0 3v1m0 105v1m0 22v1m0 2v1m0 65v1M535 136v1m0 49v2m0 132v1M536 191v1m0 18v1m0 78v1m0 8v1m0 5v1m0 12v1m0 5v1m0 15v1M537 87v1m0 1v1m0 16v1m0 19v1m0 11v1m0 5v1m0 7v2m0 20v2m0 1v1m0 12v1m0 1v1m0 79v1m0 16v1m0 5v1m0 5v2m0 12v1m0 5v1m0 7v1m0 4v1m0 9v1m0 2v1m0 2v1m0 1v1m0 33v1m0 1v1M538 138v1m0 50v2m0 75v1m0 3v2m0 1v1m0 1v1m0 6v1m0 29v1m0 1v1M539 195v1M540 81v1m0 69v1m0 27v1m0 16v1m0 84v1m0 22v1m0 5v1m0 2v1m0 20v1m0 4v1M541 153v1m0 14v1m0 128v1m0 3v1m0 10v1m0 6v1M542 76v1m0 40v1m0 21v1m0 10v1m0 2v1m0 10v1m0 7v1m0 21v1m0 15v1m0 68v1m0 17v1m0 3v1m0 2v1m0 8v1m0 17v1m0 19v1m0 10v1m0 3v1m0 9v1M543 194v1m0 79v1m0 3v1m0 22v1m0 7v1m0 2v1m0 18v1M544 119v2m0 22v1m0 11v1m0 14v1m0 14v1m0 11v1m0 80v1m0 9v1m0 6v1m0 3v1m0 15v1m0 10v1m0 3v1m0 15v1m0 5v1M545 77v1m0 85v1m0 5v2m0 2v2m0 10v1m0 92v1m0 7v1m0 8v1m0 4v1m0 12v1m0 8v1m0 12v2m0 31v1M546 130v1m0 43v1m0 108v1m0 3v1m0 40v1M547 76v1m0 85v1m0 1v3m0 8v1m0 3v1m0 7v1m0 6v1m0 1v1m0 79v1m0 28v1m0 4v1m0 4v1M548 166v2m0 3v1m0 22v1m0 2v1m0 114v3m0 3v1m0 3v1m0 17v1m0 15v2m0 9v1m0 3v1m0 12v1M549 166v1m0 25v1m0 87v1m0 4v1m0 19v1m0 13v1m0 19v1M550 174v2m0 27v2m0 4v1m0 1v1m0 5v1m0 53v1m0 33v1M551 173v1m0 1v1m0 17v1m0 43v1m0 32v1m0 4v1m0 5v1M552 189v1m0 11v1m0 74v1m0 4v1m0 10v1M553 169v1m0 3v1m0 2v1m0 6v2m0 4v2m0 2v1m0 83v1" stroke-opacity="0.531"/>
<path d="M103 215v1m0 6v1m0 2v1m0 12v1m0 7v1m0 6v1m0 31v1m0 1v1m0 1v1M104 198v1m0 44v1m0 15v1m0 26v1M105 225v1m0 3v1m0 17v1m0 4v1m0 10v1m0 3v1m0 2v1M106 229v1m0 19v1m0 11v1m0 6v1m0 6v1M107 202v1m0 4v1m0 3v1m0 1v1m0 25v1m0 44v1M108 207v1m0 9v1m0 6v2m0 2v1m0 15v1m0 30v1M109 207v2m0 4v1m0 20v1m0 12v1m0 2v1m0 1v1m0 4v1m0 4v1m0 3v2m0 9v1M110 195v1m0 10v4m0 11v1m0 8v1m0 3v2m0 2v1m0 16v1m0 2v1m0 3v1m0 21v1M111 210v1m0 3v2m0 1v1m0 17v2m0 3v2m0 7v1m0 11v3m0 2v1m0 6v1m0 6v1m0 2v1M112 188v1m0 2v1m0 25v1m0 1v2m0 12v1m0 1v1m0 5v1m0 26v1m0 2v1M113 199v1M114 203v1m0 1v1m0 1v2m0 1v1m0 1v1m0 2v1m0 8v1m0 8v1m0 1v1m0 1v1m0 1v1m0 5v1m0 8v1m0 8v1m0 7v1m0 1v1m0 7v1m0 1v1m0 12v1M115 96v1m0 29v1m0 18v1m0 21v1m0 18v1m0 4v1m0 2v1m0 6v1m0 14v1m0 5v1m0 1v1m0 5v1m0 5v1m0 3v1m0 1v1m0 30v1m0 15v1m0 3v1m0 31v1m0 1v1M116 194v1m0 3v1m0 6v2m0 14v1m0 34v1m0 1v1m0 25v1m0 2v1m0 4v1m0 4v1m0 2v1M117 208v1m0 2v1m0 8v1m0 8v1m0 7v1m0 7v1m0 13v1m0 11v1M118 200v1m0 9v1m0 20v1m0 7v1m0 21v1m0 23v1M119 191v1m0 3v1m0 17v1m0 158v1m0 2v1M120 200v1m0 36v1m0 10v1m0 4v1m0 12v1m0 10v1m0 3v1M160 214v1m0 3v1m0 19v1m0 14v1m0 41v1M161 207v1m0 9v1m0 3v1m0 2v2m0 1v2m0 3v1m0 12v1m0 8v1m0 1v2m0 5v1m0 4v2m0 3v1M162 219v1m0 5v1m0 2v1m0 18v1m0 3v1m0 4v1m0 5v1m0 4v1m0 1v1m0 1v1m0 2v1m0 5v1m0 1v1m0 10v1M163 199v2m0 6v2m0 3v1m0 21v2m0 8v1m0 3v1m0 6v1m0 7v1m0 8v1m0 6v1m0 3v1M164 208v1m0 15v1m0 1v1m0 26v1m0 2v1m0 1v1m0 1v2m0 5v1m0 6v1m0 1v1m0 8v1m0 3v1m0 1v1m0 2v1m0 4v1M165 212v2m0 8v2m0 2v1m0 3v1m0 3v1m0 8v1m0 9v1m0 1v1m0 2v2m0 3v2m0 1v1m0 1v1m0 4v1m0 2v1m0 4v1m0 2v2M166 204v2m0 6v1m0 1v2m0 1v1m0 1v1m0 1v1m0 4v2m0 3v1m0 2v3m0 2v4m0 1v3m0 4v1m0 6v1m0 2v1m0 3v2m0 14v1m0 1v2M167 192v2m0 20v1m0 11v1m0 7v1m0 7v1m0 3v1m0 3v1m0 3v1m0 3v1m0 22v1M168 182v1m0 9v1m0 1v1m0 2v1m0 1v1m0 6v1m0 3v1m0 1v4m0 3v1m0 4v3m0 4v1m0 1v1m0 12v1m0 24v1m0 1v1m0 4v2m0 3v1m0 1v2M169 216v1m0 25v1m0 2v1m0 2v1m0 5v2m0 1v1m0 9v1m0 3v1M170 207v1m0 57v1m0 7v1m0 8v1M171 199v1m0 4v1m0 2v2m0 9v1m0 16v2m0 4v2m0 8v1m0 2v1m0 26v1m0 3v1M172 201v1m0 8v1m0 6v1m0 24v1m0 33v1m0 13v1M173 199v1m0 3v1m0 9v1m0 10v1m0 2v1m0 43v1m0 2v1m0 5v2m0 1v1M174 185v1m0 5v1m0 6v1m0 8v1m0 32v1m0 2v1m0 2v1M175 204v1m0 8v1m0 6v1m0 6v1m0 2v1m0 10v1m0 3v1m0 5v1m0 3v3m0 1v1m0 3v1m0 7v1M176 171v1m0 7v1m0 12v2m0 1v1m0 5v1m0 10v1m0 8v1m0 16v1m0 56v1m0 4v1m0 7v1m0 63v1M177 161v1m0 34v1m0 9v1m0 18v1m0 2v1m0 13v1m0 29v1m0 9v1m0 1v4m0 1v1M178 194v1m0 2v1m0 1v1m0 40v1m0 28v1m0 5v2m0 4v1m0 2v1m0 1v2M179 205v1m0 1v3m0 2v1m0 1v1m0 1v1m0 4v1m0 3v2m0 4v2m0 1v2m0 9v1m0 5v1m0 5v1m0 5v1m0 1v2M180 186v1m0 12v1m0 7v1m0 38v1m0 15v1m0 16v1M181 217v1m0 7v1m0 8v1m0 4v1m0 13v1m0 1v1m0 5v2m0 8v1M182 183v1m0 26v1m0 6v1m0 1v1m0 12v1m0 1v3m0 1v1m0 16v1m0 2v2m0 31v1m0 8v1m0 13v1m0 14v1m0 30v1M183 202v1m0 2v1m0 5v1m0 3v1m0 3v1m0 7v1m0 17v1m0 18v1m0 5v2m0 7v1m0 1v1m0 2v1M185 210v2m0 2v2m0 4v1m0 1v1m0 13v1m0 1v1m0 4v2m0 1v1m0 8v1m0 1v2m0 5v2m0 1v1m0 3v1m0 3v2m0 2v1M186 211v1m0 5v1m0 12v1m0 7v1m0 11v1m0 18v1m0 1v1M187 205v1m0 10v1m0 11v1m0 6v1m0 16v1m0 10v1m0 2v1m0 3v1m0 4v1M188 200v1m0 13v1m0 27v1m0 2v2m0 33v1M189 203v2m0 14v1m0 8v1m0 1v1m0 10v2m0 5v1m0 13v1m0 1v1m0 10v1M190 187v1m0 8v1m0 22v1m0 25v1m0 3v1m0 1v1m0 2v1m0 6v1M191 182v1m0 1v1m0 6v1m0 8v1m0 3v1m0 4v1m0 3v1m0 6v1m0 24v1m0 2v1m0 3v1m0 25v1m0 5v1M235 181v1m0 24v1m0 8v1m0 2v1m0 10v1m0 1v1m0 3v1m0 2v1m0 16v1m0 19v1m0 13v1m0 2v1m0 2v1M236 183v1m0 14v1m0 9v1m0 7v1m0 4v1m0 6v1m0 9v1m0 5v2m0 8v1m0 8v1m0 9v1m0 1v1m0 5v2M237 211v2m0 3v1m0 1v1m0 5v2m0 6v1m0 1v1m0 10v1m0 6v1m0 13v3m0 2v3m0 1v1M238 217v2m0 1v1m0 3v1m0 3v3m0 7v1m0 2v1m0 4v1m0 2v1m0 4v1m0 3v2m0 2v1m0 6v1m0 3v1m0 15v1M239 194v1m0 2v1m0 1v1m0 11v1m0 5v1m0 10v2m0 3v1m0 3v2m0 2v1m0 12v2m0 1v1m0 15v1m0 5v1m0 2v1m0 1v2m0 35v1m0 8v1M240 212v2m0 4v1m0 1v1m0 4v2m0 5v1m0 2v1m0 3v1m0 11v1m0 2v1m0 2v1m0 1v2m0 3v1m0 6v1m0 5v2m0 1v1m0 10v2m0 11v3M241 176v1m0 4v1m0 3v1m0 28v1m0 5v1m0 12v1m0 3v1m0 9v1m0 12v1m0 18v1m0 6v1m0 1v1m0 4v1m0 7v1m0 9v1M242 174v1m0 4v1m0 4v1m0 14v1m0 8v1m0 4v1m0 28v1m0 3v1m0 47v1M243 181v1m0 14v1m0 2v1m0 7v1m0 1v2m0 1v1m0 6v1m0 10v2m0 1v1m0 1v1m0 10v1m0 9v1m0 12v1m0 4v1m0 10v1m0 4v1m0 2v1m0 1v1m0 8v1m0 4v1m0 7v1m0 5v1M244 214v1m0 3v1m0 4v1m0 1v1m0 13v1m0 4v1m0 4v1m0 1v1m0 8v1m0 3v1m0 60v1M245 177v1m0 4v1m0 4v1m0 7v1m0 13v1m0 12v1m0 24v1m0 3v1m0 5v2m0 6v1m0 33v1m0 3v1m0 18v1M246 177v1m0 15v1m0 1v1m0 102v1m0 1v1m0 2v1m0 7v2m0 17v1M247 187v1m0 21v1m0 14v1m0 9v1m0 38v1m0 4v1m0 2v1m0 10v1m0 20v1M248 188v1m0 14v2m0 18v1m0 12v1m0 24v1m0 15v1m0 8v1M249 182v1m0 8v2m0 23v1m0 2v1m0 9v1m0 22v1M250 187v1m0 2v1m0 50v1m0 15v1m0 7v1m0 2v1m0 5v1m0 3v1M251 79v1m0 10v1m0 10v1m0 39v1m0 39v1m0 5v1m0 1v2m0 1v1m0 15v1m0 63v3m0 13v1m0 34v1m0 2v1m0 38v1m0 16v1M252 193v1m0 10v1m0 5v1m0 2v1m0 11v1m0 1v1m0 25v1m0 5v1m0 1v1m0 5v1m0 2v1m0 5v1M253 193v1m0 15v1m0 22v1m0 31v1m0 9v1m0 4v1m0 5v1m0 16v1M254 193v1m0 1v1m0 27v1m0 24v1m0 27v1m0 33v1M454 166v1m0 36v1m0 4v1m0 7v1m0 3v1m0 3v1m0 9v1m0 6v1m0 7v1m0 2v1m0 10v1m0 2v1m0 12v1M455 163v1m0 6v1m0 6v1m0 5v2m0 12v1m0 11v1m0 15v1m0 12v1m0 31v1m0 5v2m0 3v1m0 1v1m0 7v1m0 1v1m0 2v1m0 1v1m0 27v1M456 200v1m0 6v1m0 1v1m0 11v1m0 20v1m0 20v1m0 4v1M457 203v1m0 11v2m0 2v1m0 11v1m0 2v2m0 22v1m0 12v1M458 197v1m0 4v1m0 12v1m0 27v1m0 27v2m0 4v1m0 4v1M459 196v1m0 5v4m0 1v2m0 5v1m0 4v1m0 2v2m0 5v1m0 1v3m0 11v1m0 16v2m0 7v1M460 145v1m0 2v1m0 28v1m0 6v1m0 4v1m0 1v1m0 5v1m0 4v1m0 1v1m0 63v1m0 1v1m0 5v1m0 1v1m0 1v1m0 2v1m0 3v2m0 4v1m0 2v1m0 10v1m0 13v1m0 10v1m0 7v1m0 2v1M461 172v1m0 11v1m0 15v1m0 2v1m0 14v1m0 12v1m0 9v1m0 37v2m0 3v1m0 5v2m0 1v1m0 1v1M462 186v1m0 7v1m0 11v2m0 5v1m0 2v1m0 3v1m0 1v1m0 1v1m0 7v1m0 4v2m0 2v1m0 7v1m0 1v1m0 2v1m0 2v1m0 13v1m0 5v1M463 180v1m0 8v1m0 21v1m0 9v1m0 18v1m0 11v1m0 4v1m0 3v1m0 3v2m0 7v3m0 10v1m0 8v1M464 160v1m0 22v1m0 15v1m0 1v1m0 1v1m0 23v1m0 21v1m0 10v1m0 3v1m0 6v1M465 182v1m0 1v1m0 51v1m0 15v1m0 3v1m0 10v2m0 2v1m0 2v1m0 4v1m0 13v1m0 1v1m0 42v1m0 17v1M466 204v1m0 13v1m0 9v1m0 2v1m0 1v1m0 4v2m0 2v1m0 5v1m0 3v1m0 2v1m0 2v1m0 3v1m0 2v1m0 4v1m0 2v1m0 1v1m0 4v1m0 1v1m0 20v1m0 5v1m0 6v1M467 199v1m0 1v1m0 14v1m0 1v1m0 8v1m0 15v1m0 20v1m0 6v1m0 2v2m0 11v1M468 181v1m0 5v1m0 2v2m0 4v2m0 6v1m0 32v1m0 1v1m0 32v1M469 188v1m0 7v1m0 3v1m0 9v1m0 1v2m0 22v1m0 9v1m0 7v1M470 188v1m0 8v1m0 4v1m0 6v1m0 7v2m0 2v1m0 4v1m0 13v1m0 18v2m0 5v1m0 35v1M471 160v2m0 9v1m0 17v1m0 2v1m0 19v1m0 12v1m0 1v1m0 11v1m0 17v1m0 7v1m0 5v1m0 2v1m0 2v2m0 2v1m0 1v1m0 19v1M472 164v2m0 6v1m0 9v1m0 1v1m0 10v1m0 2v1m0 3v1m0 16v1m0 18v1m0 38v1m0 3v1m0 4v2m0 18v1M473 180v1m0 4v1m0 3v1m0 9v3m0 2v1m0 1v1m0 2v1m0 2v1m0 2v1m0 2v2m0 1v1m0 2v1m0 1v1m0 9v2m0 1v1m0 1v4m0 6v1m0 3v1m0 1v1m0 2v1m0 2v1m0 2v2M474 195v1m0 1v1m0 30v1m0 2v1m0 23v1m0 3v1m0 1v1m0 1v1m0 19v1M475 157v1m0 11v1m0 28v1m0 32v1m0 18v1m0 13v1m0 11v1m0 4v2m0 2v2m0 4v1m0 3v1m0 2v1m0 6v1M476 183v1m0 10v1m0 2v1m0 6v1m0 1v2m0 26v1m0 1v1m0 4v1m0 32v1m0 3v1m0 8v1m0 2v1M477 208v1m0 12v3m0 3v1m0 3v1m0 2v1m0 8v1m0 3v1m0 6v1m0 4v1m0 5v1m0 4v1m0 6v1m0 11v1m0 6v1M478 176v1m0 3v1m0 1v1m0 8v1m0 2v1m0 22v1m0 8v1m0 20v1m0 19v1m0 17v1m0 39v1M479 178v1m0 17v1m0 9v1m0 70v2m0 11v1m0 7v2M480 152v1m0 5v1m0 1v1m0 7v1m0 10v2m0 1v1m0 3v1m0 8v1m0 33v1m0 15v1m0 2v1m0 12v1m0 7v1m0 3v2m0 1v1m0 2v1M481 177v1m0 1v2m0 4v2m0 9v1m0 22v1m0 5v1m0 2v1m0 17v1m0 8v1m0 22v1m0 15v1m0 14v1m0 41v1M482 192v1m0 7v1m0 5v1m0 1v1m0 3v1m0 11v1m0 5v1m0 12v1m0 7v1m0 3v2m0 1v1m0 1v1m0 1v1m0 4v2m0 1v1m0 8v2m0 7v1M483 145v1m0 11v1m0 7v1m0 2v1m0 2v1m0 1v1m0 5v1m0 5v2m0 3v1m0 5v1m0 1v1m0 1v1m0 21v1m0 6v1m0 12v1m0 17v1m0 18v1m0 13v1m0 13v1m0 19v1m0 8v1M484 107v1m0 50v1m0 4v1m0 6v1m0 8v1m0 2v2m0 11v1m0 7v1m0 4v1m0 12v1m0 9v1m0 11v1m0 15v1m0 20v1m0 1v1m0 3v1m0 2v1m0 1v1m0 7v1m0 10v1m0 16v1m0 6v1m0 16v1M485 176v1m0 4v1m0 7v1m0 1v1m0 5v1m0 12v1m0 1v1m0 31v1m0 7v1m0 17v1m0 4v1m0 1v1m0 11v1m0 9v1m0 3v1M486 87v1m0 57v1m0 21v1m0 3v1m0 9v1m0 1v1m0 5v1m0 2v1m0 11v1m0 16v1m0 29v1m0 21v1m0 8v1m0 5v1m0 2v1m0 6v1m0 8v1m0 30v1M487 149v1m0 22v1m0 17v1m0 8v1m0 21v1m0 1v1m0 2v1m0 5v1m0 36v1m0 12v2m0 31v1m0 3v1M527 210v1m0 13v1m0 15v2m0 1v1m0 6v1m0 11v1m0 27v1m0 6v1M528 197v1m0 5v1m0 23v1m0 1v1m0 9v1m0 1v1m0 47v1M529 192v1m0 17v1m0 11v1m0 49v1m0 3v1M530 202v1m0 2v2m0 6v1m0 2v1m0 4v1m0 8v1m0 1v1m0 1v2m0 3v1m0 2v1m0 1v1m0 1v1m0 3v1m0 6v1m0 6v1m0 1v1m0 2v1m0 2v1m0 5v1M531 144v1m0 18v1m0 16v1m0 117v1m0 18v1M532 174v1m0 6v1m0 5v1m0 6v1m0 5v1m0 1v1m0 9v1m0 3v1m0 10v1m0 2v1m0 19v1m0 2v1m0 1v1m0 5v1m0 4v1m0 1v1m0 34v1M533 186v1m0 4v1m0 49v1m0 21v1m0 15v1m0 3v1m0 3v1m0 17v1m0 1v1m0 1v1m0 8v1M534 176v1m0 3v1m0 49v1m0 54v2m0 25v1m0 3v1m0 2v1m0 11v1m0 1v1M535 177v1m0 17v1m0 1v3m0 25v2m0 3v1m0 9v1m0 9v1m0 16v1m0 11v1m0 3v1m0 4v1m0 4v1m0 24v1M536 242v1m0 23v1m0 4v2m0 9v1m0 10v1m0 3v1m0 2v1M537 141v1m0 1v1m0 42v1m0 1v1m0 9v1m0 12v1m0 2v1m0 9v1m0 4v1m0 1v3m0 16v1m0 3v1m0 5v1m0 6v1m0 3v1m0 1v1m0 8v1m0 7v1m0 3v1m0 18v1m0 6v1m0 2v1m0 2v1m0 8v1M538 212v1m0 17v1m0 11v1m0 10v1m0 6v1m0 1v2m0 5v1m0 2v1m0 1v1m0 4v1m0 15v1m0 7v1M539 203v1m0 41v1m0 15v1m0 31v1m0 5v1M540 154v1m0 19v1m0 5v1m0 6v1m0 2v1m0 2v1m0 1v1m0 1v1m0 10v1m0 7v1m0 2v1m0 2v1m0 7v1m0 6v1m0 10v1m0 14v1m0 3v1m0 6v1m0 2v1m0 4v1m0 16v1m0 2v1m0 9v1m0 52v1M541 182v1m0 44v1m0 49v1m0 1v1m0 8v1m0 13v1m0 10v3M542 156v1m0 46v1m0 9v1m0 7v1m0 12v1m0 1v1m0 1v1m0 6v1m0 13v1m0 3v1m0 2v1m0 1v1m0 2v1m0 11v1m0 8v1m0 2v1m0 13v1m0 2v1m0 1v1M543 173v1m0 31v1m0 17v1m0 2v1m0 1v1m0 1v1m0 7v1m0 5v1m0 1v1m0 3v1m0 4v1m0 4v1m0 6v1m0 7v2m0 5v1m0 1v1M544 161v1m0 3v1m0 8v1m0 2v1m0 1v1m0 6v1m0 4v1m0 6v1m0 1v1m0 5v1m0 66v1m0 7v1m0 4v1m0 9v1m0 1v1m0 4v1m0 4v2M545 129v1m0 6v1m0 24v2m0 5v1m0 12v2m0 8v1m0 1v1m0 1v1m0 2v1m0 3v1m0 36v1m0 13v1m0 3v1m0 29v1m0 8v2m0 1v1m0 4v1m0 1v1m0 4v1M546 177v1m0 17v1m0 1v1m0 4v1m0 14v1m0 8v1m0 1v1m0 5v2m0 10v1m0 2v1m0 7v2m0 2v2m0 4v2m0 3v1m0 2v2m0 16v1M547 172v1m0 1v1m0 22v2m0 15v1m0 18v1m0 9v1m0 9v1m0 28v2m0 18v1m0 6v1m0 17v1M548 93v1m0 97v1m0 14v3m0 2v1m0 21v1m0 29v1m0 9v1m0 6v1m0 10v1m0 2v1m0 4v1m0 1v1m0 4v1m0 3v1m0 16v3m0 8v1m0 26v1M549 190v1m0 16v1m0 9v1m0 3v1m0 4v2m0 1v2m0 12v1m0 5v1m0 18v1m0 2v1m0 2v1m0 9v1m0 19v1M550 214v1m0 1v1m0 9v2m0 1v1m0 5v1m0 20v1m0 8v1m0 10v1M551 172v1m0 1v1m0 4v1m0 1v1m0 4v1m0 2v2m0 14v1m0 11v1m0 13v1m0 47v1m0 4v1M552 191v1m0 4v1m0 6v1m0 2v1m0 2v1m0 6v1m0 2v2m0 7v1m0 7v3m0 1v1m0 9v2m0 3v1m0 18v1m0 2v1M553 175v1m0 5v1m0 16v1m0 23v1m0 4v1m0 12v1m0 34v1m0 8v1" stroke-opacity="0.571"/>
<path d="M103 223v1m0 4v1m0 4v1m0 9v1m0 1v1m0 10v1m0 1v1m0 5v1m0 7v1M104 216v1m0 59v1m0 8v1M106 240v1m0 17v1M107 218v1m0 3v1m0 8v1m0 1v1m0 20v1m0 20v2m0 3v1m0 4v1M108 227v1m0 24v1m0 7v1m0 1v1m0 7v1M109 203v1m0 1v1m0 12v1m0 9v1m0 3v2m0 4v1m0 3v1m0 11v1m0 5v1m0 2v1m0 10v1M110 204v1m0 24v1m0 12v1m0 1v1m0 1v1m0 2v1M111 219v1m0 17v1m0 30v1m0 6v1M112 199v1m0 8v1m0 1v1m0 3v1m0 1v1m0 17v1m0 1v1m0 5v1m0 2v1m0 7v1m0 16v1M113 202v1m0 6v1m0 31v1m0 1v1m0 18v1m0 9v1m0 15v1M114 211v1m0 1v1m0 5v1m0 5v1m0 10v1m0 1v1m0 9v2m0 1v1m0 12v1m0 1v1m0 1v2m0 9v1M115 204v1m0 26v1m0 1v1m0 16v1m0 4v1m0 1v1m0 20v2M116 203v1m0 9v1m0 3v1m0 59v1m0 5v1m0 1v1m0 10v1M117 225v1m0 8v1m0 3v1m0 8v1m0 14v1M118 208v1m0 9v1m0 8v1m0 6v1m0 1v1m0 8v1m0 3v1m0 1v1m0 1v1m0 11v1m0 3v1m0 1v1m0 10v1m0 11v1m0 4v1M119 203v1m0 11v1m0 3v1m0 5v1m0 12v1m0 36v1M120 196v1m0 9v1m0 25v1m0 19v1m0 1v1m0 15v1m0 5v1M160 219v1m0 1v1M161 233v1m0 9v1m0 14v1m0 12v1M162 217v1m0 18v2m0 5v1m0 5v1m0 2v1m0 1v1m0 29v1M163 288v1M164 219v1m0 5v1m0 1v1m0 31v1m0 8v1m0 4v1m0 6v1M165 227v1m0 4v1m0 2v1m0 12v1m0 21v1m0 8v1m0 2v1m0 3v1M166 216v1m0 1v1m0 51v1M167 206v1m0 11v1m0 6v1m0 2v1m0 2v1m0 6v1m0 37v1M168 203v1m0 16v1m0 16v1m0 1v1m0 9v1m0 9v1m0 3v1m0 2v1m0 3v1m0 9v1M170 214v1m0 1v1m0 2v1m0 40v1m0 11v1m0 4v1M171 214v1m0 8v2m0 3v1m0 8v1m0 1v1m0 6v2m0 13v1m0 1v1m0 7v1m0 3v1m0 2v1M172 197v1m0 11v1m0 9v1m0 8v1m0 1v1m0 22v1m0 9v1m0 9v1m0 8v1M173 207v2m0 40v1m0 25v1m0 1v1M174 195v1m0 24v1m0 35v1m0 2v1m0 18v1M175 203v1m0 5v1m0 14v1m0 7v1m0 4v1m0 11v1m0 15v1M176 197v1m0 10v1m0 2v1m0 7v1m0 5v1m0 2v1m0 27v1m0 8v1M177 204v1m0 19v1m0 7v1m0 4v1m0 8v1m0 6v1m0 13v1m0 3v1m0 1v1M178 195v1m0 23v1m0 9v1m0 26v1m0 3v1m0 21v1M179 213v1m0 10v1m0 2v2m0 8v1m0 6v1m0 22v1M180 194v1m0 15v1m0 14v1m0 43v1M181 203v2m0 4v1m0 6v1m0 9v1m0 3v1m0 2v1m0 2v1m0 1v1m0 3v1m0 21v2m0 11v1M182 218v1m0 24v1m0 7v2m0 16v1M183 223v1m0 6v1m0 2v1m0 3v1m0 11v1m0 9v1M184 206v1m0 3v1m0 11v1m0 8v2m0 7v1m0 12v1m0 3v1m0 13v3m0 2v1M185 234v1m0 4v1m0 2v1m0 5v1m0 2v1m0 4v1m0 3v1M186 219v1m0 20v1m0 5v1M188 206v1m0 10v1m0 5v1m0 3v1m0 2v1m0 21v1m0 14v1M189 199v1m0 11v1m0 12v1m0 11v1m0 21v1m0 13v1m0 7v1M190 230v1m0 8v1m0 23v1m0 1v1M191 206v1m0 12v1m0 3v3m0 6v1m0 5v1m0 36v1M235 234v1m0 8v1m0 5v1m0 13v1m0 7v1M236 212v1m0 12v1m0 11v1m0 9v1m0 12v1M237 213v1m0 12v1m0 3v1m0 10v1m0 5v1m0 6v1m0 3v1m0 10v1M238 240v1m0 16v1m0 5v1M239 222v1m0 11v1m0 1v1m0 2v1m0 10v2m0 6v1m0 6v1m0 4v1M240 209v1m0 19v1m0 12v1m0 3v1m0 1v1m0 13v2m0 2v1m0 2v1m0 2v1m0 1v1m0 1v1m0 6v1M241 194v1m0 4v2m0 3v2m0 1v1m0 3v2m0 3v1m0 4v2m0 2v1m0 12v2m0 1v1m0 1v3m0 7v1m0 1v1m0 2v1m0 2v4m0 2v2m0 6v1m0 7v1M242 177v1m0 7v1m0 3v1m0 12v1m0 3v1m0 4v1m0 3v1m0 1v1m0 2v1m0 2v2m0 1v1m0 3v1m0 1v1m0 1v2m0 5v1m0 2v1m0 3v1m0 4v1m0 4v4m0 23v1m0 5v1M243 188v1m0 1v2m0 1v3m0 1v2m0 4v2m0 3v1m0 5v3m0 3v3m0 1v2m0 1v1m0 1v1m0 4v1m0 1v6m0 1v1m0 1v1m0 2v1m0 2v5m0 1v3m0 1v5m0 2v1m0 1v3m0 2v1m0 3v1m0 1v1m0 4v2m0 8v3m0 8v1M244 203v1m0 2v1m0 4v1m0 1v1m0 5v2m0 8v2m0 1v3m0 5v2m0 1v1m0 2v1m0 3v1m0 1v2m0 7v1m0 1v1m0 3v2m0 1v1m0 30v1m0 8v1m0 9v1m0 2v1M245 189v1m0 3v1m0 3v1m0 3v1m0 1v1m0 1v1m0 1v1m0 2v1m0 1v2m0 2v2m0 2v1m0 5v2m0 1v2m0 2v1m0 1v1m0 3v3m0 1v2m0 1v1m0 1v1m0 4v1m0 1v2m0 3v1m0 1v1m0 4v3m0 1v1m0 11v1m0 7v1m0 2v1m0 3v1m0 5v1M246 192v1m0 7v1m0 33v1m0 4v1m0 20v1M247 190v1m0 6v1m0 4v1m0 9v1m0 5v1m0 2v1m0 6v1m0 1v1m0 12v1m0 5v2m0 1v1m0 2v1m0 10v2m0 2v1m0 3v1m0 2v1m0 1v1m0 2v2M248 194v1m0 1v1m0 3v1m0 6v1m0 17v1m0 1v1m0 1v1m0 3v1m0 5v1m0 1v1m0 5v1m0 5v1m0 3v1m0 1v1m0 6v1M249 206v1m0 10v1m0 8v1m0 10v1m0 2v1m0 5v1m0 8v1m0 4v1m0 6v1m0 8v1M250 189v1m0 4v1m0 2v1m0 8v1m0 11v1m0 3v1m0 10v1m0 1v1m0 3v1m0 11v1m0 2v1m0 1v1m0 15v1M251 234v1m0 15v1m0 27v1M252 223v2m0 8v1m0 32v1M253 202v2m0 3v1m0 3v1m0 11v1m0 16v1m0 9v1m0 3v1m0 4v1M254 200v1m0 42v1m0 5v1m0 20v1m0 17v2m0 5v1m0 5v1m0 5v1M454 205v2m0 5v1m0 2v1m0 10v1m0 3v3m0 24v1M455 207v1m0 3v1m0 6v1m0 20v2m0 5v1m0 21v1m0 3v1m0 5v1m0 6v1M456 204v1m0 7v1m0 1v1m0 5v1m0 13v1m0 6v1m0 18v1m0 1v1m0 1v2m0 3v1M457 245v1M458 204v1m0 8v1m0 50v1m0 3v1m0 1v1M459 206v1m0 4v1m0 36v1m0 7v1m0 4v1m0 3v1M460 183v1m0 51v2m0 6v1m0 1v1m0 3v1m0 24v1m0 16v1M461 204v1m0 11v1m0 60v1M462 217v1m0 5v1m0 3v1m0 1v1m0 14v1m0 13v1m0 2v1m0 13v1m0 10v1M463 191v1m0 17v1m0 8v1m0 5v1m0 31v1m0 2v1m0 20v1M464 205v1m0 8v1m0 4v1m0 9v1m0 1v1m0 10v1m0 3v1m0 3v1m0 10v1m0 5v1M465 209v1m0 4v1m0 36v1m0 14v1m0 8v1m0 33v1M466 205v1m0 4v1m0 9v1m0 1v1m0 7v1m0 18v1m0 9v1m0 8v1M467 202v1m0 21v1m0 8v1m0 1v1m0 31v2m0 1v1M468 184v1m0 32v1m0 4v1m0 8v1m0 3v1m0 2v1m0 4v1m0 1v1m0 4v1m0 2v1m0 5v1m0 5v1M469 189v1m0 16v2m0 11v2m0 9v1m0 6v1M470 216v1m0 13v1m0 1v2m0 16v1m0 3v2m0 7v1M471 203v1m0 9v1m0 21v1m0 25v1M472 181v1m0 15v1m0 20v1m0 15v3m0 4v1m0 2v1m0 17v1m0 3v1m0 4v1M473 249v1m0 4v1m0 1v1m0 17v1M474 217v1m0 5v1m0 1v2m0 2v1m0 5v1m0 6v1m0 3v1m0 2v1M475 182v1m0 19v1m0 12v1m0 4v1m0 2v1m0 13v1m0 5v1m0 3v1m0 11v1m0 8v1M476 212v1m0 49v1m0 25v1M477 220v1m0 16v1m0 34v1M478 203v1m0 6v1m0 8v1m0 10v1m0 2v1m0 14v2m0 4v1m0 1v1m0 1v1m0 5v1m0 7v1m0 7v1M479 197v1m0 9v1m0 4v1m0 1v1m0 16v1m0 5v1m0 10v1m0 6v1m0 1v1m0 7v1m0 14v1M480 204v2m0 2v1m0 4v1m0 3v1m0 13v1m0 3v1m0 5v1m0 17v1m0 4v1m0 1v1M481 175v1m0 7v1m0 3v1m0 6v1m0 5v1m0 1v1m0 2v1m0 6v1M482 202v1m0 7v1m0 14v1m0 3v1m0 3v2m0 1v1m0 16v1m0 15v1m0 2v1m0 3v1m0 24v1M483 174v1m0 14v1m0 27v1m0 1v1m0 3v1m0 22v1m0 2v1m0 12v1m0 1v1m0 3v2m0 2v2m0 4v1m0 17v1M484 169v1m0 19v1m0 2v1m0 4v1m0 3v1m0 31v1m0 6v1m0 12v1m0 23v1m0 7v1m0 6v1m0 13v1M485 174v1m0 5v1m0 26v2m0 2v1m0 2v1m0 10v1m0 3v1m0 2v1m0 2v1m0 4v2m0 1v1m0 11v1m0 11v1m0 10v1m0 4v1M486 184v1m0 5v1m0 17v1m0 5v1m0 23v1m0 8v1m0 14v1m0 3v1M487 193v1m0 13v1m0 19v1m0 3v1m0 6v1m0 3v1m0 11v1m0 26v1m0 17v1M527 233v1m0 13v1m0 5v1m0 4v1m0 1v1m0 3v1m0 2v1m0 8v1m0 17v1M528 201v1m0 4v1m0 3v1m0 3v1m0 1v1m0 3v1m0 2v1m0 11v1m0 15v1m0 4v1m0 2v1M529 245v1m0 15v1m0 5v1m0 2v2M530 198v1m0 4v1m0 3v1m0 2v3m0 9v3m0 3v2m0 10v1m0 2v1m0 3v1m0 1v1m0 1v1m0 2v1m0 3v1m0 9v1M531 195v1m0 7v1m0 66v1M532 223v1m0 7v2m0 1v1m0 5v1m0 1v1m0 4v1m0 1v1m0 4v1m0 2v2m0 4v1M533 179v1m0 4v1m0 21v2m0 1v1m0 8v1m0 13v1m0 3v1m0 3v1m0 7v1m0 11v1m0 39v1m0 31v1m0 3v1M534 184v1m0 11v1m0 27v2m0 18v1m0 14v1m0 24v1m0 8v1M535 202v1m0 3v1m0 3v1m0 1v1m0 7v1m0 1v1m0 21v1m0 2v1m0 5v1m0 2v1m0 4v1m0 27v1M536 224v1m0 12v1m0 11v1m0 6v1m0 7v1m0 15v1m0 3v1m0 5v1M537 201v1m0 4v1m0 5v1m0 4v1m0 3v1m0 1v1m0 1v1m0 31v1m0 17v1m0 63v1M538 191v1m0 5v1m0 6v1m0 13v1m0 5v1m0 10v1m0 3v1m0 7v1m0 8v1m0 1v1m0 17v1m0 12v1m0 3v1M539 198v1m0 1v1m0 5v1m0 10v1m0 5v1m0 1v1m0 30v1m0 21v1M540 207v1m0 4v1m0 19v1m0 18v1m0 1v1m0 3v1m0 1v1m0 1v1M541 202v1m0 12v1m0 83v1M542 211v2m0 5v2m0 5v2m0 1v1m0 1v2m0 5v1m0 5v1m0 11v1m0 4v1m0 4v1m0 10v1m0 4v1m0 4v1M543 209v1m0 5v1m0 2v1m0 12v2m0 1v1m0 18v2m0 10v1m0 4v1M544 201v1m0 3v1m0 2v1m0 3v1m0 6v1m0 1v1m0 2v1m0 10v1m0 9v1m0 2v1m0 1v1m0 31v1m0 1v1m0 6v1m0 1v1M545 189v1m0 11v1m0 23v1m0 7v1m0 2v2m0 3v1m0 2v1m0 10v1m0 19v1m0 7v1M546 188v1m0 7v1m0 9v1m0 2v3m0 8v2m0 2v1m0 4v1m0 1v2m0 10v1m0 3v1m0 4v1m0 3v1m0 3v1m0 2v1m0 5v1m0 4v1m0 4v1M547 182v1m0 25v1m0 3v1m0 31v1m0 3v1m0 10v2m0 9v1M548 192v1m0 22v2m0 10v2m0 20v1m0 8v1m0 5v1m0 38v1m0 16v1M549 214v1m0 3v1m0 18v1m0 3v1m0 14v1m0 2v1m0 5v1M550 225v1m0 13v1m0 4v1M551 201v1m0 6v1m0 17v1m0 7v1m0 3v1m0 12v1m0 1v1m0 4v1m0 9v1M552 198v1m0 5v1m0 5v1m0 2v1m0 18v1m0 12v3m0 4v1m0 9v1M553 195v1m0 7v1m0 3v1m0 24v1m0 6v1" stroke-opacity="0.621"/>
<path d="M103 219v1m0 10v1m0 6v1m0 13v1m0 34v1M104 212v1m0 11v1m0 40v1m0 15v1M105 222v1M106 204v1m0 12v1m0 18v1m0 5v1m0 3v1m0 9v1m0 3v1m0 2v1m0 2v1m0 2v1m0 1v1m0 12v1M107 219v1m0 23v1m0 1v1m0 3v1m0 7v2m0 6v1m0 1v1m0 5v1M108 211v1m0 10v1m0 7v1m0 3v1m0 1v1m0 13v1m0 5v1m0 7v1m0 12v1M109 210v1m0 11v1m0 22v1m0 9v1m0 9v1m0 3v1M110 211v2m0 1v1m0 8v1m0 15v1m0 35v1M111 203v1m0 8v1m0 14v1m0 15v1m0 4v1m0 10v1M112 198v1m0 14v1m0 9v1m0 5v1m0 14v1m0 3v1m0 1v1m0 4v1m0 1v1m0 5v1m0 1v1m0 6v1M113 208v1m0 14v1m0 13v1m0 7v1m0 14v1m0 6v1m0 5v1m0 3v1M114 220v1m0 2v1m0 56v1M115 205v1m0 7v1m0 7v1m0 21v2m0 2v2m0 2v1m0 1v1m0 6v1m0 1v1m0 1v1m0 6v2m0 2v1m0 9v1m0 42v1M117 253v1M118 207v1m0 22v1m0 2v1m0 1v1m0 11v1m0 7v1m0 6v2m0 4v1m0 9v1m0 2v1M119 207v1m0 15v1m0 11v1m0 7v1m0 2v1m0 10v1m0 5v1m0 7v1m0 17v1M120 214v1m0 35v1m0 4v1m0 4v1M160 225v1m0 28v1m0 6v1m0 13v1m0 3v1M161 222v1m0 7v1m0 9v1m0 19v1m0 11v1M162 218v1m0 3v2m0 36v1m0 7v1m0 14v1M163 221v1m0 9v2m0 8v1m0 14v1M164 212v1m0 9v1m0 7v1m0 6v1m0 5v1m0 5v1M165 283v1M166 220v1M167 229v1m0 5v1m0 7v1m0 4v1m0 4v1m0 6v1m0 3v1m0 2v1m0 5v1m0 5v1M168 241v1m0 13v1M169 256v1M170 206v1m0 2v1m0 36v1m0 8v1m0 22v1M171 198v1m0 6v1m0 6v1m0 7v1m0 12v1m0 11v1m0 3v1m0 2v1m0 6v1m0 7v3m0 3v1m0 5v1M172 203v1m0 1v1m0 5v1m0 9v1m0 17v1m0 8v2m0 1v1m0 6v1m0 1v1m0 4v1M173 202v1m0 11v2m0 1v1m0 16v1m0 9v2m0 9v2m0 1v2m0 1v1m0 3v1m0 4v1M174 196v1m0 21v1m0 16v1m0 8v1m0 3v1m0 13v1m0 5v1M175 202v1m0 11v1m0 2v2m0 4v1m0 5v1m0 17v1m0 14v1m0 6v2M176 215v1m0 11v1m0 6v1m0 1v1m0 6v1m0 11v1m0 2v1m0 4v1m0 4v2m0 8v1m0 10v1M177 192v1m0 16v1m0 10v1m0 23v1m0 7v1m0 6v1m0 17v1M178 213v1m0 1v1m0 7v1m0 10v1m0 3v1m0 8v1m0 9v1m0 8v1M179 206v1m0 26v1m0 6v1m0 2v1M180 190v1m0 10v1m0 51v1m0 2v1m0 11v1M181 207v1m0 70v1M182 208v1m0 4v1m0 10v1m0 19v1m0 3v1m0 24v1m0 1v1m0 20v1M183 213v1m0 3v1m0 21v1m0 3v1m0 16v1m0 8v1M184 254v1m0 4v1M185 254v1M186 221v1m0 10v1m0 9v1m0 13v1M187 215v1m0 41v1M188 207v1m0 4v1m0 18v1m0 4v2m0 9v1m0 11v1m0 19v1M189 198v1m0 9v1m0 4v1m0 2v1m0 6v1m0 1v1m0 1v1m0 4v2m0 5v1m0 6v1m0 9v1m0 13v2M190 186v1m0 31v1m0 3v1m0 3v1m0 26v1m0 4v1m0 9v1m0 7v1M191 208v1m0 20v1m0 29v1m0 4v1m0 5v1M235 205v1m0 5v1m0 8v1m0 1v1m0 16v1m0 4v1m0 1v1m0 1v1m0 4v1m0 15v1m0 6v1m0 1v1m0 3v1m0 21v1M236 205v1m0 25v1m0 35v1M237 240v1m0 15v1M238 221v1m0 10v1m0 19v1m0 2v1M239 244v2m0 46v1M240 221v1m0 11v1m0 6v1m0 2v1m0 3v1m0 1v1m0 8v1m0 6v1m0 1v2m0 6v1m0 8v1M241 197v2m0 4v1m0 5v2m0 2v1m0 1v1m0 1v1m0 1v1m0 3v2m0 3v3m0 1v1m0 7v1m0 1v1m0 5v2m0 1v2m0 1v1m0 2v1m0 1v1m0 5v1m0 4v1m0 5v1m0 10v1M242 186v1m0 1v1m0 8v1m0 2v2m0 1v1m0 1v1m0 4v1m0 1v1m0 5v1m0 8v1m0 1v1m0 1v1m0 4v3m0 4v1m0 6v2m0 3v3m0 4v1m0 2v2m0 10v2m0 4v1M243 202v1m0 3v1m0 4v1m0 6v1m0 9v1m0 3v1m0 9v1m0 4v1m0 1v1m0 16v2m0 5v1m0 2v1m0 3v1m0 2v1m0 5v1m0 1v1m0 13v1m0 4v1m0 8v1m0 1v1M244 194v1m0 1v1m0 4v1m0 5v1m0 1v2m0 1v1m0 2v1m0 6v1m0 4v1m0 3v1m0 3v4m0 3v1m0 5v1m0 7v1m0 1v2m0 2v1m0 8v3m0 3v2m0 24v1m0 7v1m0 4v1M245 206v1m0 7v1m0 3v2m0 1v1m0 1v1m0 1v1m0 6v1m0 3v1m0 12v2m0 1v1m0 6v1m0 3v2m0 15v1m0 14v1m0 4v1M246 199v1m0 7v1m0 23v1m0 4v1m0 13v1m0 12v1m0 9v1m0 2v1m0 2v2M247 201v1m0 4v1m0 12v1m0 2v1m0 2v1m0 15v1m0 6v1m0 9v2m0 2v1m0 1v1m0 4v1m0 2v1M248 181v1m0 19v1m0 3v1m0 7v1m0 7v1m0 24v1m0 2v1m0 18v1M249 199v1m0 8v1m0 14v2m0 13v1m0 9v1m0 1v1m0 7v1M250 195v1m0 17v1m0 2v1m0 2v2m0 3v1m0 7v1m0 16v1m0 12v1m0 3v1m0 2v1M251 207v1m0 5v1m0 2v1m0 14v1m0 11v1m0 8v1m0 10v1m0 4v1m0 7v1m0 106v1M253 206v1m0 3v1m0 3v1m0 1v1m0 1v1m0 8v2m0 15v1m0 13v1m0 7v1m0 1v1m0 20v1M254 198v1M454 214v1m0 3v1m0 4v1m0 19v1m0 6v1m0 4v1M455 205v1m0 7v1m0 9v1m0 7v1m0 4v1m0 5v1m0 10v1m0 1v1M456 206v1M457 201v1m0 19v1m0 5v1m0 5v1m0 3v1m0 19v1m0 11v1M458 199v1m0 20v1m0 12v1m0 1v1m0 6v1m0 14v1M459 212v1m0 2v1m0 22v1m0 2v1m0 4v1m0 4v1M460 174v1m0 1v1m0 19v1m0 22v1m0 10v2m0 6v1m0 1v1m0 3v1m0 1v1m0 11v1m0 1v1m0 4v2m0 8v1m0 1v1m0 11v1m0 12v1M461 228v1m0 33v1m0 2v1m0 9v1M462 228v1m0 14v1M463 187v1m0 35v1m0 1v1m0 1v1m0 2v1m0 1v2m0 1v1m0 3v1m0 3v2m0 1v1m0 1v1m0 14v1m0 5v1M464 208v1m0 13v1m0 2v1m0 7v1m0 4v1m0 1v1m0 17v2m0 3v1M465 205v1m0 12v1m0 5v1m0 16v1m0 2v1m0 8v1m0 8v1m0 17v1m0 27v1M466 217v1m0 5v1m0 16v1M467 205v1m0 3v1m0 11v1m0 1v1m0 14v1m0 1v2m0 7v1m0 5v1m0 1v1m0 4v2m0 8v1M468 183v1m0 5v1m0 18v1m0 5v1m0 4v1m0 14v1m0 17v1m0 8v1m0 8v1M469 197v1m0 7v1m0 8v2m0 7v1m0 3v1m0 1v1m0 3v3m0 9v1m0 1v1m0 1v1m0 7v1M470 196v1m0 3v1m0 4v1m0 7v1m0 1v1m0 4v1m0 3v1m0 3v2m0 4v1m0 3v1m0 4v2m0 1v1m0 4v2M471 178v1m0 2v1m0 29v1m0 11v1m0 4v1m0 12v1m0 1v1m0 3v1m0 2v1m0 11v1m0 1v1m0 1v1M472 187v1m0 27v1m0 5v1m0 23v1m0 14v1m0 12v1M473 232v1m0 1v1m0 5v1M474 202v1m0 1v1m0 2v1m0 6v1m0 4v1m0 2v1m0 21v1m0 12v2m0 7v2M475 190v1m0 22v2m0 6v1m0 5v1m0 1v2m0 3v1m0 13v1m0 11v1m0 11v1m0 6v2m0 3v1M476 210v1m0 44v1m0 3v1M477 202v1m0 58v2m0 5v1M478 205v1m0 6v1m0 8v1m0 10v1m0 2v2m0 6v1m0 13v1m0 11v1m0 16v1M479 215v2m0 6v1m0 10v1m0 6v1m0 10v1m0 5v1m0 3v1M480 187v1m0 14v1m0 6v1m0 23v1m0 6v1m0 31v1M481 211v1m0 18v1m0 3v1m0 24v1M482 209v1m0 7v1m0 13v1m0 6v2m0 4v1M483 170v1m0 28v1m0 9v1m0 1v1m0 20v1m0 5v1m0 11v1m0 1v1m0 27v1M484 194v1m0 3v1m0 3v1m0 1v2m0 9v1m0 7v1m0 2v1m0 1v1m0 7v1m0 19v1m0 9v1m0 3v1m0 7v1m0 2v1M485 184v1m0 13v1m0 5v1m0 1v1m0 9v1m0 1v1m0 11v1m0 6v1m0 10v1m0 5v1m0 1v1m0 5v1m0 45v1M486 199v1m0 6v1m0 17v1m0 6v1m0 1v1m0 7v1m0 3v1m0 19v1m0 4v1m0 6v1M487 194v1m0 5v2m0 46v1m0 12v2M527 208v1m0 3v2m0 7v2m0 3v1m0 2v2m0 14v1m0 17v1m0 31v1M528 211v1m0 5v2m0 13v1m0 10v1m0 5v1m0 7v1m0 8v1m0 5v1M529 198v1m0 16v1m0 36v1m0 16v1M530 215v1m0 3v2m0 6v1m0 10v1m0 9v1m0 4v1m0 6v2M531 184v1m0 8v1m0 12v1m0 29v1m0 4v1m0 8v1M532 211v1m0 1v1m0 4v1m0 7v1m0 18v1m0 19v1M533 193v1m0 6v1m0 2v1m0 11v1m0 1v1m0 5v2m0 1v1m0 4v1m0 5v2m0 4v1m0 12v2m0 3v1m0 3v1m0 3v2m0 4v1m0 1v1m0 12v2m0 6v1m0 2v1m0 24v1M534 203v1m0 14v2m0 1v1m0 6v1m0 6v2m0 14v1m0 1v1m0 6v1m0 1v1m0 5v1m0 5v1m0 24v1M535 205v1m0 8v1m0 2v1m0 5v1m0 4v1m0 3v1m0 1v1m0 6v1m0 15v1m0 4v1m0 3v1m0 1v1m0 7v1m0 19v1M536 218v1m0 29v1m0 20v1M537 202v2m0 1v1m0 10v1m0 1v1m0 8v1m0 16v1m0 2v1m0 1v1m0 2v1m0 8v1M538 201v1m0 7v1m0 5v1m0 12v1m0 4v1m0 17v2M539 192v1m0 9v1m0 7v2m0 19v1m0 3v1m0 19v1m0 6v1m0 6v1m0 1v1M540 181v1m0 22v1m0 4v1m0 4v1m0 14v1m0 5v1m0 4v1m0 1v1m0 2v1m0 8v2m0 2v1m0 6v1m0 6v1m0 3v1m0 21v1M541 205v1m0 19v1m0 26v1m0 1v1m0 8v1m0 7v1M542 207v1m0 14v1m0 10v1m0 14v1m0 12v1M543 219v2m0 3v1m0 14v1m0 2v1m0 6v1m0 1v1m0 12v1m0 6v1m0 5v1M544 187v1m0 22v1m0 5v1m0 12v1m0 10v1m0 11v1m0 1v1m0 5v2m0 6v1M545 190v1m0 16v1m0 4v1m0 4v1m0 44v1m0 2v1m0 2v1M546 208v1m0 6v1m0 21v1m0 6v2m0 20v1M547 200v1m0 16v1m0 1v1m0 4v1m0 4v1m0 10v1m0 1v1m0 3v2m0 3v1m0 3v2m0 11v1m0 3v1m0 55v1M548 202v1m0 17v1m0 17v1M549 247v1M550 215v1m0 2v1m0 1v1m0 27v1m0 11v2M551 199v1m0 6v1m0 14v1M552 215v1m0 17v1m0 39v1M553 218v1m0 27v1m0 14v1" stroke-opacity="0.665"/>
<path d="M103 207v2m0 2v1m0 17v1m0 10v1m0 11v1m0 9v1m0 3v2m0 1v1m0 3v2m0 2v1M104 232v1m0 1v1m0 14v1m0 13v1m0 8v1m0 21v1M106 203v1m0 6v1m0 10v1m0 1v3m0 1v1m0 2v2m0 11v1m0 1v1m0 1v2m0 2v2m0 2v1m0 8v2m0 1v1m0 4v1m0 6v1M107 223v1m0 2v1m0 1v1m0 7v1m0 16v1m0 1v1m0 7v1m0 10v1M108 208v1m0 10v1m0 18v2m0 2v1m0 4v1m0 13v1m0 7v1M109 216v1m0 2v1m0 5v1m0 3v1m0 13v2m0 8v1m0 4v1M110 194v1m0 18v1m0 2v1m0 8v1m0 1v1m0 12v1m0 12v1m0 16v1M111 223v1m0 22v1m0 8v1m0 9v1m0 1v1m0 1v2M112 211v1m0 6v1m0 2v1m0 2v2m0 2v1m0 1v1m0 7v1m0 7v2m0 10v2m0 9v1m0 7v1M113 215v1m0 4v1m0 6v1m0 1v1m0 9v1m0 10v1m0 7v1m0 21v2M114 206v1m0 19v1m0 1v1m0 3v1m0 10v1m0 2v2m0 11v2m0 1v1m0 4v1m0 2v1m0 6v2m0 10v1M115 125v1m0 59v1m0 7v1m0 4v1m0 3v1m0 3v1m0 1v1m0 2v1m0 8v1m0 5v1m0 8v1m0 2v2m0 6v1m0 5v1m0 12v1m0 4v1m0 11v1m0 14v1M116 211v1m0 15v1m0 6v1m0 10v1m0 1v1m0 3v1m0 10v1m0 27v1M117 228v1m0 4v1m0 12v1m0 14v1M118 212v2m0 2v1m0 4v1m0 6v2m0 11v1m0 6v1m0 8v4m0 5v1m0 6v2m0 4v1M119 204v2m0 5v1m0 5v1m0 3v1m0 2v1m0 4v1m0 10v1m0 20v1m0 2v1m0 3v1m0 4v1m0 3v1M120 212v1m0 3v1m0 19v1m0 6v1m0 18v1m0 1v1M160 215v1m0 11v1m0 6v1m0 2v1m0 3v1m0 8v1m0 1v1m0 3v1m0 10v1m0 3v1m0 24v1M161 234v2m0 2v1m0 20v1m0 1v1m0 5v1M162 220v1m0 6v1m0 2v1m0 10v1m0 11v1m0 1v1m0 7v1m0 9v1M163 206v1m0 4v1m0 1v1m0 14v1m0 9v1m0 3v1m0 6v1m0 16v1m0 20v1m0 1v1M164 215v2m0 35v1m0 24v1M165 217v1m0 1v2m0 4v1m0 5v1m0 8v1m0 4v2m0 7v1m0 2v1m0 2v1m0 6v1m0 3v1M166 200v1m0 42v1m0 4v1m0 6v1m0 1v1m0 1v1m0 11v1m0 2v2m0 3v1M167 194v1m0 8v1m0 13v1m0 4v1m0 7v1m0 52v1m0 1v1M168 216v1m0 4v1m0 20v1m0 26v1m0 17v1M169 229v1M170 205v1m0 4v1m0 6v1m0 3v2m0 6v1m0 1v1m0 6v1m0 2v1m0 10v1m0 4v2m0 7v1m0 1v1m0 7v1m0 8v1M171 197v1m0 12v1m0 5v1m0 4v1m0 5v1m0 4v1m0 10v2m0 21v1m0 3v1m0 1v1m0 3v1M172 196v1m0 5v1m0 10v2m0 1v1m0 6v1m0 1v2m0 4v1m0 2v1m0 8v1m0 1v1m0 4v1m0 11v1m0 7v1m0 12v1M173 209v1m0 18v3m0 5v1m0 3v2m0 10v2m0 3v1m0 5v2m0 2v1m0 4v1m0 3v1m0 5v1M174 204v1m0 7v1m0 14v1m0 21v1m0 17v1m0 1v1m0 6v1M175 205v1m0 2v1m0 13v1m0 11v1m0 19v1m0 5v1m0 6v2M176 161v1m0 8v1m0 9v1m0 15v1m0 1v1m0 11v1m0 7v1m0 22v1m0 3v2m0 1v2m0 1v1m0 12v1m0 15v1m0 1v1m0 4v1m0 83v1M177 202v1m0 4v2m0 9v1m0 2v2m0 3v1m0 2v3m0 2v1m0 1v1m0 12v1m0 1v1m0 4v1m0 5v1m0 2v1M178 210v1m0 14v1m0 11v1m0 5v1m0 5v1m0 29v1M179 223v1m0 14v1m0 10v1M180 193v1m0 6v1m0 12v1m0 1v1m0 5v1m0 5v3m0 13v1m0 3v1m0 2v1m0 26v2M181 248v1m0 7v1M182 198v1m0 12v1m0 2v2m0 7v1m0 32v1m0 8v2m0 3v3m0 28v1m0 11v1m0 8v1m0 7v1m0 30v1M183 209v1m0 8v1m0 6v2m0 1v1m0 6v1m0 5v1m0 5v1m0 17v2m0 7v1M184 207v1m0 11v1m0 4v1m0 8v1m0 2v1m0 6v1m0 11v1m0 11v1M185 225v1m0 5v1m0 8v1m0 11v1m0 9v2m0 4v1M186 236v1m0 4v1m0 3v1m0 6v1m0 2v1m0 14v1m0 2v2M187 262v1m0 10v1M188 215v2m0 3v1m0 13v1m0 4v1m0 3v1m0 5v1m0 4v3m0 8v1m0 2v1m0 4v2M189 221v1m0 4v1m0 7v1m0 3v1m0 21v1m0 5v1M190 197v1m0 4v1m0 7v1m0 1v2m0 1v1m0 11v1m0 7v1m0 1v1m0 2v1m0 1v1m0 4v1m0 8v2m0 1v1m0 12v1M191 203v1m0 7v1m0 29v1m0 14v1m0 24v1M235 180v1m0 17v1m0 62v1m0 2v1m0 28v1M236 213v1m0 1v1m0 8v1m0 34v1m0 2v1m0 3v1m0 1v1m0 5v1M237 217v1m0 10v1m0 2v1M238 226v1m0 10v1m0 1v1m0 4v1m0 5v1m0 10v1m0 2v1m0 5v1m0 14v1M239 220v1m0 28v1m0 6v1m0 5v1m0 4v2m0 5v1m0 5v2m0 22v2m0 14v1m0 15v1M240 176v1m0 17v1m0 13v1m0 28v1m0 6v2m0 10v1m0 54v1M241 184v1m0 11v1m0 4v2m0 3v1m0 11v1m0 7v2m0 3v1m0 3v2m0 13v1m0 15v1m0 2v1m0 1v4m0 2v2m0 5v1m0 4v1m0 1v1m0 2v1M242 182v1m0 10v4m0 1v1m0 5v1m0 4v1m0 6v1m0 2v1m0 1v2m0 2v1m0 2v1m0 10v1m0 7v1m0 1v1m0 2v1m0 16v1m0 2v1m0 7v1m0 1v1m0 4v1m0 17v2M243 186v1m0 2v1m0 2v1m0 8v1m0 3v1m0 7v1m0 30v1m0 5v1m0 9v1m0 21v1m0 1v1m0 3v1m0 3v1m0 6v2m0 17v1m0 1v1M244 178v1m0 5v1m0 6v1m0 1v1m0 4v1m0 1v1m0 1v1m0 2v1m0 2v1m0 8v1m0 3v1m0 4v1m0 1v1m0 16v1m0 8v2m0 13v1m0 4v2m0 18v1m0 2v1m0 26v1M245 199v1m0 2v1m0 1v1m0 26v1m0 5v2m0 3v1m0 2v1m0 8v1m0 6v1m0 11v1m0 1v1m0 9v1m0 3v2M246 198v1m0 4v1m0 10v1m0 4v1m0 1v1m0 3v1m0 12v1m0 3v1m0 3v1m0 4v1m0 2v1m0 1v2m0 7v1m0 1v1m0 2v1m0 42v1m0 15v1M247 194v1m0 15v2m0 3v1m0 16v1m0 20v1m0 32v1M248 190v1m0 7v1m0 7v1m0 2v1m0 2v1m0 2v1m0 2v2m0 15v1m0 42v1M249 198v1m0 3v1m0 1v1m0 6v2m0 8v2m0 8v1m0 2v1m0 7v1m0 10v2m0 6v1m0 7v2M250 203v1m0 5v1m0 4v1m0 2v1m0 10v1m0 1v1m0 5v1m0 1v1m0 1v1m0 1v1m0 5v1m0 22v1M251 91v1m0 50v1m0 39v1m0 10v1m0 29v1m0 5v1m0 2v1m0 9v1m0 21v1m0 12v1m0 20v1m0 23v1m0 2v1M252 263v1M253 198v1m0 2v1m0 20v1m0 2v1m0 3v1m0 5v1m0 2v1m0 3v1m0 2v1m0 16v1m0 14v1m0 8v1m0 19v2M254 199v1m0 6v1m0 24v1m0 14v1m0 8v1m0 11v1m0 12v1m0 6v1m0 23v1M454 167v1m0 9v1m0 26v1m0 5v2m0 33v1m0 5v1m0 4v1m0 8v1m0 1v1m0 6v1m0 18v1M455 171v1m0 9v1m0 18v1m0 44v1m0 2v1m0 12v1m0 5v1M456 237v2M457 202v1m0 2v1m0 6v1m0 9v1m0 15v1m0 8v1m0 6v1m0 11v1m0 1v1M458 222v2m0 16v1m0 5v2m0 2v1m0 8v1m0 18v1m0 4v1M459 243v1m0 6v1m0 8v1M460 192v1m0 10v1m0 4v1m0 6v1m0 1v1m0 3v1m0 2v1m0 1v1m0 5v2m0 16v1m0 1v1m0 1v3m0 5v1m0 29v1m0 11v1m0 4v1m0 10v1m0 12v1M461 212v1m0 32v1m0 1v1m0 2v1m0 1v1m0 16v1m0 1v1m0 15v1M462 214v1m0 30v1m0 41v1M463 160v1m0 24v1m0 4v1m0 6v1m0 8v3m0 17v1m0 1v1m0 16v1m0 1v1m0 7v1m0 2v1m0 1v1m0 18v1M464 204v1m0 1v2m0 3v3m0 1v2m0 4v1m0 1v1m0 30v1m0 7v1m0 5v1m0 7v1M465 220v1m0 16v1m0 5v1m0 1v1m0 31v1m0 14v1m0 17v1m0 5v1M466 219v1m0 6v1m0 5v1m0 12v1m0 28v1m0 29v1m0 7v1M467 181v1m0 9v1m0 16v1m0 2v1m0 2v2m0 9v1m0 6v1m0 11v2m0 1v1m0 5v1m0 22v1m0 5v1M468 178v1m0 6v1m0 2v1m0 4v2m0 3v2m0 1v1m0 9v1m0 1v1m0 10v1m0 7v1m0 23v1m0 12v1m0 19v1M469 191v1m0 7v1m0 8v1m0 13v1m0 1v1m0 3v1m0 3v1m0 7v1m0 3v1m0 16v1m0 3v1m0 3v1M470 204v1m0 6v1m0 2v1m0 16v1m0 3v3m0 3v2m0 10v1m0 4v1m0 2v1m0 2v1m0 10v1m0 27v1M471 172v1m0 1v1m0 13v1m0 4v1m0 7v1m0 2v4m0 1v1m0 10v1m0 1v1m0 10v1m0 3v1m0 4v1m0 5v2m0 2v1m0 6v1m0 10v1M472 185v1m0 6v1m0 8v1m0 1v1m0 1v1m0 3v1m0 20v1m0 9v1m0 7v1m0 2v1m0 6v1m0 31v1m0 17v1M473 205v1m0 17v1m0 7v1m0 16v1m0 4v1M474 169v1m0 11v1m0 9v1m0 7v1m0 10v2m0 1v1m0 6v1m0 15v1m0 1v1m0 2v1m0 11v1m0 2v1m0 8v1m0 4v1m0 23v1M475 163v1m0 19v1m0 8v2m0 11v2m0 3v1m0 7v1m0 6v1m0 12v1m0 1v2m0 2v1m0 9v1m0 1v1m0 4v3m0 5v1m0 1v1m0 2v1m0 2v1M476 208v1m0 11v1m0 3v1m0 2v1m0 11v1m0 17v1m0 6v1m0 5v1m0 6v1m0 18v1M477 214v1m0 10v1m0 57v1M478 181v1m0 25v3m0 4v1m0 8v2m0 13v1m0 1v1m0 3v1m0 1v1m0 3v2m0 8v2m0 4v1m0 16v1m0 6v1m0 35v1M479 201v1m0 7v1m0 1v1m0 5v2m0 2v2m0 4v2m0 3v1m0 3v1m0 1v3m0 8v1m0 13v1m0 3v2m0 3v2m0 2v1m0 10v1M480 153v1m0 34v1m0 7v1m0 10v1m0 8v1m0 3v1m0 1v1m0 2v1m0 1v1m0 10v2m0 3v2m0 4v1m0 2v2m0 9v1m0 1v1m0 1v1M481 181v1m0 21v1m0 3v1m0 1v1m0 7v1m0 8v1m0 16v2m0 6v1m0 9v1m0 14v1m0 10v1m0 8v1M482 181v1m0 5v1m0 5v1m0 25v1m0 6v1m0 13v1m0 4v2m0 5v1m0 11v1m0 12v1M483 175v1m0 4v2m0 15v1m0 3v1m0 5v1m0 4v1m0 2v1m0 5v1m0 2v1m0 2v2m0 5v1m0 4v1m0 11v1m0 2v3m0 1v2m0 3v1m0 3v1m0 3v1m0 9v1m0 8v1m0 4v1m0 73v1M484 162v1m0 13v1m0 29v1m0 2v1m0 3v1m0 4v1m0 8v1m0 2v1m0 10v1m0 5v2m0 2v1m0 3v1m0 1v1m0 4v2m0 4v1m0 4v1m0 2v1m0 7v1m0 26v1M485 178v1m0 15v1m0 5v1m0 2v1m0 13v1m0 1v1m0 6v1m0 12v1m0 2v1m0 4v1m0 1v1m0 3v1m0 3v2m0 2v1m0 19v1M486 146v1m0 25v1m0 7v1m0 14v1m0 15v3m0 1v1m0 19v1m0 13v1m0 8v2m0 3v1m0 16v1m0 2v1m0 3v1m0 6v1m0 5v1m0 10v1m0 1v1m0 3v1m0 37v1M487 215v1m0 20v1m0 15v1m0 2v1m0 1v1m0 19v1m0 2v1M527 194v1m0 3v1m0 17v1m0 2v2m0 10v1m0 6v1m0 5v1m0 4v1m0 11v1m0 4v1m0 4v1m0 5v1m0 2v1m0 2v1m0 5v1m0 2v1m0 5v1m0 2v1m0 1v1M528 200v1m0 6v1m0 1v1m0 3v1m0 1v1m0 6v1m0 3v1m0 4v1m0 1v2m0 2v2m0 8v1m0 7v1m0 7v1m0 4v2m0 3v1M529 206v1m0 10v1m0 2v1m0 4v1m0 1v1m0 6v1m0 8v1m0 2v1m0 2v1m0 6v2m0 2v1m0 5v1M530 217v1m0 8v1m0 6v1m0 11v1m0 6v1M531 145v1m0 16v1m0 20v1m0 6v1m0 8v1m0 21v1m0 1v1m0 1v1m0 19v1m0 2v1m0 16v1m0 31v1m0 18v1M532 201v1m0 17v1m0 17v1m0 6v1m0 1v1M533 180v1m0 11v1m0 3v1m0 5v1m0 1v1m0 3v1m0 3v2m0 2v1m0 3v1m0 1v1m0 6v1m0 3v1m0 17v4m0 3v1m0 12v2m0 3v1m0 4v1m0 2v1m0 3v1m0 6v1m0 3v1m0 6v1m0 4v1m0 5v1m0 7v1m0 7v1M534 193v1m0 3v1m0 2v2m0 3v2m0 3v1m0 1v1m0 2v1m0 7v1m0 10v1m0 3v1m0 4v1m0 2v3m0 5v2m0 2v1m0 14v1m0 1v1m0 4v1m0 6v3m0 7v1M535 200v1m0 6v1m0 5v1m0 15v1m0 3v1m0 2v1m0 1v2m0 12v1m0 5v2m0 4v1m0 8v1M536 202v2m0 8v1m0 7v1m0 15v1m0 8v1m0 9v1m0 2v1m0 9v1m0 5v1m0 1v1m0 2v1M537 142v1m0 44v1m0 20v1m0 4v1m0 6v1m0 7v1m0 5v1m0 1v1m0 2v1m0 6v1m0 8v1m0 2v1m0 4v2m0 38v1m0 36v1M538 199v2m0 10v1m0 8v2m0 3v1m0 8v1m0 2v1m0 2v1m0 3v1m0 4v1m0 4v1m0 10v1m0 2v1m0 30v1M539 201v1m0 3v1m0 2v1m0 12v1m0 5v1m0 5v1m0 2v1m0 1v3m0 1v2m0 2v1m0 3v1m0 1v1m0 4v2m0 1v1m0 5v1m0 5v1m0 4v1m0 24v1M540 191v1m0 7v1m0 6v1m0 8v1m0 1v1m0 7v2m0 1v1m0 5v1m0 4v1m0 1v1m0 5v1m0 2v1m0 11v1m0 3v1m0 6v1m0 9v1M541 156v1m0 46v1m0 9v1m0 4v1m0 2v1m0 8v1m0 1v1m0 8v1m0 7v1m0 6v1m0 3v1m0 5v1m0 1v1m0 13v1m0 13v1m0 9v1M542 173v1m0 42v1m0 15v1m0 7v1m0 31v1m0 9v1m0 5v1M543 196v1m0 4v1m0 8v1m0 1v1m0 3v1m0 5v1m0 20v1m0 3v1m0 8v2m0 1v1m0 2v2m0 4v1M544 158v1m0 3v1m0 13v1m0 3v1m0 1v1m0 5v1m0 3v1m0 3v1m0 5v1m0 12v1m0 1v1m0 2v1m0 5v1m0 3v1m0 1v1m0 1v1m0 8v1m0 3v1m0 10v1m0 5v1m0 1v1m0 2v1m0 2v1m0 1v2m0 4v1m0 20v1m0 4v1m0 3v1M545 199v2m0 3v1m0 11v1m0 1v1m0 3v1m0 4v1m0 6v1m0 11v1m0 12v1m0 11v1m0 1v1m0 7v1M546 172v1m0 18v1m0 11v1m0 8v1m0 5v2m0 5v1m0 10v1m0 11v1m0 1v1m0 2v1m0 16v1m0 9v1M547 93v1m0 112v1m0 15v2m0 8v1m0 3v1m0 2v1m0 1v1m0 10v1m0 9v1m0 4v1m0 5v1m0 1v1m0 15v1m0 7v1m0 6v1m0 58v1M548 234v2m0 8v1m0 16v1m0 13v1m0 5v1m0 2v1m0 19v1M549 215v1M550 221v1m0 12v1m0 8v1M551 178v1m0 8v1m0 3v1m0 18v1m0 1v1m0 6v1m0 8v1m0 10v1m0 19v1m0 25v1M552 214v1m0 7v2m0 5v2m0 4v1m0 24v1M553 194v1m0 30v2m0 1v1m0 16v1m0 10v1m0 11v1" stroke-opacity="0.707"/>
<path d="M103 192v1m0 25v1m0 13v1m0 1v1m0 4v1m0 2v1m0 4v1m0 9v1m0 17v1M104 204v1m0 6v1m0 10v1m0 38v1M106 197v1m0 9v1m0 1v1m0 8v1m0 14v2m0 2v1m0 21v1m0 28v1m0 11v1M107 221v1m0 2v2m0 1v1m0 1v2m0 3v1m0 3v1m0 2v1m0 14v1m0 5v1m0 5v1m0 2v1m0 5v1m0 1v1m0 2v1M108 220v1m0 5v1m0 4v1m0 11v1m0 2v1m0 1v1m0 4v1m0 12v1m0 1v1m0 2v1M109 192v1m0 22v1m0 8v1m0 2v1m0 3v1m0 3v1m0 5v1m0 4v1m0 9v1M110 201v1m0 24v1m0 30v1m0 5v1m0 2v4m0 9v1m0 9v1M111 211v1m0 4v1m0 17v1m0 12v1m0 24v1m0 1v1M112 192v1m0 7v1m0 26v1m0 4v1m0 7v1m0 23v1M113 198v1m0 4v1m0 2v1m0 5v1m0 9v1m0 1v1m0 1v1m0 4v1m0 20v1m0 1v1m0 6v1m0 1v1m0 6v1m0 7v1M114 201v1m0 25v1m0 37v1M115 137v1m0 50v1m0 20v1m0 15v1m0 15v1m0 7v1m0 18v1m0 18v1m0 8v1m0 1v1m0 14v1m0 19v1m0 3v1m0 11v1m0 22v1M116 183v1m0 25v1m0 8v2m0 4v1m0 14v1m0 21v1m0 17v1m0 25v1M118 204v1m0 12v1m0 2v1m0 11v1m0 4v1m0 6v1m0 1v1m0 9v1m0 13v1m0 1v1M119 209v1m0 34v1m0 5v2m0 6v2m0 9v1m0 4v1m0 4v1m0 2v1m0 47v1m0 2v1m0 32v1m0 1v1m0 5v1M120 179v1m0 7v1m0 17v1m0 12v1m0 27v1m0 40v1M160 165v1m0 13v1m0 32v1m0 11v1m0 1v1m0 20v1m0 22v1m0 9v1m0 22v1M161 203v1m0 16v1m0 20v1m0 23v1M162 149v1m0 81v1m0 8v1m0 18v1m0 12v1M163 201v1m0 17v1m0 5v1m0 26v1m0 1v1m0 19v1m0 19v1M164 234v1m0 22v1m0 14v1M165 236v1m0 14v1m0 13v1m0 9v1M166 211v1m0 13v1m0 38v1m0 7v1M167 197v1m0 14v1m0 2v1m0 17v1m0 6v1m0 4v1m0 24v2m0 95v1M168 173v1m0 1v1m0 7v1m0 24v1m0 31v1m0 3v1m0 48v1m0 1v1m0 5v1m0 29v1M170 179v1m0 35v1m0 8v1m0 1v1m0 7v1m0 4v1m0 4v1m0 4v1m0 4v1m0 14v2m0 9v1m0 7v1m0 7v1m0 7v1M171 222v1m0 6v2m0 3v1m0 3v1m0 14v1m0 20v1m0 7v1M172 164v1m0 53v1m0 5v1m0 4v1m0 24v1m0 2v1m0 9v1m0 1v1m0 2v1m0 1v1m0 4v1m0 11v1M173 223v1m0 1v2m0 11v2m0 2v1m0 8v1m0 14v1m0 11v1M174 194v1m0 26v1m0 28v1m0 3v1m0 16v1m0 1v1m0 5v1m0 2v1M175 235v1m0 14v1M176 140v1m0 65v1m0 7v1m0 2v1m0 4v1m0 7v1m0 2v1m0 1v1m0 6v1m0 4v1m0 2v1m0 3v1m0 4v1m0 1v1m0 4v1m0 3v1m0 3v1m0 6v1m0 3v1m0 4v2m0 9v1m0 24v1m0 48v1M177 131v1m0 62v1m0 16v1m0 2v1m0 1v1m0 2v1m0 7v1m0 11v1m0 5v1m0 2v1m0 6v1m0 7v2m0 1v1m0 2v1M178 209v1m0 6v1m0 5v1m0 8v1m0 10v1m0 10v1m0 11v1m0 6v1M179 241v1m0 8v1M180 185v1m0 19v1m0 26v1m0 1v1m0 4v1m0 1v1m0 6v1m0 32v1M181 229v1m0 15v1m0 3v1m0 10v1m0 5v1m0 2v1m0 3v1M182 135v1m0 48v1m0 14v1m0 5v1m0 47v1m0 25v1m0 40v1m0 29v1m0 29v1M183 206v1m0 9v1m0 4v1m0 12v1m0 13v1m0 1v1m0 5v1m0 26v1M184 208v1m0 6v1m0 9v1m0 2v1m0 10v1m0 6v1m0 5v1m0 11v2m0 2v1M185 224v1m0 25v1M186 202v1m0 25v1m0 10v1m0 7v1m0 13v2m0 12v2M188 120v1m0 72v1m0 5v1m0 18v2m0 4v1m0 1v1m0 1v1m0 4v1m0 23v1m0 4v1m0 8v1M189 214v1m0 2v1m0 4v1m0 6v1m0 5v1m0 11v1m0 4v1m0 1v2m0 5v1m0 6v1M190 182v1m0 15v1m0 5v1m0 16v1m0 6v1m0 2v1m0 18v1m0 19v1M191 236v1m0 7v1m0 5v1m0 26v1m0 2v1m0 30v1M198 330v1M235 144v1m0 38v1m0 25v1m0 6v1m0 4v1m0 4v1m0 6v1m0 11v1m0 20v1m0 3v1m0 10v1m0 18v1M236 211v1m0 10v1m0 18v1m0 6v1m0 22v1M237 209v1m0 19v1m0 6v1m0 9v1m0 12v1m0 3v1M238 222v1m0 22v1m0 10v1m0 29v1m0 1v1M239 221v1m0 8v1m0 21v1m0 16v1m0 55v1m0 7v1m0 1v1m0 1v1M240 224v1m0 45v1M241 174v1m0 20v1m0 12v1m0 47v1m0 45v1M242 190v1m0 16v1m0 6v1m0 18v1m0 11v1m0 17v2m0 2v2M243 182v1m0 17v1m0 16v1m0 5v1m0 54v1m0 15v1M244 187v1m0 11v1m0 16v1m0 59v1m0 3v1m0 11v1m0 6v1m0 18v1m0 2v1m0 45v1M245 200v1m0 10v1m0 3v1m0 12v1m0 37v1m0 7v1m0 2v1m0 1v1m0 1v1m0 5v1m0 4v1M246 208v1m0 1v2m0 11v1m0 4v1m0 1v1m0 1v1m0 10v1m0 8v1m0 11v1m0 6v1m0 6v1m0 36v1M247 198v1m0 1v1m0 4v1m0 11v1m0 2v1m0 16v2m0 1v1m0 4v1m0 95v1M248 199v1m0 2v1m0 7v2m0 4v1m0 21v1m0 6v1m0 10v1m0 3v1m0 12v2M249 186v1m0 6v1m0 13v1m0 63v1m0 2v1m0 12v1M250 192v1m0 11v1m0 7v1m0 10v1m0 1v1m0 1v1m0 9v1m0 7v2M251 188v1m0 6v1m0 25v1m0 5v1m0 18v1m0 1v1m0 12v1m0 8v1m0 30v1m0 39v1m0 4v1m0 9v1m0 5v1m0 9v1M253 224v1m0 1v1m0 29v1m0 14v2m0 3v1m0 45v1M254 191v1m0 16v1m0 9v1m0 15v1m0 17v1m0 8v1m0 16v1m0 7v1m0 19v1M454 209v1m0 12v1m0 2v1m0 1v1m0 8v2m0 20v1m0 14v1m0 7v1m0 1v1m0 5v1m0 27v1M455 182v1m0 7v1m0 26v1m0 8v1m0 32v2m0 2v2m0 10v1m0 8v1m0 1v1M456 203v1m0 12v2m0 1v1m0 11v1m0 3v1m0 22v1m0 2v1m0 4v1M458 192v1m0 10v1m0 3v1m0 3v1m0 18v3m0 12v1m0 7v1m0 2v1m0 5v1m0 3v1m0 22v1M459 210v1m0 29v1m0 16v1M460 172v2m0 5v1m0 29v1m0 1v1m0 2v1m0 5v1m0 6v1m0 19v1m0 13v1m0 2v1m0 16v1m0 15v1m0 27v1M461 206v1m0 7v1m0 8v1m0 8v1m0 39v1m0 46v1M462 262v2m0 1v1m0 1v1m0 8v1m0 3v1m0 18v1M463 181v1m0 1v1m0 18v1m0 13v1m0 5v1m0 8v1m0 5v2m0 10v1m0 1v1m0 1v1m0 85v1M464 209v1m0 26v1m0 18v1m0 18v1M465 152v1m0 26v1m0 50v1m0 1v1m0 7v1m0 13v1m0 9v1m0 16v1m0 7v1M466 199v1m0 13v1m0 10v2m0 15v1m0 21v1m0 44v1m0 5v1M467 204v1m0 8v1m0 8v1m0 11v1m0 7v1m0 7v2m0 6v1m0 24v1m0 1v1m0 2v1M468 195v1m0 6v2m0 21v1m0 3v1m0 24v1m0 2v1m0 4v1m0 3v1m0 1v1m0 45v1M469 187v1m0 6v1m0 26v1m0 3v1m0 25v1m0 4v1m0 2v2m0 2v2m0 1v1m0 9v1M470 203v1m0 4v1m0 10v1m0 25v1m0 1v2m0 7v1m0 43v1m0 47v1M471 165v1m0 10v2m0 4v1m0 25v1m0 8v1m0 13v1m0 6v1m0 6v2m0 7v1m0 1v1m0 18v1M472 208v1m0 2v1m0 19v1m0 7v1m0 3v1m0 10v1m0 12v2m0 7v1m0 12v1m0 17v1m0 18v1m0 14v2M473 192v1m0 20v1m0 6v1m0 37v1m0 2v1M474 198v1m0 4v1m0 2v1m0 8v2m0 10v1m0 11v1m0 5v1m0 2v1m0 64v1M475 189v1m0 4v1m0 1v2m0 11v1m0 1v1m0 14v1m0 24v2m0 2v1m0 9v3m0 7v1m0 2v1m0 18v1m0 28v1m0 35v1M476 247v1m0 3v1m0 9v1M477 213v1m0 5v1M478 175v1m0 7v1m0 15v1m0 16v1m0 8v1m0 1v1m0 9v1m0 14v2m0 8v1m0 7v1m0 28v1M479 203v3m0 13v1m0 4v3m0 16v2m0 5v2m0 1v2m0 19v1m0 6v1M480 162v1m0 12v1m0 25v1m0 12v1m0 4v1m0 3v2m0 17v1m0 4v1m0 3v1m0 8v1m0 9v1M481 204v1m0 5v1m0 11v1m0 12v1m0 3v1m0 12v1m0 7v1m0 7v1m0 2v1m0 21v1m0 11v1m0 7v1m0 58v1M482 196v1m0 10v1m0 27v1m0 25v1m0 1v1m0 14v1m0 33v1M483 205v1m0 4v1m0 3v1m0 5v1m0 4v1m0 9v1m0 4v1m0 7v1m0 8v1m0 8v1m0 19v1m0 10v1m0 30v1m0 12v2m0 21v1M484 106v1m0 44v1m0 7v1m0 21v1m0 30v1m0 21v1m0 10v1m0 28v2m0 11v1m0 17v1m0 8v1m0 1v1m0 40v1M485 185v1m0 4v1m0 8v1m0 2v1m0 6v1m0 13v1m0 3v2m0 9v1m0 21v1m0 3v1m0 1v1m0 2v1m0 1v1m0 1v1m0 24v1M486 128v1m0 22v1m0 26v1m0 24v1m0 5v1m0 7v1m0 1v2m0 1v1m0 3v1m0 3v1m0 13v1m0 24v1m0 1v2m0 6v1m0 41v1m0 4v2m0 21v1m0 9v1m0 17v1M487 141v1m0 44v1m0 8v1m0 10v1m0 27v1m0 11v1m0 11v1m0 11v1m0 3v1M527 191v1m0 10v1m0 3v1m0 7v2m0 2v1m0 6v1m0 28v2m0 37v1m0 6v1M528 198v1m0 5v1m0 19v2m0 4v1m0 5v1m0 3v1m0 1v1m0 11v1m0 21v1M529 193v1m0 7v1m0 10v1m0 13v1m0 9v1m0 127v1M530 265v1m0 1v1m0 28v1M531 84v1m0 93v1m0 2v1m0 4v1m0 4v1m0 19v1m0 7v1m0 17v1m0 14v2m0 21v1m0 1v1m0 16v1m0 19v1m0 17v1m0 2v1M532 189v1m0 1v1m0 60v1M533 185v1m0 2v1m0 6v1m0 18v1m0 12v1m0 6v1m0 4v1m0 5v1m0 4v1m0 15v3m0 4v1m0 12v1m0 7v1m0 1v1M534 177v1m0 5v1m0 8v1m0 2v1m0 8v1m0 2v1m0 3v1m0 4v1m0 5v1m0 4v1m0 3v1m0 1v1m0 7v1m0 15v1m0 5v3m0 17v1m0 7v1m0 3v1m0 6v1m0 2v1M535 208v1m0 6v1m0 2v1m0 2v1m0 20v1m0 20v1m0 1v1m0 6v1m0 4v2m0 1v1m0 1v1m0 8v1M536 204v2m0 2v1m0 5v1m0 19v1m0 4v2m0 5v1m0 4v1m0 1v1m0 23v1m0 16v1M537 168v1m0 2v1m0 4v1m0 8v1m0 18v1m0 4v1m0 5v1m0 10v1m0 8v1m0 29v1m0 2v1m0 5v1m0 4v1m0 5v1m0 57v1m0 43v1M538 206v1m0 1v1m0 4v1m0 3v1m0 4v1m0 3v1m0 4v1m0 11v1m0 15v1m0 1v1m0 32v1m0 3v1M539 110v1m0 86v1m0 9v1m0 5v2m0 3v1m0 7v1m0 5v1m0 1v1m0 9v1m0 3v1m0 4v1m0 5v1m0 5v1m0 7v1m0 13v1M540 173v1m0 8v1m0 1v1m0 33v1m0 4v1m0 7v1m0 12v1m0 1v1m0 5v1m0 17v1m0 8v1m0 60v1m0 49v1M541 223v2m0 42v1m0 1v1m0 3v1m0 12v1m0 4v2m0 1v1m0 5v1m0 2v1m0 23v1M542 133v1m0 52v1m0 36v2m0 17v1m0 10v1m0 8v1m0 1v1m0 2v1m0 92v1M543 217v1m0 15v1m0 2v1m0 3v1m0 11v1m0 13v1m0 2v1m0 2v1M544 146v1m0 28v1m0 5v1m0 22v1m0 2v1m0 3v1m0 2v1m0 12v2m0 20v1m0 7v1m0 1v1m0 3v1m0 15v1m0 12v1m0 18v1M545 177v1m0 18v2m0 16v1m0 15v1m0 1v1m0 52v1m0 12v1M546 82v1m0 106v1m0 9v2m0 3v2m0 24v1m0 40v1m0 10v1M547 77v1m0 117v1m0 17v1m0 13v1m0 2v1m0 4v1m0 1v1m0 26v1m0 15v1m0 22v1m0 4v1m0 2v1M548 131v1m0 5v1m0 63v1m0 28v1m0 23v1m0 10v1m0 1v1m0 1v1m0 39v1M549 239v1m0 12v1M550 245v1M551 170v1m0 12v1m0 1v1m0 28v1m0 1v1m0 6v1m0 6v1m0 29v1m0 5v1m0 5v1M552 218v1m0 23v1m0 32v1M553 196v1m0 5v1m0 17v1m0 28v1m0 22v1m0 10v1" stroke-opacity="0.741"/>
<path d="M103 205v1m0 15v1m0 2v1m0 1v1m0 4v1m0 3v2m0 7v1m0 10v1m0 9v1m0 2v1m0 1v2m0 4v1m0 1v1M104 205v1m0 1v1m0 2v1m0 2v1m0 11v2m0 2v2m0 8v1m0 2v1m0 2v1m0 1v1m0 2v1m0 1v1m0 1v1m0 15v1m0 4v1m0 19v1M106 202v1m0 3v1m0 4v1m0 1v2m0 1v1m0 3v1m0 5v1m0 1v1m0 3v1m0 2v1m0 2v1m0 2v1m0 2v1m0 5v1m0 2v2m0 7v1m0 7v1m0 3v1m0 8v1m0 2v1M107 235v1m0 1v1m0 8v3m0 2v1m0 7v2m0 3v1M108 216v1m0 1v1m0 2v1m0 10v1m0 4v1m0 3v1m0 3v1m0 3v1m0 5v1m0 3v1m0 5v1m0 6v1M109 206v1m0 2v1m0 2v1m0 1v1m0 6v1m0 1v1m0 2v1m0 9v2m0 2v1m0 7v2m0 9v1m0 4v1M110 197v1m0 1v1m0 5v1m0 11v2m0 9v1m0 8v1m0 10v1m0 12v1m0 10v1m0 7v1M111 225v1m0 2v1m0 28v1m0 19v1M112 195v1m0 8v1m0 2v1m0 4v1m0 18v1m0 17v1m0 10v3m0 3v2m0 5v1M113 213v2m0 10v1m0 6v1m0 2v1m0 4v1m0 1v1m0 3v2m0 5v1m0 5v1m0 6v1m0 9v1m0 6v1M114 209v1m0 20v1m0 43v1M115 176v1m0 38v1m0 12v1m0 3v1m0 1v1m0 10v1m0 12v1m0 4v1m0 2v2m0 6v1m0 1v1m0 4v1m0 1v1m0 42v1m0 2v1M116 164v1m0 28v1m0 14v1m0 3v1m0 1v2m0 9v1m0 3v1m0 3v1m0 1v1m0 1v1m0 5v1m0 8v1m0 7v1m0 3v1m0 2v2m0 2v1m0 2v1m0 14v1M118 209v1m0 1v1m0 2v2m0 3v1m0 2v2m0 2v1m0 11v1m0 11v1m0 1v1m0 1v1m0 9v1m0 11v2m0 2v1M119 208v1m0 1v1m0 5v1m0 3v1m0 5v3m0 2v1m0 9v2m0 2v1m0 1v2m0 5v1m0 1v1m0 9v1m0 3v1M120 203v1m0 5v1m0 1v1m0 5v1m0 1v1m0 11v1m0 2v1m0 4v1m0 1v1m0 3v1m0 10v1m0 10v1m0 4v4M160 220v1m0 7v1m0 3v1m0 10v1m0 1v1m0 5v1m0 3v1m0 2v2m0 32v1M161 219v1m0 9v1m0 20v3m0 23v1M162 214v1m0 1v1m0 4v1m0 2v1m0 1v1m0 5v1m0 5v1m0 3v1m0 14v2m0 5v1m0 10v1m0 3v1m0 6v1M163 198v1m0 18v1m0 6v1m0 1v2m0 8v1m0 3v1m0 6v1m0 10v2m0 1v1m0 3v1m0 2v1m0 1v1m0 2v1M164 211v1m0 1v1m0 17v1m0 3v2m0 7v1m0 20v1M165 218v1m0 22v1m0 5v1m0 8v1m0 17v1M166 199v1m0 6v1m0 25v1m0 21v1M167 199v1m0 36v1m0 10v1m0 1v1m0 9v1m0 1v1m0 13v1m0 2v1M168 188v1m0 15v1m0 12v1m0 4v1m0 6v1m0 4v1m0 17v2m0 14v1m0 19v1M170 208v1m0 2v3m0 13v1m0 2v1m0 1v2m0 1v2m0 6v1m0 6v2m0 7v1m0 2v2m0 3v1m0 6v2m0 3v1M171 161v1m0 47v1m0 1v1m0 1v1m0 1v1m0 15v1m0 8v1m0 9v1m0 6v2m0 1v1m0 19v1M172 187v1m0 18v1m0 25v2m0 4v1m0 2v1m0 22v1m0 12v2M173 210v1m0 1v1m0 5v2m0 11v1m0 14v1M174 205v1m0 10v1m0 5v1m0 1v2m0 3v2m0 10v1m0 5v1m0 3v1m0 3v1m0 7v1m0 1v2m0 8v1m0 1v1M175 207v1M176 194v1m0 5v1m0 4v1m0 1v1m0 8v1m0 6v1m0 5v1m0 7v1m0 1v2m0 3v1m0 8v1m0 6v1m0 1v1m0 8v1m0 3v2m0 9v1M177 191v1m0 6v1m0 6v1m0 11v1m0 17v1m0 4v1m0 9v1m0 6v2m0 16v1m0 2v1m0 2v1M178 202v1m0 3v3m0 9v1m0 5v1m0 1v1m0 6v1m0 1v1m0 5v1m0 3v1m0 6v1m0 5v1m0 3v2m0 4v1m0 16v1M179 220v1M180 183v2m0 6v1m0 12v1m0 1v1m0 1v1m0 2v2m0 38v1m0 6v1m0 5v1m0 1v1m0 6v1M181 206v1m0 3v1m0 10v1m0 36v1m0 20v1M182 206v2m0 14v1m0 10v1m0 26v1m0 34v1m0 27v1M183 212v1m0 9v1m0 6v1m0 1v1m0 6v1m0 3v1m0 1v1m0 1v1m0 4v1m0 3v1m0 7v1m0 3v2m0 6v2m0 3v1m0 15v1M184 213v2m0 2v1m0 2v1m0 6v1m0 7v1m0 11v1m0 2v2m0 10v2m0 5v1M185 213v1m0 3v1m0 1v1m0 39v1m0 9v1M186 224v1m0 2v1m0 6v1m0 22v1m0 10v1m0 10v1M187 254v1m0 13v1M188 195v1m0 36v1m0 2v1m0 2v1m0 1v1m0 3v1m0 8v1m0 6v1m0 5v1m0 3v1m0 7v1m0 10v1M189 205v1m0 4v1m0 7v1m0 30v3m0 7v1m0 5v1m0 8v1m0 1v1m0 4v1M190 200v1m0 19v1m0 3v1m0 9v1m0 1v1m0 1v1m0 13v1m0 20v1m0 16v1M191 197v1m0 16v2m0 1v1m0 4v1m0 11v1m0 14v1m0 12v1m0 8v1m0 1v1m0 5v1M235 228v1m0 8v1m0 2v1m0 1v1m0 11v1m0 2v1m0 2v1m0 4v1m0 2v1m0 3v1m0 10v1m0 19v1m0 1v1M236 204v1m0 2v1m0 15v1m0 2v1m0 3v1m0 15v1m0 5v1m0 3v1m0 4v1m0 3v1m0 12v2M237 215v1m0 23v1m0 3v1m0 13v1m0 18v1m0 1v1M238 233v1m0 1v1m0 7v1m0 23v1M239 198v1m0 13v2m0 4v1m0 7v1m0 13v1m0 2v1m0 15v2m0 5v1m0 11v1m0 12v1m0 8v1M240 281v1M241 172v1m0 13v1m0 98v1m0 18v1M242 191v1m0 62v1m0 15v2m0 1v3m0 3v1m0 8v1M243 184v1m0 2v1m0 38v1m0 50v1m0 25v1m0 18v1M244 173v1m0 3v1m0 4v2m0 2v1m0 5v1m0 4v1m0 6v1m0 19v1m0 22v1m0 9v1m0 7v2m0 14v1m0 3v5m0 1v1m0 12v1m0 4v1m0 4v1M245 194v1m0 3v1m0 9v1m0 15v1m0 45v1m0 1v1m0 3v1M246 182v1m0 11v1m0 7v1m0 1v2m0 7v1m0 1v1m0 2v1m0 1v1m0 3v1m0 2v1m0 1v1m0 3v1m0 3v1m0 2v2m0 2v2m0 2v1m0 6v1m0 3v1m0 8v1m0 6v1m0 5v2m0 9v1m0 4v1M247 191v1m0 4v1m0 6v2m0 2v1m0 5v1m0 22v1m0 5v1m0 1v1m0 6v1m0 4v2m0 2v1m0 2v1M248 208v1m0 5v1m0 2v1m0 2v1m0 1v1m0 9v1m0 1v1m0 5v1m0 1v3m0 3v1m0 3v1m0 2v1m0 2v1m0 8v1m0 1v1m0 2v1m0 2v1M249 183v1m0 6v1m0 12v1m0 1v1m0 9v1m0 11v2m0 1v1m0 1v2m0 1v1m0 7v1m0 5v1m0 9v1m0 2v1m0 2v1M250 199v1m0 2v1m0 8v1m0 9v1m0 4v1m0 2v1m0 13v1m0 3v1m0 5v1m0 1v1m0 2v3m0 3v1M251 198v2m0 3v1m0 36v1m0 3v1m0 2v1m0 10v2m0 6v1m0 14v2m0 9v1m0 6v1m0 3v1m0 5v1m0 74v1M252 283v1M253 200v1m0 4v1m0 6v2m0 3v1m0 3v1m0 8v1m0 2v2m0 1v2m0 1v1m0 1v1m0 9v2m0 2v1m0 1v1m0 5v1m0 1v1m0 3v2m0 7v1m0 2v1m0 6v1m0 2v1m0 2v1m0 6v1m0 35v1M254 194v1m0 2v1m0 4v1m0 13v1m0 4v1m0 3v1m0 7v1m0 2v2m0 2v1m0 15v1m0 5v2m0 7v1m0 2v1m0 6v1m0 1v1m0 1v1m0 19v1M454 191v1m0 15v1m0 9v1m0 3v1m0 7v1m0 5v1m0 4v1m0 7v1m0 10v1m0 4v1m0 3v1M455 186v1m0 12v1m0 3v1m0 6v1m0 3v1m0 1v1m0 4v2m0 5v1m0 4v1m0 1v1m0 1v1m0 6v1m0 4v1m0 7v2m0 6v1m0 7v2M456 223v1m0 6v1m0 16v1m0 6v1M457 232v1m0 37v1M458 200v1m0 4v1m0 2v3m0 14v2m0 10v1m0 1v1m0 1v1m0 18v1m0 19v1M459 190v1m0 8v1m0 26v1m0 39v1M460 159v1m0 6v1m0 23v1m0 16v1m0 2v1m0 2v1m0 14v2m0 4v1m0 2v1m0 1v1m0 1v2m0 10v1m0 3v1m0 1v1m0 11v1m0 1v1m0 5v1m0 10v1m0 12v1m0 42v1M461 198v1m0 21v2m0 2v1m0 2v1m0 1v2m0 5v1m0 1v1m0 1v1m0 19v1m0 3v1m0 18v1m0 18v1M462 252v1m0 21v1m0 10v1M463 177v1m0 15v1m0 18v1m0 4v1m0 1v2m0 8v1m0 4v1m0 1v1m0 17v1M464 217v1m0 8v1m0 3v1m0 3v2m0 3v1m0 5v1m0 2v1m0 3v1m0 12v1M465 194v1m0 1v1m0 4v2m0 1v1m0 2v1m0 4v2m0 3v1m0 7v2m0 1v1m0 10v1m0 6v1m0 1v2m0 8v1m0 1v2m0 16v1M466 172v1m0 28v1m0 12v1m0 66v1M467 207v1m0 2v1m0 8v1m0 6v1m0 4v1m0 4v2m0 10v1m0 5v1m0 1v1m0 12v1m0 10v1m0 31v1M468 205v1m0 3v1m0 2v1m0 5v1m0 2v1m0 1v1m0 2v1m0 1v1m0 11v1m0 1v1m0 4v2m0 2v1m0 3v1m0 4v1m0 2v2m0 25v1M469 195v1m0 5v1m0 1v1m0 13v1m0 8v1m0 4v1m0 11v1m0 4v1m0 1v1m0 1v1m0 5v1m0 9v1M470 239v1m0 9v1m0 20v1M471 175v1m0 18v2m0 1v1m0 2v1m0 15v1m0 2v1m0 9v1m0 2v1m0 18v1m0 3v1m0 2v1m0 9v1m0 29v1m0 11v1M472 174v1m0 1v1m0 1v1m0 1v1m0 2v1m0 2v1m0 2v1m0 17v1m0 4v1m0 3v2m0 15v1m0 15v1m0 2v2m0 1v2m0 13v1m0 9v1m0 7v1M473 193v1m0 39v1m0 31v1m0 5v1M474 200v1m0 8v1m0 2v1m0 5v1m0 5v1m0 9v1m0 60v1M475 158v1m0 1v1m0 4v1m0 15v1m0 5v1m0 16v1m0 3v1m0 8v1m0 1v1m0 2v1m0 9v1m0 2v2m0 33v1m0 12v1M476 205v1m0 7v2m0 1v1m0 1v1m0 6v1m0 4v1m0 1v1m0 10v1m0 4v2m0 8v1m0 6v1m0 2v1m0 2v1m0 4v1m0 2v1m0 1v1m0 2v3m0 2v1M477 210v1m0 56v1m0 6v1M478 196v2m0 3v1m0 11v1m0 4v1m0 1v1m0 7v2m0 12v1m0 2v1m0 9v1m0 7v1m0 12v1m0 1v2m0 13v1M479 208v1m0 1v1m0 2v1m0 6v1m0 8v2m0 2v1m0 8v1m0 2v3m0 12v1m0 8v2m0 8v1m0 3v1M480 173v1m0 19v1m0 9v1m0 7v2m0 2v1m0 2v1m0 11v1m0 1v1m0 17v1m0 3v1m0 2v2m0 3v1m0 8v1M481 178v1m0 22v1m0 4v1m0 7v1m0 1v1m0 6v1m0 8v1m0 5v1m0 1v1m0 12v2m0 1v1m0 1v1m0 3v3m0 7v1m0 8v2M482 173v1m0 12v1m0 36v1m0 18v1m0 30v1M483 182v2m0 7v1m0 1v2m0 9v1m0 1v1m0 6v1m0 4v1m0 11v1m0 5v2m0 7v1m0 7v1m0 11v1m0 21v1m0 3v1m0 31v1m0 11v1M484 144v1m0 12v1m0 7v1m0 8v1m0 10v1m0 4v1m0 8v2m0 13v1m0 2v1m0 1v1m0 5v1m0 9v1m0 3v1m0 2v1m0 6v2m0 3v1m0 5v1m0 3v2m0 5v1m0 7v1m0 3v1m0 14v1m0 36v1m0 33v1M485 213v1m0 1v1m0 17v2m0 1v1m0 22v1m0 5v1m0 18v1M486 93v1m0 55v2m0 14v1m0 16v1m0 2v1m0 5v1m0 2v1m0 1v1m0 19v1m0 11v2m0 4v1m0 1v2m0 12v1m0 2v1m0 1v1m0 4v1m0 3v1m0 3v1m0 6v2m0 18v1m0 7v1m0 5v1m0 5v1M487 175v1m0 2v1m0 4v1m0 7v1m0 10v1m0 2v1m0 3v1m0 1v1m0 16v1m0 1v1m0 14v1m0 10v1m0 43v1M527 209v1m0 13v1m0 11v2m0 2v1m0 2v1m0 9v1m0 6v1m0 5v1m0 8v1m0 4v1m0 7v1m0 8v1m0 5v1M528 194v1m0 13v1m0 10v1m0 1v1m0 6v1m0 15v2m0 6v1m0 9v1m0 1v2M529 204v1m0 2v2m0 4v1m0 5v1m0 4v1m0 4v2m0 1v1m0 2v1m0 1v2m0 2v1m0 5v1m0 5v1m0 4v1m0 3v1m0 1v2M530 255v1m0 6v1M531 188v1m0 8v1m0 15v1m0 2v1m0 9v1m0 3v2m0 11v2m0 14v1m0 1v3m0 2v1m0 2v1m0 2v1m0 13v1m0 22v1M532 179v1M533 194v1m0 2v2m0 2v1m0 3v1m0 4v2m0 7v1m0 1v1m0 6v1m0 13v1m0 1v1m0 1v2m0 7v1m0 3v1m0 2v1m0 40v1m0 23v1m0 3v1m0 13v1M534 185v1m0 5v1m0 6v1m0 9v2m0 4v1m0 5v1m0 8v1m0 2v1m0 4v1m0 1v2m0 1v1m0 2v1m0 3v1m0 2v1m0 3v1m0 4v1m0 4v1m0 4v2m0 4v1m0 3v1m0 12v1m0 11v1m0 2v1m0 15v2M535 203v2m0 6v1m0 7v1m0 25v2m0 4v1m0 3v1m0 19v1m0 9v1m0 8v2m0 1v1M536 195v1m0 3v1m0 15v2m0 8v2m0 1v1m0 1v3m0 2v1m0 8v1m0 2v1m0 4v1m0 1v1m0 4v1m0 2v2m0 9v1m0 1v1m0 7v1M537 158v1m0 71v1m0 6v2m0 6v1m0 5v1m0 4v1m0 2v1m0 28v1m0 4v1m0 75v1M538 205v1m0 1v1m0 2v1m0 3v1m0 1v1m0 2v1m0 3v1m0 3v1m0 1v1m0 6v1m0 1v1m0 2v1m0 3v2m0 1v1m0 8v1M539 199v1m0 4v1m0 4v1m0 2v1m0 3v1m0 3v1m0 8v1m0 7v1m0 13v1m0 2v1m0 8v2m0 2v1m0 2v1m0 8v1M540 194v1m0 8v1m0 7v1m0 12v1m0 8v1m0 2v1m0 1v1m0 4v1m0 12v1m0 3v1m0 3v1m0 4v1m0 8v1m0 6v1M541 206v1m0 5v1m0 7v1m0 1v1m0 13v2m0 1v1m0 4v2m0 4v1m0 13v1m0 7v1m0 1v2m0 8v2m0 3v2m0 2v1m0 13v1M542 151v1m0 57v1m0 17v1m0 11v1m0 6v1m0 7v1m0 1v1m0 12v1m0 3v1m0 1v1m0 1v1m0 9v1m0 1v1m0 9v1m0 19v1m0 54v1M543 221v1m0 3v1m0 1v1m0 20v1M544 184v1m0 8v1m0 1v1m0 3v1m0 9v1m0 3v1m0 8v2m0 1v1m0 5v1m0 4v2m0 1v1m0 6v1m0 4v1m0 4v1m0 5v1m0 2v1m0 1v1m0 2v2m0 4v1m0 8v1m0 4v1m0 14v1m0 14v1M545 158v1m0 44v1m0 1v1m0 3v1m0 11v1m0 4v1m0 4v1m0 11v1m0 4v1m0 2v1m0 11v1m0 12v1m0 3v1m0 20v1m0 1v1m0 15v1M546 193v1m0 13v1m0 6v1m0 1v1m0 5v1m0 4v1M547 177v1m0 5v1m0 18v1m0 2v1m0 1v1m0 1v2m0 5v1m0 1v1m0 2v1m0 3v2m0 4v1m0 13v1m0 3v2m0 20v1m0 7v1m0 7v1m0 41v1M548 183v1m0 11v1m0 3v1m0 9v1m0 3v1m0 7v1m0 17v1m0 1v1m0 1v1m0 6v3m0 4v1m0 8v1m0 1v1m0 5v1m0 1v1m0 6v1M549 206v1m0 13v1m0 33v1M550 228v1m0 1v1M551 188v1m0 7v2m0 2v1m0 1v2m0 21v1m0 3v1m0 10v2m0 1v3m0 1v1m0 13v1m0 2v1M552 212v1m0 40v1m0 5v1m0 4v1M553 191v1m0 7v1m0 1v1m0 2v1m0 5v1m0 3v1m0 6v1m0 12v2m0 6v1m0 11v1m0 3v1m0 6v2m0 14v1" stroke-opacity="0.776"/>
<path d="M103 206v1m0 34v1m0 17v2m0 2v1M104 209v1m0 7v1m0 1v1m0 1v1m0 13v1m0 2v1m0 1v1m0 12v1m0 1v3m0 4v1m0 3v1m0 1v1m0 2v1m0 1v1m0 4v1m0 1v1m0 1v1M106 205v1m0 2v1m0 10v1m0 2v1m0 34v1m0 15v1m0 3v1m0 2v2m0 3v1M107 220v1m0 11v1m0 9v1m0 1v1m0 7v1m0 8v1m0 4v1m0 2v2m0 1v1m0 5v1M108 223v1m0 9v1m0 1v1m0 18v1m0 2v2m0 4v1m0 3v1m0 5v2M109 204v1m0 12v1m0 12v1m0 30v1m0 6v1M110 210v1m0 4v1m0 3v1m0 2v1m0 1v1m0 11v1m0 4v1m0 1v1m0 3v1m0 16v2m0 8v1m0 1v3m0 3v2M111 213v1m0 28v1M112 206v1m0 2v1m0 5v1m0 6v1m0 16v1m0 3v1m0 8v1m0 1v1m0 1v1M113 207v1m0 2v1m0 5v1m0 1v1m0 2v1m0 6v1m0 1v1m0 2v1m0 2v1m0 11v1m0 6v2m0 7v2m0 2v2m0 4v1m0 11v2M115 210v1m0 1v1m0 4v1m0 1v1m0 3v1m0 32v1m0 2v1m0 1v1m0 15v1m0 2v1m0 3v1M116 210v1m0 12v1m0 2v1m0 1v1m0 2v1m0 9v1m0 7v1m0 3v1m0 1v1m0 3v1m0 6v1m0 3v1m0 2v1m0 1v1m0 4v1m0 7v1m0 6v1M118 199v1m0 24v1m0 15v1m0 42v1m0 5v1m0 8v1M119 196v1m0 17v1m0 3v1m0 11v1m0 1v3m0 1v2m0 1v1m0 9v1m0 2v2m0 1v1m0 4v1m0 1v1m0 2v1m0 6v1m0 3v1m0 4v1M120 201v2m0 1v1m0 2v2m0 15v1m0 1v4m0 8v1m0 1v1m0 1v1m0 6v1m0 1v1m0 6v2m0 1v1m0 3v1m0 3v1M160 207v1m0 22v1m0 2v1m0 29v2m0 4v1m0 6v1M161 247v1M162 199v1m0 15v1m0 19v1m0 8v2M163 210v1m0 5v1m0 12v2m0 22v1m0 3v1m0 2v1m0 1v1m0 1v1m0 2v1m0 7v1m0 2v1m0 16v1M164 238v1m0 2v2m0 20v1m0 2v1m0 12v1M165 214v1m0 29v1m0 5v1m0 10v2M166 267v1m0 8v1M167 200v1m0 23v1m0 2v1m0 9v1m0 3v1m0 15v1m0 5v1m0 10v1m0 5v1m0 1v1m0 3v1M168 205v1m0 3v1m0 1v1m0 11v1m0 21v1m0 1v2m0 8v1m0 3v1m0 5v1m0 6v1M170 204v1m0 15v1m0 7v1m0 8v1m0 4v1m0 2v1m0 2v1m0 4v1m0 7v1m0 9v1m0 9v1M171 206v1m0 10v1m0 1v1m0 28v1m0 6v1m0 6v1m0 2v1M172 198v2m0 4v1m0 3v1m0 3v1m0 2v1m0 6v1m0 4v1m0 7v2m0 3v1m0 3v1m0 1v1m0 5v1m0 8v1m0 4v1m0 13v1M173 216v1m0 31v1m0 1v1m0 3v1m0 7v1m0 6v1M174 186v1m0 15v2m0 2v1m0 2v2m0 2v3m0 7v1m0 2v1m0 4v1m0 2v1m0 2v3m0 2v1m0 2v1m0 7v1m0 6v1m0 9v1m0 10v1M175 225v1M176 204v1m0 4v1m0 14v1m0 1v1m0 4v2m0 19v1m0 4v1m0 9v1m0 4v2M177 210v1m0 4v1m0 7v1m0 9v1m0 4v1m0 4v1m0 3v1m0 6v1m0 5v2M178 196v1m0 3v1m0 4v1m0 5v2m0 4v1m0 2v2m0 5v1m0 4v1m0 11v1m0 5v2m0 2v2m0 27v1M179 210v1M180 195v1m0 7v1m0 5v1m0 10v1m0 2v2m0 5v2m0 1v1m0 1v2m0 1v1m0 5v2m0 3v1m0 4v2m0 4v2m0 3v1m0 5v1M181 215v1m0 8v1m0 7v1m0 14v1M182 197v1m0 27v1m0 52v1m0 13v1M183 210v1m0 3v1m0 21v1m0 3v1m0 11v3m0 3v1m0 13v2m0 3v1M184 211v2m0 3v1m0 1v1m0 2v1m0 4v1m0 2v1m0 7v1m0 3v1m0 2v1m0 3v2m0 8v1m0 1v2m0 12v2m0 3v1M185 218v1m0 2v1m0 5v1M186 222v1m0 12v1m0 8v1m0 3v1m0 2v1m0 1v2m0 10v3M188 202v2m0 1v1m0 15v2m0 2v1m0 3v1m0 11v1m0 16v1m0 2v1m0 1v2m0 12v1M189 207v1m0 4v1m0 2v1m0 4v1m0 10v1m0 5v1m0 2v1m0 12v1m0 3v1m0 9v1m0 10v1M190 206v1m0 2v1m0 1v1m0 2v1m0 1v2m0 11v1m0 2v1m0 8v1m0 4v1m0 1v1m0 6v1m0 4v1m0 5v1m0 2v1m0 1v1m0 2v2m0 4v1M191 185v2m0 15v1m0 9v1m0 5v1m0 7v2m0 2v1m0 6v1m0 8v2m0 9v1m0 7v1m0 6v1m0 3v1M235 212v1m0 4v1m0 14v1m0 14v1m0 4v1m0 9v1m0 25v1M236 232v1m0 6v1m0 3v1m0 14v1m0 10v1m0 2v1m0 3v1M237 227v1m0 20v1m0 12v1M238 231v1m0 28v1m0 4v1M239 214v1m0 17v1m0 2v1M241 177v1m0 2v1m0 6v1m0 5v1m0 40v1m0 11v1m0 33v1M242 240v1m0 35v1m0 7v1m0 5v1m0 1v1M243 311v1M244 176v1m0 3v2m0 7v2m0 88v1m0 2v2m0 6v1m0 4v1m0 11v1m0 5v1m0 8v1M245 234v1m0 43v1m0 7v1M246 187v1m0 9v1m0 8v1m0 2v1m0 2v1m0 3v2m0 4v1m0 30v1m0 4v1m0 2v2m0 3v1m0 2v1m0 2v1m0 10v1M247 188v1m0 6v1m0 3v1m0 8v1m0 5v1m0 12v1m0 1v1m0 3v1m0 5v1m0 6v1m0 14v1m0 3v1m0 2v1m0 11v1M248 195v1m0 1v1m0 26v1m0 3v1m0 1v1m0 6v1m0 12v1m0 11v1m0 1v2M249 187v1m0 1v1m0 10v2m0 7v2m0 2v1m0 6v1m0 4v1m0 10v1m0 8v1m0 1v1m0 8v2m0 8v1m0 1v1m0 9v1M250 196v1m0 1v1m0 6v1m0 9v1m0 15v1m0 18v1m0 10v1m0 1v1M251 196v1m0 7v1m0 5v3m0 2v1m0 2v1m0 1v1m0 3v3m0 1v1m0 7v3m0 14v3m0 1v1m0 9v1m0 3v1M253 204v1m0 14v1m0 11v1m0 11v1m0 4v2m0 10v2m0 5v1m0 5v1m0 1v1m0 16v1M254 203v3m0 3v1m0 3v1m0 14v2m0 5v1m0 3v1m0 5v1m0 4v2m0 5v1m0 1v2m0 3v1m0 1v1m0 1v1m0 3v2m0 1v1m0 6v1m0 13v1m0 5v1M454 233v1m0 4v2m0 36v1m0 1v1m0 1v1M455 220v1m0 8v2m0 3v1m0 15v2m0 2v1m0 11v1m0 12v1m0 17v1M456 208v1m0 13v1m0 3v1m0 22v1m0 9v1M457 204v1m0 12v1m0 11v1M458 196v1m0 4v1m0 10v1m0 4v2m0 8v1m0 1v1m0 8v1m0 9v1m0 2v1m0 2v1m0 6v1m0 1v1m0 1v1m0 1v1M460 175v1m0 36v1m0 3v1m0 1v1m0 3v1m0 2v1m0 22v1m0 2v1m0 11v1M461 199v1m0 5v1m0 2v1m0 4v1m0 3v1m0 4v1m0 3v1m0 12v1m0 2v3m0 3v2m0 1v1m0 1v6m0 4v1m0 2v1m0 6v2m0 1v1m0 8v2M462 240v1m0 25v1M463 186v1m0 5v1m0 6v1m0 5v1m0 36v1m0 7v1m0 13v1M464 218v1m0 1v1m0 3v1m0 3v1m0 3v1m0 4v1m0 3v1m0 1v2m0 6v1m0 1v1m0 2v2m0 8v1M465 183v1m0 22v1m0 3v1m0 4v1m0 3v1m0 2v2m0 3v1m0 3v1m0 1v1m0 4v1m0 3v1m0 14v1m0 7v1m0 7v1m0 2v1M466 206v1M467 212v1m0 4v1m0 10v1m0 23v1m0 12v2m0 17v1M468 200v1m0 6v1m0 2v1m0 5v1m0 13v1m0 2v1m0 2v1m0 7v1m0 1v1m0 11v1M469 190v1m0 11v1m0 6v1m0 1v1m0 27v1m0 2v1m0 12v1M470 206v2m0 2v1m0 1v1m0 9v2m0 1v1m0 52v1M471 180v1m0 15v1m0 1v1m0 11v1m0 3v2m0 2v1m0 5v1m0 1v1m0 3v1m0 3v1m0 5v1m0 12v1m0 6v1m0 2v1m0 3v1m0 4v1M472 188v1m0 2v1m0 7v1m0 6v1m0 3v1m0 2v1m0 6v1m0 3v1m0 1v1m0 1v1m0 3v1m0 4v1m0 19v1m0 3v1m0 1v3m0 6v1M473 217v1M474 205v1m0 31v1m0 2v1m0 2v1m0 3v1m0 4v1m0 7v1m0 1v1m0 1v1m0 16v1m0 2v1M475 180v1m0 20v1m0 5v1m0 8v1m0 7v1m0 14v1m0 2v1m0 6v1m0 7v2m0 14v1M476 217v1m0 1v1m0 1v3m0 2v1m0 2v1m0 8v1m0 1v1m0 11v1m0 1v1m0 11v2m0 4v2M477 248v1M478 195v1m0 8v1m0 1v1m0 4v1m0 3v1m0 6v1m0 11v1m0 4v1m0 1v1m0 17v1m0 5v1m0 5v1m0 1v1m0 3v1M479 259v1m0 4v1m0 1v1M480 183v1m0 1v1m0 20v1m0 3v1m0 10v1m0 4v1m0 1v1m0 5v1M481 173v1m0 10v1m0 8v1m0 1v1m0 19v1m0 4v1m0 3v1m0 6v1m0 10v1m0 2v1m0 2v1m0 1v1m0 6v1m0 9v1m0 1v2m0 2v1m0 1v1m0 1v1m0 2v1m0 7v1M482 201v1m0 9v1M483 169v1m0 25v1m0 6v1m0 5v1m0 17v1m0 4v1m0 9v1m0 2v1m0 2v1m0 22v1m0 6v1m0 25v2m0 1v1M484 172v2m0 19v1m0 13v1m0 2v2m0 12v1m0 27v1m0 5v1m0 10v1m0 2v1m0 15v1m0 4v1m0 3v1M485 183v1m0 17v1m0 3v1m0 25v1m0 13v1m0 17v1m0 24v1M486 86v1m0 111v1m0 3v1m0 2v1m0 4v1m0 12v1m0 1v1m0 1v1m0 14v2m0 2v1m0 1v1m0 3v1m0 1v1m0 1v2m0 3v1m0 19v1m0 2v1m0 5v1m0 6v1m0 1v1m0 4v1m0 1v1m0 1v1m0 10v1M487 187v1m0 10v1m0 5v1m0 7v2m0 3v1m0 1v1m0 13v1m0 3v1m0 3v1m0 1v2m0 5v2m0 1v1m0 6v1m0 2v3m0 6v1m0 2v1m0 3v1m0 17v1M527 234v1m0 13v1m0 8v1m0 10v1m0 15v2M528 212v1m0 33v1m0 3v1m0 2v1m0 4v1m0 1v2m0 5v1m0 2v2M529 197v1m0 1v2m0 1v2m0 5v1m0 4v1m0 3v1m0 4v1m0 4v1m0 2v1m0 7v2m0 7v1m0 1v2m0 3v1m0 7v1m0 4v1M530 236v1m0 33v1M531 179v1m0 2v1m0 2v1m0 1v1m0 12v3m0 5v2m0 2v1m0 2v1m0 1v2m0 9v1m0 3v3m0 4v1m0 6v2m0 7v3m0 9v2m0 2v1m0 31v1M533 225v1m0 4v1m0 4v1m0 13v1m0 24v1m0 3v1m0 14v1m0 16v1m0 26v1M534 213v1m0 3v1m0 32v1m0 16v1m0 1v2m0 5v1m0 2v1m0 10v1m0 7v1m0 1v2m0 1v1m0 3v1M535 209v1m0 14v1m0 2v1m0 3v1m0 3v1m0 1v1m0 5v1m0 10v1m0 5v1m0 10v1m0 2v1m0 6v1m0 4v1m0 3v1m0 9v1M536 207v1m0 5v1m0 3v1m0 3v3m0 5v1m0 3v1m0 4v1m0 4v1m0 6v1m0 9v2m0 5v1m0 2v1M537 191v1m0 5v1m0 44v1m0 10v1m0 8v1m0 13v1m0 15v1m0 32v1M538 198v1m0 3v2m0 28v1m0 17v1m0 27v1m0 5v1M539 193v1m0 21v1m0 8v1m0 3v1m0 1v1m0 10v1m0 5v1m0 20v1m0 5v1m0 9v1M540 188v1m0 9v1m0 2v2m0 2v1m0 4v1m0 2v1m0 7v1m0 5v1m0 87v1M541 208v2m0 4v1m0 1v1m0 11v1m0 4v2m0 3v1m0 1v1m0 1v2m0 2v3m0 4v1m0 4v2m0 1v2m0 2v1m0 4v1m0 5v1m0 4v1m0 5v1m0 7v1m0 2v1m0 10v1M542 214v2m0 34v1m0 33v1M543 206v1m0 6v1m0 47v1M544 189v1m0 4v1m0 23v1m0 22v2m0 10v1m0 1v1M545 206v1m0 1v1m0 1v2m0 1v1m0 1v1m0 3v2m0 2v2m0 4v1m0 12v1m0 2v1m0 3v2m0 5v1m0 3v2m0 2v1m0 1v2m0 4v1m0 6v1m0 13v1M546 182v1m0 15v1m0 56v1m0 8v1m0 8v1M547 192v1m0 8v1m0 2v1m0 6v1m0 3v1m0 38v1m0 2v2m0 2v1m0 1v1m0 5v1m0 24v1M548 190v1m0 9v1m0 13v1m0 2v2m0 4v4m0 2v1m0 1v2m0 13v2m0 7v2m0 3v1m0 9v2m0 10v1m0 38v1M549 231v1m0 19v1m0 14v2m0 8v1M551 182v1m0 15v1m0 5v1m0 8v1m0 1v1m0 2v1m0 3v1m0 9v2m0 1v1m0 6v1m0 6v2m0 1v1m0 1v3m0 6v1m0 16v1M552 221v1m0 3v1m0 18v1M553 200v1m0 5v1m0 9v2m0 6v1m0 5v2m0 9v1m0 13v1m0 3v1m0 2v3m0 4v1m0 3v1" stroke-opacity="0.830"/>
<path d="M103 220v1M104 214v2m0 2v1m0 4v1m0 3v2m0 2v1m0 1v1m0 3v1m0 6v1m0 1v1m0 1v1m0 2v1m0 6v1m0 5v1m0 2v1m0 6v1m0 2v1m0 1v1m0 3v2m0 3v1m0 1v1m0 1v1M106 212v1m0 2v1m0 79v1M107 217v1m0 22v1m0 9v1M108 229v1m0 46v1M109 200v1m0 10v1m0 27v1m0 11v1M110 220v1m0 10v1m0 1v1m0 11v1m0 4v1m0 1v1m0 1v1m0 1v1m0 3v1m0 10v1m0 9v1m0 3v1M111 226v1M112 203v1m0 33v1M113 211v1m0 5v1m0 1v1m0 18v1m0 5v1m0 6v1m0 5v1m0 13v1m0 7v1m0 2v1M114 291v1M115 131v1m0 10v1m0 60v1m0 3v1m0 6v1m0 127v1M116 220v1m0 1v1m0 7v1m0 1v1m0 3v1m0 1v1m0 1v1m0 1v1m0 1v1m0 1v1m0 1v1m0 1v1m0 3v1m0 2v1m0 5v1m0 1v1m0 3v1m0 2v1m0 3v1m0 1v1m0 7v1M118 203v1m0 2v1m0 60v1m0 16v1m0 1v1m0 1v1m0 1v1m0 2v1M119 278v1M120 195v1m0 14v1m0 2v1m0 1v1m0 4v2m0 1v1m0 6v1m0 4v1m0 8v1m0 2v1m0 9v1m0 5v1m0 4v1m0 2v1M160 210v1m0 33v1m0 3v1m0 29v1M161 249v1M162 261v1M163 218v1m0 1v1m0 1v1m0 10v1m0 5v1m0 11v1m0 19v1M164 221v1m0 10v1m0 15v1m0 21v1m0 15v1M165 216v1m0 11v1m0 23v1M166 213v1m0 55v1M167 202v1m0 17v1m0 44v1m0 11v1M168 198v1m0 31v1m0 4v1m0 2v1m0 4v1m0 10v1m0 3v1m0 1v1m0 3v1m0 11v1M170 218v1m0 4v1m0 1v1m0 30v1m0 7v1M171 277v1M172 143v1m0 63v1m0 12v1m0 16v1m0 9v1m0 8v1m0 2v1m0 8v1m0 2v1m0 3v1m0 8v1m0 1v1M173 200v1m0 20v1m0 11v1m0 9v1M174 197v1m0 13v1m0 7v1m0 8v1m0 3v1m0 3v1m0 15v1m0 4v2m0 2v1m0 2v1m0 7v1m0 1v1m0 8v1M175 212v1M176 202v1m0 10v1m0 6v1m0 56v1m0 1v1m0 3v1m0 4v1M177 193v1m0 7v1m0 66v1m0 1v1m0 3v1M178 214v1m0 13v1m0 1v1m0 5v1m0 2v1m0 6v1m0 1v1m0 10v1m0 4v1m0 2v1m0 3v1m0 1v1m0 6v1m0 11v1M180 189v1m0 12v1m0 11v1m0 1v1m0 2v1m0 2v1m0 3v1m0 10v1m0 2v1m0 1v1m0 9v1m0 10v1m0 3v1m0 2v1m0 3v1M181 208v1m0 3v1m0 15v1m0 17v1m0 4v1M182 194v1m0 66v1m0 27v1M183 232v1M184 223v1m0 6v1m0 3v1m0 3v1m0 3v1m0 2v1m0 10v1m0 9v1m0 3v1M185 208v1M186 223v1m0 1v1m0 3v1m0 1v1m0 1v1m0 9v1m0 14v1m0 1v1m0 2v1m0 8v1M188 208v1m0 2v1m0 1v1m0 34v1m0 2v1m0 17v1m0 2v1M189 243v1m0 1v1m0 33v1M190 201v1m0 1v1m0 1v1m0 2v1m0 14v1m0 1v1m0 7v1m0 28v1m0 1v1M191 199v1m0 10v1m0 17v1m0 2v1m0 3v1m0 3v2m0 1v1m0 10v1m0 1v1m0 2v1m0 1v1m0 2v1m0 2v1m0 1v1M235 177v1m0 10v1m0 30v1m0 5v1m0 1v1m0 8v1m0 30v1M236 206v1M237 255v1M238 242v1m0 8v1M239 216v1m0 6v1m0 40v1m0 43v1M242 281v1m0 4v1M244 166v1m0 2v1m0 9v1m0 5v1m0 2v1m0 6v1m0 88v1m0 8v1m0 2v1m0 1v1m0 1v1m0 1v1m0 2v2m0 1v1m0 3v1m0 2v1m0 1v1m0 1v1M245 183v1m0 8v1m0 3v1m0 91v1M246 201v1m0 24v1m0 8v1m0 11v1m0 1v1m0 24v1m0 2v1m0 7v1m0 3v1m0 15v1M247 192v1m0 30v1m0 7v1m0 22v1m0 16v1M248 251v1m0 18v1M249 181v1m0 12v1m0 23v1m0 20v1m0 1v1m0 30v1m0 2v1M250 207v1m0 26v1M251 194v1m0 2v1m0 2v1m0 1v1m0 3v1m0 2v1m0 4v1m0 2v1m0 1v1m0 2v1m0 7v1m0 2v1m0 1v1m0 3v1m0 1v1m0 3v1m0 3v1m0 1v1m0 4v1m0 5v1m0 2v1m0 3v1m0 5v1m0 4v1m0 4v1m0 1v1m0 2v1m0 3v1M253 208v1m0 6v1m0 30v1m0 6v1m0 26v1M254 196v1m0 4v1m0 5v1m0 2v2m0 2v1m0 2v1m0 1v2m0 1v1m0 1v1m0 1v2m0 2v1m0 1v1m0 5v1m0 2v2m0 4v1m0 6v1m0 3v1m0 6v1m0 3v1m0 7v1M340 247v1M454 213v1m0 30v1M455 202v1m0 1v1m0 1v1m0 1v1m0 3v1m0 2v1m0 8v1m0 2v1m0 4v1m0 8v1m0 1v1m0 3v1m0 4v1m0 3v1m0 5v1m0 6v1m0 34v1m0 3v1M456 210v1m0 34v1m0 9v1M457 249v1M458 206v1m0 7v1m0 4v1m0 1v1m0 12v1m0 1v1m0 7v1m0 7v1m0 2v1m0 2v1m0 10v1m0 3v1m0 2v1M460 182v1m0 12v1m0 71v1m0 1v1m0 38v1m0 1v1m0 11v1M461 207v1m0 1v1m0 1v1m0 3v1m0 3v1m0 5v1m0 7v1m0 1v1m0 1v1m0 8v1m0 14v1m0 6v1m0 1v1m0 7v1M462 272v1M463 188v1m0 7v1m0 1v1m0 2v1m0 1v1m0 6v1m0 3v1m0 75v1M464 247v1m0 21v1M465 203v1m0 4v1m0 2v1m0 4v1m0 4v1m0 7v1m0 5v1m0 14v1m0 4v1m0 3v1m0 3v1M466 267v1M467 239v1m0 19v1m0 13v1m0 33v1M468 179v1m0 2v1m0 9v1m0 13v1m0 8v1m0 4v1m0 20v1m0 29v1M469 198v1m0 19v1m0 43v1M470 199v1m0 27v1M471 169v1m0 14v1m0 51v1m0 7v1M472 204v1m0 17v1m0 6v1m0 12v1m0 3v2m0 2v1m0 8v1m0 9v1m0 4v1M474 221v1m0 8v1m0 2v1m0 16v1m0 3v1M475 164v1m0 21v1m0 4v1m0 11v1m0 8v1m0 15v1m0 16v1M476 209v1m0 1v1m0 3v1m0 15v1m0 3v1m0 1v1m0 4v1m0 1v1m0 1v1m0 3v1m0 2v1m0 2v1m0 3v1m0 2v1m0 5v1m0 10v1m0 13v1M478 188v1m0 9v1m0 1v1m0 1v1m0 28v1m0 36v1m0 13v1M479 235v1m0 20v1m0 4v1m0 13v1m0 10v1M480 236v1m0 9v1m0 8v1M481 188v1m0 19v1m0 4v1m0 4v1m0 2v1m0 5v1m0 1v1m0 3v1m0 7v1m0 5v1m0 1v1m0 15v2m0 7v1m0 20v1m0 5v1M482 203v1M483 177v1m0 6v1m0 3v1m0 27v1m0 26v1m0 17v1m0 63v1M484 175v1m0 4v1m0 6v1m0 32v1m0 1v1m0 6v1m0 2v1m0 5v1m0 7v1m0 20v1M485 221v1m0 29v1M486 173v1m0 14v1m0 4v1m0 6v1m0 6v1m0 10v1m0 13v1m0 6v2m0 26v1m0 10v1m0 7v1m0 2v1m0 2v1m0 9v1m0 2v1m0 6v1m0 3v1m0 11v1m0 6v1m0 20v1m0 16v1M487 180v1m0 8v1m0 6v1m0 6v1m0 4v1m0 1v1m0 3v1m0 1v1m0 3v1m0 1v1m0 1v2m0 3v1m0 5v1m0 11v1m0 1v1m0 9v1m0 6v1m0 1v1m0 2v1m0 1v1m0 2v1M527 227v1m0 47v1M529 196v1m0 8v1m0 5v1m0 4v1m0 4v1m0 11v1m0 8v1m0 1v1m0 14v1M531 158v1m0 33v1m0 1v1m0 3v1m0 5v2m0 1v1m0 2v1m0 3v1m0 5v1m0 1v1m0 1v1m0 2v1m0 1v1m0 5v1m0 2v1m0 1v1m0 1v1m0 6v1m0 1v1m0 2v1m0 3v1m0 1v1m0 3v1m0 8v1m0 32v1m0 4v1M533 199v1M534 194v1m0 7v1m0 23v1m0 84v1M535 201v1m0 46v1m0 20v1m0 14v1m0 2v1M536 198v1m0 7v1m0 4v1m0 7v1m0 21v1m0 15v1m0 7v1M537 308v1M538 255v1m0 34v1M539 219v1m0 2v1m0 26v1m0 44v1M540 161v1m0 30v1m0 7v1M541 197v1m0 6v1m0 2v1m0 3v1m0 5v1m0 1v1m0 6v1m0 2v1m0 1v1m0 3v1m0 15v1m0 3v1m0 1v1m0 60v1M542 193v1m0 136v1M543 208v1M544 233v1m0 4v1m0 5v1m0 32v1m0 5v1m0 10v1M545 228v1m0 6v1m0 4v1m0 6v1m0 4v1m0 1v1m0 3v1m0 10v1m0 4v1m0 9v1m0 6v1m0 16v1M546 190v1m0 42v1M547 173v1m0 29v1m0 24v1m0 5v1M548 205v1m0 4v1m0 1v1m0 6v1m0 2v1m0 13v2m0 2v1m0 1v1m0 2v1m0 2v1m0 4v1m0 5v1m0 2v1m0 9v1m0 5v1m0 9v1M550 238v1M551 192v1m0 14v1m0 1v1m0 1v1m0 8v1m0 3v1m0 2v1m0 18v1m0 1v1m0 8v1m0 4v1m0 4v1m0 1v1M552 239v1M553 205v1m0 2v2m0 3v1m0 1v1m0 3v1m0 3v1m0 5v1m0 3v1m0 2v1m0 6v2m0 2v2m0 1v1m0 2v1m0 3v1m0 2v1m0 6v1m0 2v2" stroke-opacity="0.901"/></g>
<g>
<rect x="80.5" y="58.5" width="496" height="369" fill="none" stroke="#000" stroke-width="1.11"/>
<rect x="130.945" y="428" width="1.11" height="4.5" fill="#000"/>
<rect x="230.945" y="428" width="1.11" height="4.5" fill="#000"/>
<rect x="330.945" y="428" width="1.11" height="4.5" fill="#000"/>
<rect x="431.945" y="428" width="1.11" height="4.5" fill="#000"/>
<rect x="531.945" y="428" width="1.11" height="4.5" fill="#000"/>
<rect x="75.5" y="63.945" width="4.5" height="1.11" fill="#000"/>
<rect x="75.5" y="135.945" width="4.5" height="1.11" fill="#000"/>
<rect x="75.5" y="207.945" width="4.5" height="1.11" fill="#000"/>
<rect x="75.5" y="279.945" width="4.5" height="1.11" fill="#000"/>
<rect x="75.5" y="351.945" width="4.5" height="1.11" fill="#000"/>
<rect x="75.5" y="423.945" width="4.5" height="1.11" fill="#000"/>
<text x="107.4" y="448.1" font-size="14.0" textLength="47.8" lengthAdjust="spacingAndGlyphs">2.4540</text>
<text x="207.4" y="448.1" font-size="14.0" textLength="47.8" lengthAdjust="spacingAndGlyphs">2.4545</text>
<text x="307.4" y="448.1" font-size="14.0" textLength="47.8" lengthAdjust="spacingAndGlyphs">2.4550</text>
<text x="408.4" y="448.1" font-size="14.0" textLength="47.8" lengthAdjust="spacingAndGlyphs">2.4555</text>
<text x="508.4" y="448.1" font-size="14.0" textLength="47.8" lengthAdjust="spacingAndGlyphs">2.4560</text>
<text x="48.9" y="69.6" font-size="14.4" textLength="19.4" lengthAdjust="spacingAndGlyphs">3.5</text>
<text x="48.9" y="141.6" font-size="14.4" textLength="19.4" lengthAdjust="spacingAndGlyphs">3.0</text>
<text x="48.9" y="213.6" font-size="14.4" textLength="19.4" lengthAdjust="spacingAndGlyphs">2.5</text>
<text x="48.9" y="285.6" font-size="14.4" textLength="19.4" lengthAdjust="spacingAndGlyphs">2.0</text>
<text x="48.9" y="357.6" font-size="14.4" textLength="19.4" lengthAdjust="spacingAndGlyphs">1.5</text>
<text x="48.9" y="429.6" font-size="14.4" textLength="19.4" lengthAdjust="spacingAndGlyphs">1.0</text>
<text x="205.9" y="48.75" font-size="17.6" textLength="57.0" lengthAdjust="spacingAndGlyphs">1SWAS</text>
<text x="263.0" y="48.75" font-size="17.6" textLength="9.5" lengthAdjust="spacingAndGlyphs">P</text>
<text x="270.9" y="52.2" font-size="21.5" textLength="6.2" lengthAdjust="spacingAndGlyphs" stroke="#000" stroke-width="0.45">J</text>
<text x="278.0" y="49.0" font-size="17.6" textLength="173.5" lengthAdjust="spacingAndGlyphs">145649.01-392855.6</text>
<text x="313.15" y="466.7" font-size="14.2" textLength="30.5" lengthAdjust="spacingAndGlyphs">time</text>
<text x="550.25" y="466.0" font-size="14.0" textLength="24.5" lengthAdjust="spacingAndGlyphs">1e6</text>
<text transform="translate(39.4,255.85) rotate(-90)" font-size="14.0" textLength="24.2" lengthAdjust="spacingAndGlyphs">flux</text>
</g>
</svg>
</body></html>
